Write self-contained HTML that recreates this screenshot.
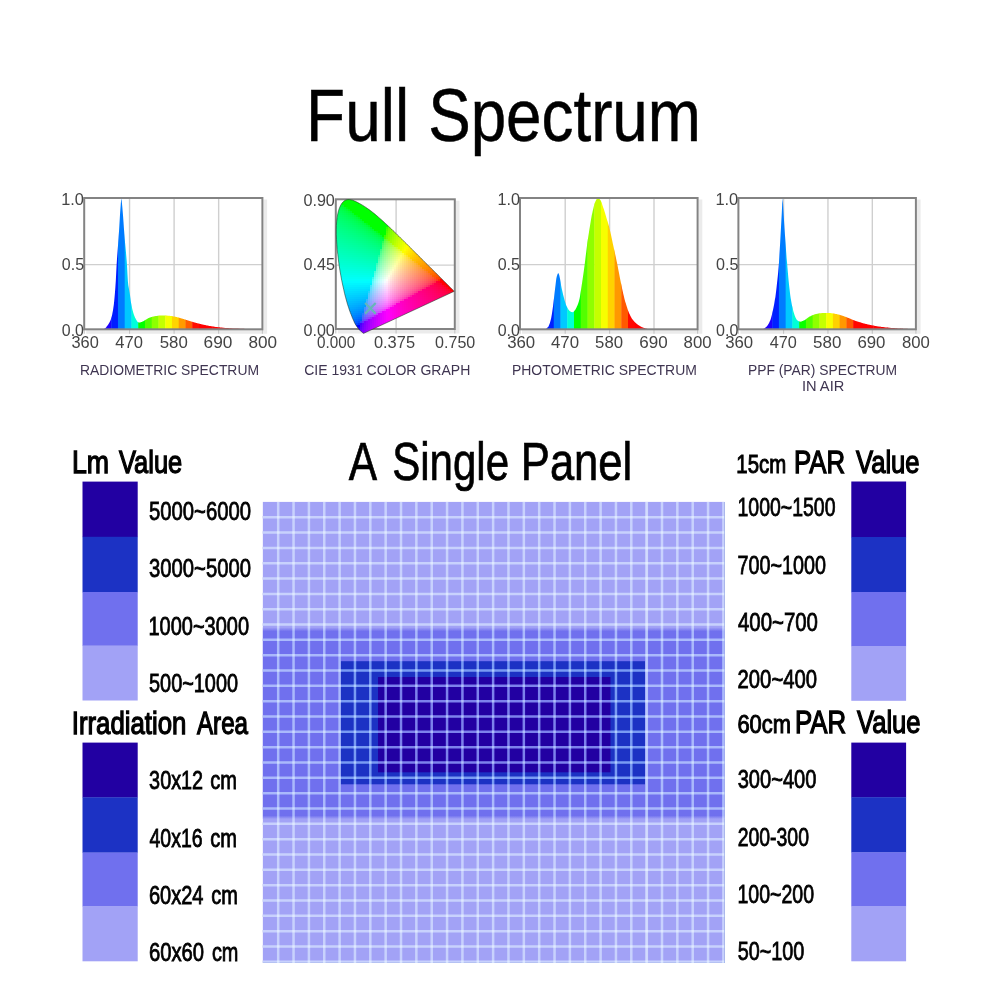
<!DOCTYPE html>
<html lang="en"><head><meta charset="utf-8"><title>Full Spectrum</title>
<style>html,body{margin:0;padding:0;background:#fff}body{width:1000px;height:1000px;overflow:hidden}svg{display:block}text{font-family:"Liberation Sans", sans-serif}.ax{font-size:13.6px;fill:#4a4a4a}.cap{font-size:12.5px;fill:#4d4058}</style></head><body>
<svg width="1000" height="1000" viewBox="0 0 1000 1000">
<rect width="1000" height="1000" fill="#fff"/>
<g>
<rect x="84.2" y="198.0" width="178.2" height="131.3" fill="#fff"/>
<line x1="129.55" y1="198.0" x2="129.55" y2="329.3" stroke="#cfcfcf" stroke-width="1.4"/>
<line x1="174.10" y1="198.0" x2="174.10" y2="329.3" stroke="#cfcfcf" stroke-width="1.4"/>
<line x1="218.65" y1="198.0" x2="218.65" y2="329.3" stroke="#cfcfcf" stroke-width="1.4"/>
<line x1="84.2" y1="264.65" x2="262.4" y2="264.65" stroke="#cfcfcf" stroke-width="1.4"/>
<clipPath id="c1"><path d="M102.4,329.3L102.4,329.3L102.8,329.3L103.2,329.2L103.6,329.1L104.0,328.9L104.5,328.7L104.9,328.5L105.3,328.2L105.7,327.8L106.1,327.4L106.5,326.8L106.9,326.3L107.3,325.8L107.7,325.3L108.1,324.7L108.5,324.1L108.9,323.4L109.3,322.7L109.7,322.0L110.1,321.2L110.5,320.3L110.9,319.3L111.3,318.1L111.7,316.7L112.1,314.9L112.5,312.8L113.0,310.3L113.4,307.6L113.8,304.7L114.2,301.0L114.6,296.7L115.0,292.1L115.4,286.8L115.8,280.7L116.2,272.7L116.6,265.0L117.0,258.8L117.4,253.4L117.8,248.3L118.2,243.1L118.6,237.7L119.0,231.5L119.4,224.7L119.8,217.9L120.2,211.4L120.7,205.1L121.1,199.9L121.5,198.7L121.9,202.7L122.3,206.8L122.7,211.4L123.1,216.4L123.5,222.0L123.9,227.9L124.3,233.7L124.7,238.7L125.1,243.3L125.5,247.5L125.9,251.7L126.3,256.2L126.7,261.1L127.1,266.9L127.5,274.8L127.9,281.6L128.3,285.2L128.8,288.0L129.2,290.2L129.6,292.5L130.0,295.1L130.4,298.0L130.8,301.0L131.2,303.7L131.6,305.9L132.0,307.7L132.4,309.4L132.8,311.0L133.2,312.4L133.6,313.8L134.0,315.0L134.4,316.1L134.8,317.0L135.2,317.9L135.6,318.6L136.0,319.4L136.4,320.1L136.8,320.8L137.3,321.4L137.7,321.9L138.1,322.3L138.5,322.5L138.9,322.6L139.3,322.6L139.7,322.5L140.1,322.4L140.5,322.3L140.9,322.2L141.3,322.0L141.7,321.9L142.1,321.7L142.5,321.6L142.9,321.4L143.3,321.3L143.7,321.1L144.1,320.8L144.5,320.6L144.9,320.3L145.4,320.1L145.8,319.8L146.2,319.5L146.6,319.2L147.0,319.0L147.4,318.7L147.8,318.5L148.2,318.2L148.6,318.0L149.0,317.9L149.4,317.7L149.8,317.6L150.2,317.4L150.6,317.3L151.0,317.2L151.4,317.0L151.8,316.9L152.2,316.8L152.6,316.7L153.1,316.6L153.5,316.5L153.9,316.4L154.3,316.3L154.7,316.2L155.1,316.2L155.5,316.1L155.9,316.0L156.3,316.0L156.7,315.9L157.1,315.9L157.5,315.8L157.9,315.8L158.3,315.7L158.7,315.7L159.1,315.6L159.5,315.6L159.9,315.6L160.3,315.5L160.7,315.5L161.1,315.5L161.6,315.5L162.0,315.5L162.4,315.5L162.8,315.5L163.2,315.5L163.6,315.5L164.0,315.5L164.4,315.6L164.8,315.6L165.2,315.6L165.6,315.6L166.0,315.6L166.4,315.6L166.8,315.6L167.2,315.6L167.6,315.7L168.0,315.7L168.4,315.7L168.8,315.8L169.2,315.8L169.7,315.8L170.1,315.9L170.5,315.9L170.9,316.0L171.3,316.1L171.7,316.1L172.1,316.2L172.5,316.2L172.9,316.3L173.3,316.4L173.7,316.4L174.1,316.5L174.5,316.6L174.9,316.7L175.3,316.7L175.7,316.8L176.1,316.9L176.5,317.0L176.9,317.1L177.3,317.2L177.8,317.4L178.2,317.5L178.6,317.6L179.0,317.7L179.4,317.8L179.8,317.9L180.2,318.1L180.6,318.2L181.0,318.3L181.4,318.4L181.8,318.5L182.2,318.6L182.6,318.8L183.0,318.9L183.4,319.0L183.8,319.1L184.2,319.3L184.6,319.4L185.0,319.5L185.4,319.7L185.9,319.8L186.3,319.9L186.7,320.1L187.1,320.2L187.5,320.3L187.9,320.5L188.3,320.6L188.7,320.7L189.1,320.8L189.5,321.0L189.9,321.1L190.3,321.2L190.7,321.3L191.1,321.5L191.5,321.6L191.9,321.7L192.3,321.8L192.7,321.9L193.1,322.0L193.6,322.2L194.0,322.3L194.4,322.4L194.8,322.5L195.2,322.6L195.6,322.7L196.0,322.9L196.4,323.0L196.8,323.1L197.2,323.2L197.6,323.3L198.0,323.4L198.4,323.5L198.8,323.6L199.2,323.7L199.6,323.8L200.0,323.9L200.4,324.0L200.8,324.1L201.2,324.2L201.6,324.3L202.1,324.4L202.5,324.5L202.9,324.6L203.3,324.7L203.7,324.8L204.1,324.8L204.5,324.9L204.9,325.0L205.3,325.1L205.7,325.2L206.1,325.3L206.5,325.4L206.9,325.4L207.3,325.5L207.7,325.6L208.1,325.7L208.5,325.8L208.9,325.8L209.3,325.9L209.8,326.0L210.2,326.1L210.6,326.1L211.0,326.2L211.4,326.3L211.8,326.3L212.2,326.4L212.6,326.5L213.0,326.5L213.4,326.6L213.8,326.6L214.2,326.7L214.6,326.8L215.0,326.8L215.4,326.9L215.8,326.9L216.2,327.0L216.6,327.0L217.0,327.1L217.4,327.1L217.8,327.2L218.3,327.2L218.7,327.2L219.1,327.3L219.5,327.3L219.9,327.4L220.3,327.4L220.7,327.5L221.1,327.5L221.5,327.6L221.9,327.6L222.3,327.6L222.7,327.7L223.1,327.7L223.5,327.8L223.9,327.8L224.3,327.8L224.7,327.9L225.1,327.9L225.5,327.9L225.9,328.0L226.4,328.0L226.8,328.0L227.2,328.1L227.6,328.1L228.0,328.1L228.4,328.1L228.8,328.2L229.2,328.2L229.6,328.2L230.0,328.2L230.4,328.3L230.8,328.3L231.2,328.3L231.6,328.3L232.0,328.4L232.4,328.4L232.8,328.4L233.2,328.4L233.6,328.4L234.1,328.5L234.5,328.5L234.9,328.5L235.3,328.5L235.7,328.5L236.1,328.5L236.5,328.6L236.9,328.6L237.3,328.6L237.7,328.6L238.1,328.6L238.5,328.6L238.9,328.7L239.3,328.7L239.7,328.7L240.1,328.7L240.5,328.7L240.9,328.7L241.3,328.7L241.7,328.8L242.1,328.8L242.6,328.8L243.0,328.8L243.4,328.8L243.8,328.8L244.2,328.8L244.6,328.9L245.0,328.9L245.4,328.9L245.8,328.9L246.2,328.9L246.6,328.9L247.0,328.9L247.4,328.9L247.8,329.0L248.2,329.0L248.6,329.0L249.0,329.0L249.4,329.0L249.8,329.0L250.2,329.0L250.7,329.0L251.1,329.1L251.5,329.1L251.9,329.1L252.3,329.1L252.7,329.1L253.1,329.1L253.5,329.1L253.9,329.1L254.3,329.1L254.7,329.1L255.1,329.2L255.5,329.2L255.9,329.2L256.3,329.2L256.7,329.2L257.1,329.2L257.5,329.2L257.9,329.2L258.3,329.2L258.8,329.2L259.2,329.3L259.6,329.3L260.0,329.3L260.4,329.3L260.8,329.3L261.2,329.3L261.6,329.3L261.6,329.3Z"/></clipPath>
<g clip-path="url(#c1)">
<rect x="84.20" y="198.0" width="7.15" height="131.3" fill="#3c009e"/>
<rect x="90.95" y="198.0" width="7.15" height="131.3" fill="#3c00c0"/>
<rect x="97.70" y="198.0" width="7.15" height="131.3" fill="#3300e8"/>
<rect x="104.45" y="198.0" width="7.15" height="131.3" fill="#1d00ff"/>
<rect x="111.20" y="198.0" width="7.15" height="131.3" fill="#001dff"/>
<rect x="117.95" y="198.0" width="7.15" height="131.3" fill="#007bff"/>
<rect x="124.70" y="198.0" width="7.15" height="131.3" fill="#00c7ff"/>
<rect x="131.45" y="198.0" width="7.15" height="131.3" fill="#00ffdc"/>
<rect x="138.20" y="198.0" width="7.15" height="131.3" fill="#00ff00"/>
<rect x="144.95" y="198.0" width="7.15" height="131.3" fill="#51ff00"/>
<rect x="151.70" y="198.0" width="7.15" height="131.3" fill="#8dff00"/>
<rect x="158.45" y="198.0" width="7.15" height="131.3" fill="#c3ff00"/>
<rect x="165.20" y="198.0" width="7.15" height="131.3" fill="#f5ff00"/>
<rect x="171.95" y="198.0" width="7.15" height="131.3" fill="#ffd400"/>
<rect x="178.70" y="198.0" width="7.15" height="131.3" fill="#ff9b00"/>
<rect x="185.45" y="198.0" width="7.15" height="131.3" fill="#ff5d00"/>
<rect x="192.20" y="198.0" width="7.15" height="131.3" fill="#ff0e00"/>
<rect x="198.95" y="198.0" width="7.15" height="131.3" fill="#ff0000"/>
<rect x="205.70" y="198.0" width="7.15" height="131.3" fill="#ff0000"/>
<rect x="212.45" y="198.0" width="7.15" height="131.3" fill="#ff0000"/>
<rect x="219.20" y="198.0" width="7.15" height="131.3" fill="#f50000"/>
<rect x="225.95" y="198.0" width="7.15" height="131.3" fill="#e30000"/>
<rect x="232.70" y="198.0" width="7.15" height="131.3" fill="#d20000"/>
<rect x="239.45" y="198.0" width="7.15" height="131.3" fill="#c00000"/>
<rect x="246.20" y="198.0" width="7.15" height="131.3" fill="#ad0000"/>
<rect x="252.95" y="198.0" width="7.15" height="131.3" fill="#a90000"/>
<rect x="259.70" y="198.0" width="7.15" height="131.3" fill="#a90000"/>
</g>
<path d="M265.3,199.5V331.9H86.2" fill="none" stroke="#ebebeb" stroke-width="3.6"/>
<line x1="84.20" y1="329.3" x2="84.20" y2="333.8" stroke="#c4c4c4" stroke-width="1.1"/>
<line x1="129.55" y1="329.3" x2="129.55" y2="333.8" stroke="#c4c4c4" stroke-width="1.1"/>
<line x1="174.10" y1="329.3" x2="174.10" y2="333.8" stroke="#c4c4c4" stroke-width="1.1"/>
<line x1="218.65" y1="329.3" x2="218.65" y2="333.8" stroke="#c4c4c4" stroke-width="1.1"/>
<line x1="262.40" y1="329.3" x2="262.40" y2="333.8" stroke="#c4c4c4" stroke-width="1.1"/>
<rect x="84.2" y="198.0" width="178.2" height="131.3" fill="none" stroke="#838383" stroke-width="2"/>
</g>
<g>
<rect x="335.8" y="199.3" width="119.0" height="129.7" fill="#fff"/>
<line x1="396.10" y1="199.3" x2="396.10" y2="329.0" stroke="#cfcfcf" stroke-width="1.4"/>
<line x1="335.8" y1="265.15" x2="454.8" y2="265.15" stroke="#cfcfcf" stroke-width="1.4"/>
<path d="M457.7,200.8V331.6H337.8" fill="none" stroke="#ebebeb" stroke-width="3.6"/>
<line x1="335.80" y1="329.0" x2="335.80" y2="333.5" stroke="#c4c4c4" stroke-width="1.1"/>
<line x1="396.10" y1="329.0" x2="396.10" y2="333.5" stroke="#c4c4c4" stroke-width="1.1"/>
<line x1="454.80" y1="329.0" x2="454.80" y2="333.5" stroke="#c4c4c4" stroke-width="1.1"/>
<rect x="335.8" y="199.3" width="119.0" height="129.7" fill="none" stroke="#838383" stroke-width="2"/>
</g>
<clipPath id="cie"><path d="M363.8,333.3L363.8,333.3L363.7,333.3L363.7,333.3L363.6,333.3L363.6,333.3L363.5,333.3L363.4,333.3L363.3,333.3L363.2,333.2L363.1,333.1L363.0,333.1L362.9,332.9L362.7,332.8L362.6,332.6L362.3,332.5L362.1,332.2L361.8,332.0L361.5,331.7L361.1,331.4L360.7,331.1L360.3,330.7L359.7,330.2L359.1,329.5L358.4,328.6L357.5,327.5L356.6,326.2L355.8,325.0L355.1,323.8L354.5,322.7L354.0,321.5L353.4,320.1L352.7,318.6L352.0,316.8L351.2,314.7L350.3,312.5L349.4,310.0L348.5,307.2L347.5,304.3L346.6,301.0L345.6,297.4L344.6,293.6L343.7,289.4L342.7,285.0L341.7,280.3L340.8,275.4L339.9,270.3L339.1,265.1L338.4,259.9L337.8,254.6L337.2,249.4L336.8,244.3L336.5,239.3L336.3,234.5L336.3,229.8L336.4,225.4L336.7,221.2L337.2,217.3L337.8,213.7L338.6,210.4L339.6,207.6L340.7,205.2L341.9,203.2L343.3,201.7L344.7,200.6L346.2,199.9L347.8,199.6L349.4,199.6L351.1,199.9L352.8,200.3L354.5,201.0L356.2,201.7L357.8,202.6L359.5,203.5L361.2,204.4L362.8,205.4L364.4,206.4L365.9,207.4L367.5,208.5L369.0,209.6L370.6,210.7L372.1,211.9L373.6,213.1L375.1,214.3L376.6,215.6L378.1,216.9L379.6,218.2L381.1,219.5L382.6,220.8L384.1,222.2L385.5,223.5L387.0,224.9L388.5,226.3L390.0,227.7L391.5,229.1L393.0,230.6L394.5,232.0L396.0,233.4L397.4,234.9L398.9,236.3L400.4,237.8L401.9,239.2L403.4,240.7L404.8,242.2L406.3,243.6L407.8,245.1L409.2,246.5L410.7,247.9L412.1,249.4L413.5,250.8L414.9,252.2L416.3,253.6L417.7,255.0L419.1,256.3L420.5,257.7L421.8,259.0L423.1,260.4L424.4,261.7L425.7,262.9L427.0,264.2L428.2,265.4L429.4,266.6L430.7,267.9L431.8,269.0L432.9,270.0L433.8,271.0L434.7,271.9L435.7,272.8L436.9,274.0L438.4,275.5L440.1,277.2L441.8,278.9L443.3,280.4L444.6,281.7L445.7,282.8L446.6,283.8L447.5,284.6L448.2,285.3L448.9,286.0L449.5,286.6L450.1,287.2L450.6,287.7L451.1,288.2L451.5,288.6L451.9,289.0L452.2,289.3L452.5,289.6L452.7,289.8L452.9,290.0L453.1,290.2L453.3,290.4L453.4,290.5L453.6,290.7L453.7,290.8L453.9,291.0L454.0,291.1L454.1,291.2L454.2,291.3L454.2,291.3L454.2,291.3Z"/></clipPath>
<g clip-path="url(#cie)" shape-rendering="crispEdges">
<rect x="344" y="197" width="2" height="2" fill="#00ff00"/>
<rect x="346" y="197" width="2" height="2" fill="#00ff00"/>
<rect x="348" y="197" width="2" height="2" fill="#00ff00"/>
<rect x="350" y="197" width="2" height="2" fill="#00ff00"/>
<rect x="352" y="197" width="2" height="2" fill="#00ff00"/>
<rect x="340" y="199" width="2" height="2" fill="#00ff00"/>
<rect x="342" y="199" width="2" height="2" fill="#00ff00"/>
<rect x="344" y="199" width="2" height="2" fill="#00ff00"/>
<rect x="346" y="199" width="2" height="2" fill="#00ff00"/>
<rect x="348" y="199" width="2" height="2" fill="#00ff00"/>
<rect x="350" y="199" width="2" height="2" fill="#00ff00"/>
<rect x="352" y="199" width="2" height="2" fill="#00ff00"/>
<rect x="354" y="199" width="2" height="2" fill="#00ff00"/>
<rect x="356" y="199" width="2" height="2" fill="#00ff00"/>
<rect x="340" y="201" width="2" height="2" fill="#00ff00"/>
<rect x="342" y="201" width="2" height="2" fill="#00ff00"/>
<rect x="344" y="201" width="2" height="2" fill="#00ff00"/>
<rect x="346" y="201" width="2" height="2" fill="#00ff00"/>
<rect x="348" y="201" width="2" height="2" fill="#00ff00"/>
<rect x="350" y="201" width="2" height="2" fill="#00ff00"/>
<rect x="352" y="201" width="2" height="2" fill="#00ff00"/>
<rect x="354" y="201" width="2" height="2" fill="#00ff00"/>
<rect x="356" y="201" width="2" height="2" fill="#00ff00"/>
<rect x="358" y="201" width="2" height="2" fill="#00ff00"/>
<rect x="360" y="201" width="2" height="2" fill="#00ff00"/>
<rect x="338" y="203" width="2" height="2" fill="#00ff35"/>
<rect x="340" y="203" width="2" height="2" fill="#00ff25"/>
<rect x="342" y="203" width="2" height="2" fill="#00ff00"/>
<rect x="344" y="203" width="2" height="2" fill="#00ff00"/>
<rect x="346" y="203" width="2" height="2" fill="#00ff00"/>
<rect x="348" y="203" width="2" height="2" fill="#00ff00"/>
<rect x="350" y="203" width="2" height="2" fill="#00ff00"/>
<rect x="352" y="203" width="2" height="2" fill="#00ff00"/>
<rect x="354" y="203" width="2" height="2" fill="#00ff00"/>
<rect x="356" y="203" width="2" height="2" fill="#00ff00"/>
<rect x="358" y="203" width="2" height="2" fill="#00ff00"/>
<rect x="360" y="203" width="2" height="2" fill="#00ff00"/>
<rect x="362" y="203" width="2" height="2" fill="#00ff00"/>
<rect x="364" y="203" width="2" height="2" fill="#00ff00"/>
<rect x="338" y="205" width="2" height="2" fill="#00ff42"/>
<rect x="340" y="205" width="2" height="2" fill="#00ff39"/>
<rect x="342" y="205" width="2" height="2" fill="#00ff2b"/>
<rect x="344" y="205" width="2" height="2" fill="#00ff00"/>
<rect x="346" y="205" width="2" height="2" fill="#00ff00"/>
<rect x="348" y="205" width="2" height="2" fill="#00ff00"/>
<rect x="350" y="205" width="2" height="2" fill="#00ff00"/>
<rect x="352" y="205" width="2" height="2" fill="#00ff00"/>
<rect x="354" y="205" width="2" height="2" fill="#00ff00"/>
<rect x="356" y="205" width="2" height="2" fill="#00ff00"/>
<rect x="358" y="205" width="2" height="2" fill="#00ff00"/>
<rect x="360" y="205" width="2" height="2" fill="#00ff00"/>
<rect x="362" y="205" width="2" height="2" fill="#00ff00"/>
<rect x="364" y="205" width="2" height="2" fill="#00ff00"/>
<rect x="366" y="205" width="2" height="2" fill="#00ff00"/>
<rect x="336" y="207" width="2" height="2" fill="#00ff52"/>
<rect x="338" y="207" width="2" height="2" fill="#00ff4c"/>
<rect x="340" y="207" width="2" height="2" fill="#00ff45"/>
<rect x="342" y="207" width="2" height="2" fill="#00ff3c"/>
<rect x="344" y="207" width="2" height="2" fill="#00ff30"/>
<rect x="346" y="207" width="2" height="2" fill="#00ff13"/>
<rect x="348" y="207" width="2" height="2" fill="#00ff00"/>
<rect x="350" y="207" width="2" height="2" fill="#00ff00"/>
<rect x="352" y="207" width="2" height="2" fill="#00ff00"/>
<rect x="354" y="207" width="2" height="2" fill="#00ff00"/>
<rect x="356" y="207" width="2" height="2" fill="#00ff00"/>
<rect x="358" y="207" width="2" height="2" fill="#00ff00"/>
<rect x="360" y="207" width="2" height="2" fill="#00ff00"/>
<rect x="362" y="207" width="2" height="2" fill="#00ff00"/>
<rect x="364" y="207" width="2" height="2" fill="#00ff00"/>
<rect x="366" y="207" width="2" height="2" fill="#00ff00"/>
<rect x="368" y="207" width="2" height="2" fill="#00ff00"/>
<rect x="370" y="207" width="2" height="2" fill="#00ff00"/>
<rect x="336" y="209" width="2" height="2" fill="#00ff59"/>
<rect x="338" y="209" width="2" height="2" fill="#00ff54"/>
<rect x="340" y="209" width="2" height="2" fill="#00ff4f"/>
<rect x="342" y="209" width="2" height="2" fill="#00ff48"/>
<rect x="344" y="209" width="2" height="2" fill="#00ff3f"/>
<rect x="346" y="209" width="2" height="2" fill="#00ff34"/>
<rect x="348" y="209" width="2" height="2" fill="#00ff20"/>
<rect x="350" y="209" width="2" height="2" fill="#00ff00"/>
<rect x="352" y="209" width="2" height="2" fill="#00ff00"/>
<rect x="354" y="209" width="2" height="2" fill="#00ff00"/>
<rect x="356" y="209" width="2" height="2" fill="#00ff00"/>
<rect x="358" y="209" width="2" height="2" fill="#00ff00"/>
<rect x="360" y="209" width="2" height="2" fill="#00ff00"/>
<rect x="362" y="209" width="2" height="2" fill="#00ff00"/>
<rect x="364" y="209" width="2" height="2" fill="#00ff00"/>
<rect x="366" y="209" width="2" height="2" fill="#00ff00"/>
<rect x="368" y="209" width="2" height="2" fill="#00ff00"/>
<rect x="370" y="209" width="2" height="2" fill="#00ff00"/>
<rect x="372" y="209" width="2" height="2" fill="#00ff00"/>
<rect x="336" y="211" width="2" height="2" fill="#00ff60"/>
<rect x="338" y="211" width="2" height="2" fill="#00ff5c"/>
<rect x="340" y="211" width="2" height="2" fill="#00ff57"/>
<rect x="342" y="211" width="2" height="2" fill="#00ff51"/>
<rect x="344" y="211" width="2" height="2" fill="#00ff4a"/>
<rect x="346" y="211" width="2" height="2" fill="#00ff42"/>
<rect x="348" y="211" width="2" height="2" fill="#00ff38"/>
<rect x="350" y="211" width="2" height="2" fill="#00ff27"/>
<rect x="352" y="211" width="2" height="2" fill="#00ff00"/>
<rect x="354" y="211" width="2" height="2" fill="#00ff00"/>
<rect x="356" y="211" width="2" height="2" fill="#00ff00"/>
<rect x="358" y="211" width="2" height="2" fill="#00ff00"/>
<rect x="360" y="211" width="2" height="2" fill="#00ff00"/>
<rect x="362" y="211" width="2" height="2" fill="#00ff00"/>
<rect x="364" y="211" width="2" height="2" fill="#00ff00"/>
<rect x="366" y="211" width="2" height="2" fill="#00ff00"/>
<rect x="368" y="211" width="2" height="2" fill="#00ff00"/>
<rect x="370" y="211" width="2" height="2" fill="#00ff00"/>
<rect x="372" y="211" width="2" height="2" fill="#00ff00"/>
<rect x="374" y="211" width="2" height="2" fill="#00ff00"/>
<rect x="336" y="213" width="2" height="2" fill="#00ff66"/>
<rect x="338" y="213" width="2" height="2" fill="#00ff62"/>
<rect x="340" y="213" width="2" height="2" fill="#00ff5e"/>
<rect x="342" y="213" width="2" height="2" fill="#00ff59"/>
<rect x="344" y="213" width="2" height="2" fill="#00ff53"/>
<rect x="346" y="213" width="2" height="2" fill="#00ff4d"/>
<rect x="348" y="213" width="2" height="2" fill="#00ff45"/>
<rect x="350" y="213" width="2" height="2" fill="#00ff3c"/>
<rect x="352" y="213" width="2" height="2" fill="#00ff2d"/>
<rect x="354" y="213" width="2" height="2" fill="#00ff00"/>
<rect x="356" y="213" width="2" height="2" fill="#00ff00"/>
<rect x="358" y="213" width="2" height="2" fill="#00ff00"/>
<rect x="360" y="213" width="2" height="2" fill="#00ff00"/>
<rect x="362" y="213" width="2" height="2" fill="#00ff00"/>
<rect x="364" y="213" width="2" height="2" fill="#00ff00"/>
<rect x="366" y="213" width="2" height="2" fill="#00ff00"/>
<rect x="368" y="213" width="2" height="2" fill="#00ff00"/>
<rect x="370" y="213" width="2" height="2" fill="#00ff00"/>
<rect x="372" y="213" width="2" height="2" fill="#00ff00"/>
<rect x="374" y="213" width="2" height="2" fill="#00ff00"/>
<rect x="376" y="213" width="2" height="2" fill="#00ff00"/>
<rect x="378" y="213" width="2" height="2" fill="#00ff00"/>
<rect x="336" y="215" width="2" height="2" fill="#00ff6c"/>
<rect x="338" y="215" width="2" height="2" fill="#00ff68"/>
<rect x="340" y="215" width="2" height="2" fill="#00ff64"/>
<rect x="342" y="215" width="2" height="2" fill="#00ff60"/>
<rect x="344" y="215" width="2" height="2" fill="#00ff5b"/>
<rect x="346" y="215" width="2" height="2" fill="#00ff56"/>
<rect x="348" y="215" width="2" height="2" fill="#00ff50"/>
<rect x="350" y="215" width="2" height="2" fill="#00ff48"/>
<rect x="352" y="215" width="2" height="2" fill="#00ff3f"/>
<rect x="354" y="215" width="2" height="2" fill="#00ff32"/>
<rect x="356" y="215" width="2" height="2" fill="#00ff17"/>
<rect x="358" y="215" width="2" height="2" fill="#00ff00"/>
<rect x="360" y="215" width="2" height="2" fill="#00ff00"/>
<rect x="362" y="215" width="2" height="2" fill="#00ff00"/>
<rect x="364" y="215" width="2" height="2" fill="#00ff00"/>
<rect x="366" y="215" width="2" height="2" fill="#00ff00"/>
<rect x="368" y="215" width="2" height="2" fill="#00ff00"/>
<rect x="370" y="215" width="2" height="2" fill="#00ff00"/>
<rect x="372" y="215" width="2" height="2" fill="#00ff00"/>
<rect x="374" y="215" width="2" height="2" fill="#00ff00"/>
<rect x="376" y="215" width="2" height="2" fill="#00ff00"/>
<rect x="378" y="215" width="2" height="2" fill="#00ff00"/>
<rect x="380" y="215" width="2" height="2" fill="#00ff00"/>
<rect x="334" y="217" width="2" height="2" fill="#00ff74"/>
<rect x="336" y="217" width="2" height="2" fill="#00ff71"/>
<rect x="338" y="217" width="2" height="2" fill="#00ff6e"/>
<rect x="340" y="217" width="2" height="2" fill="#00ff6a"/>
<rect x="342" y="217" width="2" height="2" fill="#00ff66"/>
<rect x="344" y="217" width="2" height="2" fill="#00ff62"/>
<rect x="346" y="217" width="2" height="2" fill="#00ff5d"/>
<rect x="348" y="217" width="2" height="2" fill="#00ff58"/>
<rect x="350" y="217" width="2" height="2" fill="#00ff52"/>
<rect x="352" y="217" width="2" height="2" fill="#00ff4b"/>
<rect x="354" y="217" width="2" height="2" fill="#00ff42"/>
<rect x="356" y="217" width="2" height="2" fill="#00ff37"/>
<rect x="358" y="217" width="2" height="2" fill="#00ff23"/>
<rect x="360" y="217" width="2" height="2" fill="#00ff00"/>
<rect x="362" y="217" width="2" height="2" fill="#00ff00"/>
<rect x="364" y="217" width="2" height="2" fill="#00ff00"/>
<rect x="366" y="217" width="2" height="2" fill="#00ff00"/>
<rect x="368" y="217" width="2" height="2" fill="#00ff00"/>
<rect x="370" y="217" width="2" height="2" fill="#00ff00"/>
<rect x="372" y="217" width="2" height="2" fill="#00ff00"/>
<rect x="374" y="217" width="2" height="2" fill="#00ff00"/>
<rect x="376" y="217" width="2" height="2" fill="#00ff00"/>
<rect x="378" y="217" width="2" height="2" fill="#00ff00"/>
<rect x="380" y="217" width="2" height="2" fill="#00ff00"/>
<rect x="382" y="217" width="2" height="2" fill="#00ff00"/>
<rect x="334" y="219" width="2" height="2" fill="#00ff79"/>
<rect x="336" y="219" width="2" height="2" fill="#00ff76"/>
<rect x="338" y="219" width="2" height="2" fill="#00ff73"/>
<rect x="340" y="219" width="2" height="2" fill="#00ff70"/>
<rect x="342" y="219" width="2" height="2" fill="#00ff6c"/>
<rect x="344" y="219" width="2" height="2" fill="#00ff68"/>
<rect x="346" y="219" width="2" height="2" fill="#00ff64"/>
<rect x="348" y="219" width="2" height="2" fill="#00ff60"/>
<rect x="350" y="219" width="2" height="2" fill="#00ff5b"/>
<rect x="352" y="219" width="2" height="2" fill="#00ff55"/>
<rect x="354" y="219" width="2" height="2" fill="#00ff4e"/>
<rect x="356" y="219" width="2" height="2" fill="#00ff46"/>
<rect x="358" y="219" width="2" height="2" fill="#00ff3b"/>
<rect x="360" y="219" width="2" height="2" fill="#00ff2a"/>
<rect x="362" y="219" width="2" height="2" fill="#00ff00"/>
<rect x="364" y="219" width="2" height="2" fill="#00ff00"/>
<rect x="366" y="219" width="2" height="2" fill="#00ff00"/>
<rect x="368" y="219" width="2" height="2" fill="#00ff00"/>
<rect x="370" y="219" width="2" height="2" fill="#00ff00"/>
<rect x="372" y="219" width="2" height="2" fill="#00ff00"/>
<rect x="374" y="219" width="2" height="2" fill="#00ff00"/>
<rect x="376" y="219" width="2" height="2" fill="#00ff00"/>
<rect x="378" y="219" width="2" height="2" fill="#00ff00"/>
<rect x="380" y="219" width="2" height="2" fill="#00ff00"/>
<rect x="382" y="219" width="2" height="2" fill="#00ff00"/>
<rect x="384" y="219" width="2" height="2" fill="#00ff00"/>
<rect x="334" y="221" width="2" height="2" fill="#00ff7e"/>
<rect x="336" y="221" width="2" height="2" fill="#00ff7b"/>
<rect x="338" y="221" width="2" height="2" fill="#00ff78"/>
<rect x="340" y="221" width="2" height="2" fill="#00ff75"/>
<rect x="342" y="221" width="2" height="2" fill="#00ff72"/>
<rect x="344" y="221" width="2" height="2" fill="#00ff6e"/>
<rect x="346" y="221" width="2" height="2" fill="#00ff6b"/>
<rect x="348" y="221" width="2" height="2" fill="#00ff67"/>
<rect x="350" y="221" width="2" height="2" fill="#00ff62"/>
<rect x="352" y="221" width="2" height="2" fill="#00ff5d"/>
<rect x="354" y="221" width="2" height="2" fill="#00ff57"/>
<rect x="356" y="221" width="2" height="2" fill="#00ff51"/>
<rect x="358" y="221" width="2" height="2" fill="#00ff49"/>
<rect x="360" y="221" width="2" height="2" fill="#00ff3f"/>
<rect x="362" y="221" width="2" height="2" fill="#00ff30"/>
<rect x="364" y="221" width="2" height="2" fill="#00ff00"/>
<rect x="366" y="221" width="2" height="2" fill="#00ff00"/>
<rect x="368" y="221" width="2" height="2" fill="#00ff00"/>
<rect x="370" y="221" width="2" height="2" fill="#00ff00"/>
<rect x="372" y="221" width="2" height="2" fill="#00ff00"/>
<rect x="374" y="221" width="2" height="2" fill="#00ff00"/>
<rect x="376" y="221" width="2" height="2" fill="#00ff00"/>
<rect x="378" y="221" width="2" height="2" fill="#00ff00"/>
<rect x="380" y="221" width="2" height="2" fill="#00ff00"/>
<rect x="382" y="221" width="2" height="2" fill="#00ff00"/>
<rect x="384" y="221" width="2" height="2" fill="#00ff00"/>
<rect x="386" y="221" width="2" height="2" fill="#00ff00"/>
<rect x="334" y="223" width="2" height="2" fill="#00ff82"/>
<rect x="336" y="223" width="2" height="2" fill="#00ff80"/>
<rect x="338" y="223" width="2" height="2" fill="#00ff7d"/>
<rect x="340" y="223" width="2" height="2" fill="#00ff7a"/>
<rect x="342" y="223" width="2" height="2" fill="#00ff77"/>
<rect x="344" y="223" width="2" height="2" fill="#00ff74"/>
<rect x="346" y="223" width="2" height="2" fill="#00ff71"/>
<rect x="348" y="223" width="2" height="2" fill="#00ff6d"/>
<rect x="350" y="223" width="2" height="2" fill="#00ff69"/>
<rect x="352" y="223" width="2" height="2" fill="#00ff64"/>
<rect x="354" y="223" width="2" height="2" fill="#00ff5f"/>
<rect x="356" y="223" width="2" height="2" fill="#00ff5a"/>
<rect x="358" y="223" width="2" height="2" fill="#00ff53"/>
<rect x="360" y="223" width="2" height="2" fill="#00ff4c"/>
<rect x="362" y="223" width="2" height="2" fill="#00ff42"/>
<rect x="364" y="223" width="2" height="2" fill="#00ff35"/>
<rect x="366" y="223" width="2" height="2" fill="#00ff1a"/>
<rect x="368" y="223" width="2" height="2" fill="#00ff00"/>
<rect x="370" y="223" width="2" height="2" fill="#00ff00"/>
<rect x="372" y="223" width="2" height="2" fill="#00ff00"/>
<rect x="374" y="223" width="2" height="2" fill="#00ff00"/>
<rect x="376" y="223" width="2" height="2" fill="#00ff00"/>
<rect x="378" y="223" width="2" height="2" fill="#00ff00"/>
<rect x="380" y="223" width="2" height="2" fill="#00ff00"/>
<rect x="382" y="223" width="2" height="2" fill="#00ff00"/>
<rect x="384" y="223" width="2" height="2" fill="#00ff00"/>
<rect x="386" y="223" width="2" height="2" fill="#00ff00"/>
<rect x="388" y="223" width="2" height="2" fill="#47ff00"/>
<rect x="334" y="225" width="2" height="2" fill="#00ff87"/>
<rect x="336" y="225" width="2" height="2" fill="#00ff84"/>
<rect x="338" y="225" width="2" height="2" fill="#00ff82"/>
<rect x="340" y="225" width="2" height="2" fill="#00ff7f"/>
<rect x="342" y="225" width="2" height="2" fill="#00ff7c"/>
<rect x="344" y="225" width="2" height="2" fill="#00ff79"/>
<rect x="346" y="225" width="2" height="2" fill="#00ff76"/>
<rect x="348" y="225" width="2" height="2" fill="#00ff73"/>
<rect x="350" y="225" width="2" height="2" fill="#00ff6f"/>
<rect x="352" y="225" width="2" height="2" fill="#00ff6b"/>
<rect x="354" y="225" width="2" height="2" fill="#00ff67"/>
<rect x="356" y="225" width="2" height="2" fill="#00ff62"/>
<rect x="358" y="225" width="2" height="2" fill="#00ff5d"/>
<rect x="360" y="225" width="2" height="2" fill="#00ff56"/>
<rect x="362" y="225" width="2" height="2" fill="#00ff4f"/>
<rect x="364" y="225" width="2" height="2" fill="#00ff46"/>
<rect x="366" y="225" width="2" height="2" fill="#00ff3a"/>
<rect x="368" y="225" width="2" height="2" fill="#00ff26"/>
<rect x="370" y="225" width="2" height="2" fill="#00ff00"/>
<rect x="372" y="225" width="2" height="2" fill="#00ff00"/>
<rect x="374" y="225" width="2" height="2" fill="#00ff00"/>
<rect x="376" y="225" width="2" height="2" fill="#00ff00"/>
<rect x="378" y="225" width="2" height="2" fill="#00ff00"/>
<rect x="380" y="225" width="2" height="2" fill="#00ff00"/>
<rect x="382" y="225" width="2" height="2" fill="#00ff00"/>
<rect x="384" y="225" width="2" height="2" fill="#00ff00"/>
<rect x="386" y="225" width="2" height="2" fill="#00ff00"/>
<rect x="388" y="225" width="2" height="2" fill="#53ff00"/>
<rect x="390" y="225" width="2" height="2" fill="#6dff00"/>
<rect x="334" y="227" width="2" height="2" fill="#00ff8b"/>
<rect x="336" y="227" width="2" height="2" fill="#00ff89"/>
<rect x="338" y="227" width="2" height="2" fill="#00ff86"/>
<rect x="340" y="227" width="2" height="2" fill="#00ff84"/>
<rect x="342" y="227" width="2" height="2" fill="#00ff81"/>
<rect x="344" y="227" width="2" height="2" fill="#00ff7f"/>
<rect x="346" y="227" width="2" height="2" fill="#00ff7c"/>
<rect x="348" y="227" width="2" height="2" fill="#00ff78"/>
<rect x="350" y="227" width="2" height="2" fill="#00ff75"/>
<rect x="352" y="227" width="2" height="2" fill="#00ff71"/>
<rect x="354" y="227" width="2" height="2" fill="#00ff6e"/>
<rect x="356" y="227" width="2" height="2" fill="#00ff69"/>
<rect x="358" y="227" width="2" height="2" fill="#00ff64"/>
<rect x="360" y="227" width="2" height="2" fill="#00ff5f"/>
<rect x="362" y="227" width="2" height="2" fill="#00ff59"/>
<rect x="364" y="227" width="2" height="2" fill="#00ff52"/>
<rect x="366" y="227" width="2" height="2" fill="#00ff4a"/>
<rect x="368" y="227" width="2" height="2" fill="#00ff3e"/>
<rect x="370" y="227" width="2" height="2" fill="#00ff2d"/>
<rect x="372" y="227" width="2" height="2" fill="#00ff00"/>
<rect x="374" y="227" width="2" height="2" fill="#00ff00"/>
<rect x="376" y="227" width="2" height="2" fill="#00ff00"/>
<rect x="378" y="227" width="2" height="2" fill="#00ff00"/>
<rect x="380" y="227" width="2" height="2" fill="#00ff00"/>
<rect x="382" y="227" width="2" height="2" fill="#00ff00"/>
<rect x="384" y="227" width="2" height="2" fill="#00ff00"/>
<rect x="386" y="227" width="2" height="2" fill="#2dff00"/>
<rect x="388" y="227" width="2" height="2" fill="#5cff00"/>
<rect x="390" y="227" width="2" height="2" fill="#74ff00"/>
<rect x="392" y="227" width="2" height="2" fill="#85ff00"/>
<rect x="334" y="229" width="2" height="2" fill="#00ff8f"/>
<rect x="336" y="229" width="2" height="2" fill="#00ff8d"/>
<rect x="338" y="229" width="2" height="2" fill="#00ff8b"/>
<rect x="340" y="229" width="2" height="2" fill="#00ff89"/>
<rect x="342" y="229" width="2" height="2" fill="#00ff86"/>
<rect x="344" y="229" width="2" height="2" fill="#00ff84"/>
<rect x="346" y="229" width="2" height="2" fill="#00ff81"/>
<rect x="348" y="229" width="2" height="2" fill="#00ff7e"/>
<rect x="350" y="229" width="2" height="2" fill="#00ff7b"/>
<rect x="352" y="229" width="2" height="2" fill="#00ff77"/>
<rect x="354" y="229" width="2" height="2" fill="#00ff74"/>
<rect x="356" y="229" width="2" height="2" fill="#00ff70"/>
<rect x="358" y="229" width="2" height="2" fill="#00ff6c"/>
<rect x="360" y="229" width="2" height="2" fill="#00ff67"/>
<rect x="362" y="229" width="2" height="2" fill="#00ff62"/>
<rect x="364" y="229" width="2" height="2" fill="#00ff5c"/>
<rect x="366" y="229" width="2" height="2" fill="#00ff55"/>
<rect x="368" y="229" width="2" height="2" fill="#00ff4d"/>
<rect x="370" y="229" width="2" height="2" fill="#00ff43"/>
<rect x="372" y="229" width="2" height="2" fill="#00ff33"/>
<rect x="374" y="229" width="2" height="2" fill="#00ff00"/>
<rect x="376" y="229" width="2" height="2" fill="#00ff00"/>
<rect x="378" y="229" width="2" height="2" fill="#00ff00"/>
<rect x="380" y="229" width="2" height="2" fill="#00ff00"/>
<rect x="382" y="229" width="2" height="2" fill="#00ff00"/>
<rect x="384" y="229" width="2" height="2" fill="#00ff00"/>
<rect x="386" y="229" width="2" height="2" fill="#41ff00"/>
<rect x="388" y="229" width="2" height="2" fill="#64ff00"/>
<rect x="390" y="229" width="2" height="2" fill="#7aff00"/>
<rect x="392" y="229" width="2" height="2" fill="#8bff00"/>
<rect x="394" y="229" width="2" height="2" fill="#99ff00"/>
<rect x="334" y="231" width="2" height="2" fill="#00ff93"/>
<rect x="336" y="231" width="2" height="2" fill="#00ff91"/>
<rect x="338" y="231" width="2" height="2" fill="#00ff8f"/>
<rect x="340" y="231" width="2" height="2" fill="#00ff8d"/>
<rect x="342" y="231" width="2" height="2" fill="#00ff8b"/>
<rect x="344" y="231" width="2" height="2" fill="#00ff88"/>
<rect x="346" y="231" width="2" height="2" fill="#00ff86"/>
<rect x="348" y="231" width="2" height="2" fill="#00ff83"/>
<rect x="350" y="231" width="2" height="2" fill="#00ff80"/>
<rect x="352" y="231" width="2" height="2" fill="#00ff7d"/>
<rect x="354" y="231" width="2" height="2" fill="#00ff7a"/>
<rect x="356" y="231" width="2" height="2" fill="#00ff76"/>
<rect x="358" y="231" width="2" height="2" fill="#00ff72"/>
<rect x="360" y="231" width="2" height="2" fill="#00ff6e"/>
<rect x="362" y="231" width="2" height="2" fill="#00ff6a"/>
<rect x="364" y="231" width="2" height="2" fill="#00ff65"/>
<rect x="366" y="231" width="2" height="2" fill="#00ff5f"/>
<rect x="368" y="231" width="2" height="2" fill="#00ff58"/>
<rect x="370" y="231" width="2" height="2" fill="#00ff50"/>
<rect x="372" y="231" width="2" height="2" fill="#00ff47"/>
<rect x="374" y="231" width="2" height="2" fill="#00ff39"/>
<rect x="376" y="231" width="2" height="2" fill="#00ff1e"/>
<rect x="378" y="231" width="2" height="2" fill="#00ff00"/>
<rect x="380" y="231" width="2" height="2" fill="#00ff00"/>
<rect x="382" y="231" width="2" height="2" fill="#00ff00"/>
<rect x="384" y="231" width="2" height="2" fill="#00ff00"/>
<rect x="386" y="231" width="2" height="2" fill="#4eff00"/>
<rect x="388" y="231" width="2" height="2" fill="#6cff00"/>
<rect x="390" y="231" width="2" height="2" fill="#80ff00"/>
<rect x="392" y="231" width="2" height="2" fill="#90ff00"/>
<rect x="394" y="231" width="2" height="2" fill="#9eff00"/>
<rect x="396" y="231" width="2" height="2" fill="#aaff00"/>
<rect x="334" y="233" width="2" height="2" fill="#00ff97"/>
<rect x="336" y="233" width="2" height="2" fill="#00ff96"/>
<rect x="338" y="233" width="2" height="2" fill="#00ff94"/>
<rect x="340" y="233" width="2" height="2" fill="#00ff92"/>
<rect x="342" y="233" width="2" height="2" fill="#00ff8f"/>
<rect x="344" y="233" width="2" height="2" fill="#00ff8d"/>
<rect x="346" y="233" width="2" height="2" fill="#00ff8b"/>
<rect x="348" y="233" width="2" height="2" fill="#00ff88"/>
<rect x="350" y="233" width="2" height="2" fill="#00ff85"/>
<rect x="352" y="233" width="2" height="2" fill="#00ff83"/>
<rect x="354" y="233" width="2" height="2" fill="#00ff80"/>
<rect x="356" y="233" width="2" height="2" fill="#00ff7c"/>
<rect x="358" y="233" width="2" height="2" fill="#00ff79"/>
<rect x="360" y="233" width="2" height="2" fill="#00ff75"/>
<rect x="362" y="233" width="2" height="2" fill="#00ff71"/>
<rect x="364" y="233" width="2" height="2" fill="#00ff6c"/>
<rect x="366" y="233" width="2" height="2" fill="#00ff67"/>
<rect x="368" y="233" width="2" height="2" fill="#00ff62"/>
<rect x="370" y="233" width="2" height="2" fill="#00ff5b"/>
<rect x="372" y="233" width="2" height="2" fill="#00ff54"/>
<rect x="374" y="233" width="2" height="2" fill="#00ff4a"/>
<rect x="376" y="233" width="2" height="2" fill="#00ff3e"/>
<rect x="378" y="233" width="2" height="2" fill="#00ff29"/>
<rect x="380" y="233" width="2" height="2" fill="#00ff00"/>
<rect x="382" y="233" width="2" height="2" fill="#00ff00"/>
<rect x="384" y="233" width="2" height="2" fill="#00ff00"/>
<rect x="386" y="233" width="2" height="2" fill="#59ff00"/>
<rect x="388" y="233" width="2" height="2" fill="#73ff00"/>
<rect x="390" y="233" width="2" height="2" fill="#86ff00"/>
<rect x="392" y="233" width="2" height="2" fill="#95ff00"/>
<rect x="394" y="233" width="2" height="2" fill="#a3ff00"/>
<rect x="396" y="233" width="2" height="2" fill="#afff00"/>
<rect x="398" y="233" width="2" height="2" fill="#baff00"/>
<rect x="334" y="235" width="2" height="2" fill="#00ff9c"/>
<rect x="336" y="235" width="2" height="2" fill="#00ff9a"/>
<rect x="338" y="235" width="2" height="2" fill="#00ff98"/>
<rect x="340" y="235" width="2" height="2" fill="#00ff96"/>
<rect x="342" y="235" width="2" height="2" fill="#00ff94"/>
<rect x="344" y="235" width="2" height="2" fill="#00ff92"/>
<rect x="346" y="235" width="2" height="2" fill="#00ff8f"/>
<rect x="348" y="235" width="2" height="2" fill="#00ff8d"/>
<rect x="350" y="235" width="2" height="2" fill="#00ff8b"/>
<rect x="352" y="235" width="2" height="2" fill="#00ff88"/>
<rect x="354" y="235" width="2" height="2" fill="#00ff85"/>
<rect x="356" y="235" width="2" height="2" fill="#00ff82"/>
<rect x="358" y="235" width="2" height="2" fill="#00ff7f"/>
<rect x="360" y="235" width="2" height="2" fill="#00ff7b"/>
<rect x="362" y="235" width="2" height="2" fill="#00ff78"/>
<rect x="364" y="235" width="2" height="2" fill="#00ff74"/>
<rect x="366" y="235" width="2" height="2" fill="#00ff6f"/>
<rect x="368" y="235" width="2" height="2" fill="#00ff6a"/>
<rect x="370" y="235" width="2" height="2" fill="#00ff65"/>
<rect x="372" y="235" width="2" height="2" fill="#00ff5e"/>
<rect x="374" y="235" width="2" height="2" fill="#00ff57"/>
<rect x="376" y="235" width="2" height="2" fill="#00ff4e"/>
<rect x="378" y="235" width="2" height="2" fill="#00ff43"/>
<rect x="380" y="235" width="2" height="2" fill="#00ff31"/>
<rect x="382" y="235" width="2" height="2" fill="#00ff00"/>
<rect x="384" y="235" width="2" height="2" fill="#38ff00"/>
<rect x="386" y="235" width="2" height="2" fill="#62ff00"/>
<rect x="388" y="235" width="2" height="2" fill="#7aff00"/>
<rect x="390" y="235" width="2" height="2" fill="#8bff00"/>
<rect x="392" y="235" width="2" height="2" fill="#9aff00"/>
<rect x="394" y="235" width="2" height="2" fill="#a7ff00"/>
<rect x="396" y="235" width="2" height="2" fill="#b3ff00"/>
<rect x="398" y="235" width="2" height="2" fill="#beff00"/>
<rect x="400" y="235" width="2" height="2" fill="#c8ff00"/>
<rect x="334" y="237" width="2" height="2" fill="#00ffa0"/>
<rect x="336" y="237" width="2" height="2" fill="#00ff9e"/>
<rect x="338" y="237" width="2" height="2" fill="#00ff9c"/>
<rect x="340" y="237" width="2" height="2" fill="#00ff9a"/>
<rect x="342" y="237" width="2" height="2" fill="#00ff98"/>
<rect x="344" y="237" width="2" height="2" fill="#00ff96"/>
<rect x="346" y="237" width="2" height="2" fill="#00ff94"/>
<rect x="348" y="237" width="2" height="2" fill="#00ff92"/>
<rect x="350" y="237" width="2" height="2" fill="#00ff90"/>
<rect x="352" y="237" width="2" height="2" fill="#00ff8d"/>
<rect x="354" y="237" width="2" height="2" fill="#00ff8a"/>
<rect x="356" y="237" width="2" height="2" fill="#00ff88"/>
<rect x="358" y="237" width="2" height="2" fill="#00ff85"/>
<rect x="360" y="237" width="2" height="2" fill="#00ff82"/>
<rect x="362" y="237" width="2" height="2" fill="#00ff7e"/>
<rect x="364" y="237" width="2" height="2" fill="#00ff7a"/>
<rect x="366" y="237" width="2" height="2" fill="#00ff76"/>
<rect x="368" y="237" width="2" height="2" fill="#00ff72"/>
<rect x="370" y="237" width="2" height="2" fill="#00ff6d"/>
<rect x="372" y="237" width="2" height="2" fill="#00ff68"/>
<rect x="374" y="237" width="2" height="2" fill="#00ff62"/>
<rect x="376" y="237" width="2" height="2" fill="#00ff5b"/>
<rect x="378" y="237" width="2" height="2" fill="#00ff52"/>
<rect x="380" y="237" width="2" height="2" fill="#00ff47"/>
<rect x="382" y="237" width="2" height="2" fill="#00ff37"/>
<rect x="384" y="237" width="2" height="2" fill="#49ff00"/>
<rect x="386" y="237" width="2" height="2" fill="#6aff00"/>
<rect x="388" y="237" width="2" height="2" fill="#80ff00"/>
<rect x="390" y="237" width="2" height="2" fill="#91ff00"/>
<rect x="392" y="237" width="2" height="2" fill="#a0ff00"/>
<rect x="394" y="237" width="2" height="2" fill="#acff00"/>
<rect x="396" y="237" width="2" height="2" fill="#b8ff00"/>
<rect x="398" y="237" width="2" height="2" fill="#c3ff00"/>
<rect x="400" y="237" width="2" height="2" fill="#cdff00"/>
<rect x="402" y="237" width="2" height="2" fill="#d7ff00"/>
<rect x="334" y="239" width="2" height="2" fill="#00ffa4"/>
<rect x="336" y="239" width="2" height="2" fill="#00ffa2"/>
<rect x="338" y="239" width="2" height="2" fill="#00ffa0"/>
<rect x="340" y="239" width="2" height="2" fill="#00ff9f"/>
<rect x="342" y="239" width="2" height="2" fill="#00ff9d"/>
<rect x="344" y="239" width="2" height="2" fill="#00ff9b"/>
<rect x="346" y="239" width="2" height="2" fill="#00ff99"/>
<rect x="348" y="239" width="2" height="2" fill="#00ff97"/>
<rect x="350" y="239" width="2" height="2" fill="#00ff95"/>
<rect x="352" y="239" width="2" height="2" fill="#00ff92"/>
<rect x="354" y="239" width="2" height="2" fill="#00ff90"/>
<rect x="356" y="239" width="2" height="2" fill="#00ff8d"/>
<rect x="358" y="239" width="2" height="2" fill="#00ff8a"/>
<rect x="360" y="239" width="2" height="2" fill="#00ff87"/>
<rect x="362" y="239" width="2" height="2" fill="#00ff84"/>
<rect x="364" y="239" width="2" height="2" fill="#00ff81"/>
<rect x="366" y="239" width="2" height="2" fill="#00ff7d"/>
<rect x="368" y="239" width="2" height="2" fill="#00ff79"/>
<rect x="370" y="239" width="2" height="2" fill="#00ff75"/>
<rect x="372" y="239" width="2" height="2" fill="#00ff70"/>
<rect x="374" y="239" width="2" height="2" fill="#00ff6b"/>
<rect x="376" y="239" width="2" height="2" fill="#00ff65"/>
<rect x="378" y="239" width="2" height="2" fill="#00ff5e"/>
<rect x="380" y="239" width="2" height="2" fill="#00ff56"/>
<rect x="382" y="239" width="2" height="2" fill="#00ff4b"/>
<rect x="384" y="239" width="2" height="2" fill="#55ff3d"/>
<rect x="386" y="239" width="2" height="2" fill="#72ff22"/>
<rect x="388" y="239" width="2" height="2" fill="#86ff00"/>
<rect x="390" y="239" width="2" height="2" fill="#97ff00"/>
<rect x="392" y="239" width="2" height="2" fill="#a5ff00"/>
<rect x="394" y="239" width="2" height="2" fill="#b1ff00"/>
<rect x="396" y="239" width="2" height="2" fill="#bdff00"/>
<rect x="398" y="239" width="2" height="2" fill="#c8ff00"/>
<rect x="400" y="239" width="2" height="2" fill="#d2ff00"/>
<rect x="402" y="239" width="2" height="2" fill="#dcff00"/>
<rect x="404" y="239" width="2" height="2" fill="#e5ff00"/>
<rect x="334" y="241" width="2" height="2" fill="#00ffa8"/>
<rect x="336" y="241" width="2" height="2" fill="#00ffa6"/>
<rect x="338" y="241" width="2" height="2" fill="#00ffa5"/>
<rect x="340" y="241" width="2" height="2" fill="#00ffa3"/>
<rect x="342" y="241" width="2" height="2" fill="#00ffa1"/>
<rect x="344" y="241" width="2" height="2" fill="#00ff9f"/>
<rect x="346" y="241" width="2" height="2" fill="#00ff9d"/>
<rect x="348" y="241" width="2" height="2" fill="#00ff9b"/>
<rect x="350" y="241" width="2" height="2" fill="#00ff99"/>
<rect x="352" y="241" width="2" height="2" fill="#00ff97"/>
<rect x="354" y="241" width="2" height="2" fill="#00ff95"/>
<rect x="356" y="241" width="2" height="2" fill="#00ff92"/>
<rect x="358" y="241" width="2" height="2" fill="#00ff90"/>
<rect x="360" y="241" width="2" height="2" fill="#00ff8d"/>
<rect x="362" y="241" width="2" height="2" fill="#00ff8a"/>
<rect x="364" y="241" width="2" height="2" fill="#00ff87"/>
<rect x="366" y="241" width="2" height="2" fill="#00ff84"/>
<rect x="368" y="241" width="2" height="2" fill="#00ff80"/>
<rect x="370" y="241" width="2" height="2" fill="#00ff7c"/>
<rect x="372" y="241" width="2" height="2" fill="#00ff78"/>
<rect x="374" y="241" width="2" height="2" fill="#00ff73"/>
<rect x="376" y="241" width="2" height="2" fill="#00ff6e"/>
<rect x="378" y="241" width="2" height="2" fill="#00ff68"/>
<rect x="380" y="241" width="2" height="2" fill="#00ff62"/>
<rect x="382" y="241" width="2" height="2" fill="#29ff5a"/>
<rect x="384" y="241" width="2" height="2" fill="#60ff50"/>
<rect x="386" y="241" width="2" height="2" fill="#79ff43"/>
<rect x="388" y="241" width="2" height="2" fill="#8cff2d"/>
<rect x="390" y="241" width="2" height="2" fill="#9cff00"/>
<rect x="392" y="241" width="2" height="2" fill="#aaff00"/>
<rect x="394" y="241" width="2" height="2" fill="#b6ff00"/>
<rect x="396" y="241" width="2" height="2" fill="#c2ff00"/>
<rect x="398" y="241" width="2" height="2" fill="#cdff00"/>
<rect x="400" y="241" width="2" height="2" fill="#d7ff00"/>
<rect x="402" y="241" width="2" height="2" fill="#e1ff00"/>
<rect x="404" y="241" width="2" height="2" fill="#eaff00"/>
<rect x="406" y="241" width="2" height="2" fill="#f3ff00"/>
<rect x="334" y="243" width="2" height="2" fill="#00ffac"/>
<rect x="336" y="243" width="2" height="2" fill="#00ffaa"/>
<rect x="338" y="243" width="2" height="2" fill="#00ffa9"/>
<rect x="340" y="243" width="2" height="2" fill="#00ffa7"/>
<rect x="342" y="243" width="2" height="2" fill="#00ffa6"/>
<rect x="344" y="243" width="2" height="2" fill="#00ffa4"/>
<rect x="346" y="243" width="2" height="2" fill="#00ffa2"/>
<rect x="348" y="243" width="2" height="2" fill="#00ffa0"/>
<rect x="350" y="243" width="2" height="2" fill="#00ff9e"/>
<rect x="352" y="243" width="2" height="2" fill="#00ff9c"/>
<rect x="354" y="243" width="2" height="2" fill="#00ff9a"/>
<rect x="356" y="243" width="2" height="2" fill="#00ff98"/>
<rect x="358" y="243" width="2" height="2" fill="#00ff95"/>
<rect x="360" y="243" width="2" height="2" fill="#00ff93"/>
<rect x="362" y="243" width="2" height="2" fill="#00ff90"/>
<rect x="364" y="243" width="2" height="2" fill="#00ff8d"/>
<rect x="366" y="243" width="2" height="2" fill="#00ff8a"/>
<rect x="368" y="243" width="2" height="2" fill="#00ff87"/>
<rect x="370" y="243" width="2" height="2" fill="#00ff83"/>
<rect x="372" y="243" width="2" height="2" fill="#00ff7f"/>
<rect x="374" y="243" width="2" height="2" fill="#00ff7b"/>
<rect x="376" y="243" width="2" height="2" fill="#00ff77"/>
<rect x="378" y="243" width="2" height="2" fill="#00ff71"/>
<rect x="380" y="243" width="2" height="2" fill="#00ff6c"/>
<rect x="382" y="243" width="2" height="2" fill="#42ff65"/>
<rect x="384" y="243" width="2" height="2" fill="#69ff5d"/>
<rect x="386" y="243" width="2" height="2" fill="#80ff54"/>
<rect x="388" y="243" width="2" height="2" fill="#92ff48"/>
<rect x="390" y="243" width="2" height="2" fill="#a2ff35"/>
<rect x="392" y="243" width="2" height="2" fill="#afff00"/>
<rect x="394" y="243" width="2" height="2" fill="#bcff00"/>
<rect x="396" y="243" width="2" height="2" fill="#c7ff00"/>
<rect x="398" y="243" width="2" height="2" fill="#d2ff00"/>
<rect x="400" y="243" width="2" height="2" fill="#dcff00"/>
<rect x="402" y="243" width="2" height="2" fill="#e6ff00"/>
<rect x="404" y="243" width="2" height="2" fill="#efff00"/>
<rect x="406" y="243" width="2" height="2" fill="#f8ff00"/>
<rect x="408" y="243" width="2" height="2" fill="#fffd00"/>
<rect x="334" y="245" width="2" height="2" fill="#00ffb0"/>
<rect x="336" y="245" width="2" height="2" fill="#00ffae"/>
<rect x="338" y="245" width="2" height="2" fill="#00ffad"/>
<rect x="340" y="245" width="2" height="2" fill="#00ffab"/>
<rect x="342" y="245" width="2" height="2" fill="#00ffaa"/>
<rect x="344" y="245" width="2" height="2" fill="#00ffa8"/>
<rect x="346" y="245" width="2" height="2" fill="#00ffa7"/>
<rect x="348" y="245" width="2" height="2" fill="#00ffa5"/>
<rect x="350" y="245" width="2" height="2" fill="#00ffa3"/>
<rect x="352" y="245" width="2" height="2" fill="#00ffa1"/>
<rect x="354" y="245" width="2" height="2" fill="#00ff9f"/>
<rect x="356" y="245" width="2" height="2" fill="#00ff9d"/>
<rect x="358" y="245" width="2" height="2" fill="#00ff9b"/>
<rect x="360" y="245" width="2" height="2" fill="#00ff98"/>
<rect x="362" y="245" width="2" height="2" fill="#00ff96"/>
<rect x="364" y="245" width="2" height="2" fill="#00ff93"/>
<rect x="366" y="245" width="2" height="2" fill="#00ff90"/>
<rect x="368" y="245" width="2" height="2" fill="#00ff8d"/>
<rect x="370" y="245" width="2" height="2" fill="#00ff8a"/>
<rect x="372" y="245" width="2" height="2" fill="#00ff86"/>
<rect x="374" y="245" width="2" height="2" fill="#00ff83"/>
<rect x="376" y="245" width="2" height="2" fill="#00ff7e"/>
<rect x="378" y="245" width="2" height="2" fill="#00ff7a"/>
<rect x="380" y="245" width="2" height="2" fill="#00ff75"/>
<rect x="382" y="245" width="2" height="2" fill="#51ff6f"/>
<rect x="384" y="245" width="2" height="2" fill="#71ff69"/>
<rect x="386" y="245" width="2" height="2" fill="#87ff61"/>
<rect x="388" y="245" width="2" height="2" fill="#98ff58"/>
<rect x="390" y="245" width="2" height="2" fill="#a7ff4d"/>
<rect x="392" y="245" width="2" height="2" fill="#b5ff3c"/>
<rect x="394" y="245" width="2" height="2" fill="#c1ff0c"/>
<rect x="396" y="245" width="2" height="2" fill="#ccff00"/>
<rect x="398" y="245" width="2" height="2" fill="#d7ff00"/>
<rect x="400" y="245" width="2" height="2" fill="#e1ff00"/>
<rect x="402" y="245" width="2" height="2" fill="#ebff00"/>
<rect x="404" y="245" width="2" height="2" fill="#f4ff00"/>
<rect x="406" y="245" width="2" height="2" fill="#fdff00"/>
<rect x="408" y="245" width="2" height="2" fill="#fff800"/>
<rect x="410" y="245" width="2" height="2" fill="#fff000"/>
<rect x="334" y="247" width="2" height="2" fill="#00ffb4"/>
<rect x="336" y="247" width="2" height="2" fill="#00ffb2"/>
<rect x="338" y="247" width="2" height="2" fill="#00ffb1"/>
<rect x="340" y="247" width="2" height="2" fill="#00ffb0"/>
<rect x="342" y="247" width="2" height="2" fill="#00ffae"/>
<rect x="344" y="247" width="2" height="2" fill="#00ffad"/>
<rect x="346" y="247" width="2" height="2" fill="#00ffab"/>
<rect x="348" y="247" width="2" height="2" fill="#00ffa9"/>
<rect x="350" y="247" width="2" height="2" fill="#00ffa8"/>
<rect x="352" y="247" width="2" height="2" fill="#00ffa6"/>
<rect x="354" y="247" width="2" height="2" fill="#00ffa4"/>
<rect x="356" y="247" width="2" height="2" fill="#00ffa2"/>
<rect x="358" y="247" width="2" height="2" fill="#00ffa0"/>
<rect x="360" y="247" width="2" height="2" fill="#00ff9e"/>
<rect x="362" y="247" width="2" height="2" fill="#00ff9b"/>
<rect x="364" y="247" width="2" height="2" fill="#00ff99"/>
<rect x="366" y="247" width="2" height="2" fill="#00ff96"/>
<rect x="368" y="247" width="2" height="2" fill="#00ff93"/>
<rect x="370" y="247" width="2" height="2" fill="#00ff90"/>
<rect x="372" y="247" width="2" height="2" fill="#00ff8d"/>
<rect x="374" y="247" width="2" height="2" fill="#00ff8a"/>
<rect x="376" y="247" width="2" height="2" fill="#00ff86"/>
<rect x="378" y="247" width="2" height="2" fill="#00ff82"/>
<rect x="380" y="247" width="2" height="2" fill="#00ff7d"/>
<rect x="382" y="247" width="2" height="2" fill="#5dff78"/>
<rect x="384" y="247" width="2" height="2" fill="#79ff73"/>
<rect x="386" y="247" width="2" height="2" fill="#8eff6d"/>
<rect x="388" y="247" width="2" height="2" fill="#9eff65"/>
<rect x="390" y="247" width="2" height="2" fill="#adff5d"/>
<rect x="392" y="247" width="2" height="2" fill="#baff52"/>
<rect x="394" y="247" width="2" height="2" fill="#c6ff43"/>
<rect x="396" y="247" width="2" height="2" fill="#d1ff27"/>
<rect x="398" y="247" width="2" height="2" fill="#dcff00"/>
<rect x="400" y="247" width="2" height="2" fill="#e6ff00"/>
<rect x="402" y="247" width="2" height="2" fill="#f0ff00"/>
<rect x="404" y="247" width="2" height="2" fill="#faff00"/>
<rect x="406" y="247" width="2" height="2" fill="#fffb00"/>
<rect x="408" y="247" width="2" height="2" fill="#fff200"/>
<rect x="410" y="247" width="2" height="2" fill="#ffeb00"/>
<rect x="412" y="247" width="2" height="2" fill="#ffe300"/>
<rect x="336" y="249" width="2" height="2" fill="#00ffb7"/>
<rect x="338" y="249" width="2" height="2" fill="#00ffb5"/>
<rect x="340" y="249" width="2" height="2" fill="#00ffb4"/>
<rect x="342" y="249" width="2" height="2" fill="#00ffb3"/>
<rect x="344" y="249" width="2" height="2" fill="#00ffb1"/>
<rect x="346" y="249" width="2" height="2" fill="#00ffb0"/>
<rect x="348" y="249" width="2" height="2" fill="#00ffae"/>
<rect x="350" y="249" width="2" height="2" fill="#00ffac"/>
<rect x="352" y="249" width="2" height="2" fill="#00ffab"/>
<rect x="354" y="249" width="2" height="2" fill="#00ffa9"/>
<rect x="356" y="249" width="2" height="2" fill="#00ffa7"/>
<rect x="358" y="249" width="2" height="2" fill="#00ffa5"/>
<rect x="360" y="249" width="2" height="2" fill="#00ffa3"/>
<rect x="362" y="249" width="2" height="2" fill="#00ffa1"/>
<rect x="364" y="249" width="2" height="2" fill="#00ff9f"/>
<rect x="366" y="249" width="2" height="2" fill="#00ff9c"/>
<rect x="368" y="249" width="2" height="2" fill="#00ff9a"/>
<rect x="370" y="249" width="2" height="2" fill="#00ff97"/>
<rect x="372" y="249" width="2" height="2" fill="#00ff94"/>
<rect x="374" y="249" width="2" height="2" fill="#00ff91"/>
<rect x="376" y="249" width="2" height="2" fill="#00ff8d"/>
<rect x="378" y="249" width="2" height="2" fill="#00ff8a"/>
<rect x="380" y="249" width="2" height="2" fill="#37ff86"/>
<rect x="382" y="249" width="2" height="2" fill="#67ff81"/>
<rect x="384" y="249" width="2" height="2" fill="#81ff7c"/>
<rect x="386" y="249" width="2" height="2" fill="#94ff77"/>
<rect x="388" y="249" width="2" height="2" fill="#a4ff71"/>
<rect x="390" y="249" width="2" height="2" fill="#b2ff6a"/>
<rect x="392" y="249" width="2" height="2" fill="#bfff61"/>
<rect x="394" y="249" width="2" height="2" fill="#cbff57"/>
<rect x="396" y="249" width="2" height="2" fill="#d7ff49"/>
<rect x="398" y="249" width="2" height="2" fill="#e1ff32"/>
<rect x="400" y="249" width="2" height="2" fill="#ecff00"/>
<rect x="402" y="249" width="2" height="2" fill="#f6ff00"/>
<rect x="404" y="249" width="2" height="2" fill="#ffff00"/>
<rect x="406" y="249" width="2" height="2" fill="#fff500"/>
<rect x="408" y="249" width="2" height="2" fill="#ffed00"/>
<rect x="410" y="249" width="2" height="2" fill="#ffe500"/>
<rect x="412" y="249" width="2" height="2" fill="#ffde00"/>
<rect x="414" y="249" width="2" height="2" fill="#ffd800"/>
<rect x="336" y="251" width="2" height="2" fill="#00ffbb"/>
<rect x="338" y="251" width="2" height="2" fill="#00ffba"/>
<rect x="340" y="251" width="2" height="2" fill="#00ffb8"/>
<rect x="342" y="251" width="2" height="2" fill="#00ffb7"/>
<rect x="344" y="251" width="2" height="2" fill="#00ffb6"/>
<rect x="346" y="251" width="2" height="2" fill="#00ffb4"/>
<rect x="348" y="251" width="2" height="2" fill="#00ffb3"/>
<rect x="350" y="251" width="2" height="2" fill="#00ffb1"/>
<rect x="352" y="251" width="2" height="2" fill="#00ffb0"/>
<rect x="354" y="251" width="2" height="2" fill="#00ffae"/>
<rect x="356" y="251" width="2" height="2" fill="#00ffac"/>
<rect x="358" y="251" width="2" height="2" fill="#00ffaa"/>
<rect x="360" y="251" width="2" height="2" fill="#00ffa8"/>
<rect x="362" y="251" width="2" height="2" fill="#00ffa6"/>
<rect x="364" y="251" width="2" height="2" fill="#00ffa4"/>
<rect x="366" y="251" width="2" height="2" fill="#00ffa2"/>
<rect x="368" y="251" width="2" height="2" fill="#00ffa0"/>
<rect x="370" y="251" width="2" height="2" fill="#00ff9d"/>
<rect x="372" y="251" width="2" height="2" fill="#00ff9a"/>
<rect x="374" y="251" width="2" height="2" fill="#00ff97"/>
<rect x="376" y="251" width="2" height="2" fill="#00ff94"/>
<rect x="378" y="251" width="2" height="2" fill="#00ff91"/>
<rect x="380" y="251" width="2" height="2" fill="#4bff8d"/>
<rect x="382" y="251" width="2" height="2" fill="#70ff89"/>
<rect x="384" y="251" width="2" height="2" fill="#88ff85"/>
<rect x="386" y="251" width="2" height="2" fill="#9aff80"/>
<rect x="388" y="251" width="2" height="2" fill="#aaff7b"/>
<rect x="390" y="251" width="2" height="2" fill="#b8ff75"/>
<rect x="392" y="251" width="2" height="2" fill="#c5ff6e"/>
<rect x="394" y="251" width="2" height="2" fill="#d1ff66"/>
<rect x="396" y="251" width="2" height="2" fill="#dcff5c"/>
<rect x="398" y="251" width="2" height="2" fill="#e7ff4f"/>
<rect x="400" y="251" width="2" height="2" fill="#f1ff3b"/>
<rect x="402" y="251" width="2" height="2" fill="#fcff00"/>
<rect x="404" y="251" width="2" height="2" fill="#fff900"/>
<rect x="406" y="251" width="2" height="2" fill="#fff000"/>
<rect x="408" y="251" width="2" height="2" fill="#ffe800"/>
<rect x="410" y="251" width="2" height="2" fill="#ffe000"/>
<rect x="412" y="251" width="2" height="2" fill="#ffd900"/>
<rect x="414" y="251" width="2" height="2" fill="#ffd300"/>
<rect x="416" y="251" width="2" height="2" fill="#ffcd00"/>
<rect x="336" y="253" width="2" height="2" fill="#00ffbf"/>
<rect x="338" y="253" width="2" height="2" fill="#00ffbe"/>
<rect x="340" y="253" width="2" height="2" fill="#00ffbd"/>
<rect x="342" y="253" width="2" height="2" fill="#00ffbb"/>
<rect x="344" y="253" width="2" height="2" fill="#00ffba"/>
<rect x="346" y="253" width="2" height="2" fill="#00ffb9"/>
<rect x="348" y="253" width="2" height="2" fill="#00ffb7"/>
<rect x="350" y="253" width="2" height="2" fill="#00ffb6"/>
<rect x="352" y="253" width="2" height="2" fill="#00ffb5"/>
<rect x="354" y="253" width="2" height="2" fill="#00ffb3"/>
<rect x="356" y="253" width="2" height="2" fill="#00ffb1"/>
<rect x="358" y="253" width="2" height="2" fill="#00ffb0"/>
<rect x="360" y="253" width="2" height="2" fill="#00ffae"/>
<rect x="362" y="253" width="2" height="2" fill="#00ffac"/>
<rect x="364" y="253" width="2" height="2" fill="#00ffaa"/>
<rect x="366" y="253" width="2" height="2" fill="#00ffa8"/>
<rect x="368" y="253" width="2" height="2" fill="#00ffa6"/>
<rect x="370" y="253" width="2" height="2" fill="#00ffa3"/>
<rect x="372" y="253" width="2" height="2" fill="#00ffa1"/>
<rect x="374" y="253" width="2" height="2" fill="#00ff9e"/>
<rect x="376" y="253" width="2" height="2" fill="#00ff9b"/>
<rect x="378" y="253" width="2" height="2" fill="#00ff98"/>
<rect x="380" y="253" width="2" height="2" fill="#59ff95"/>
<rect x="382" y="253" width="2" height="2" fill="#79ff91"/>
<rect x="384" y="253" width="2" height="2" fill="#8fff8d"/>
<rect x="386" y="253" width="2" height="2" fill="#a1ff89"/>
<rect x="388" y="253" width="2" height="2" fill="#b0ff84"/>
<rect x="390" y="253" width="2" height="2" fill="#beff7f"/>
<rect x="392" y="253" width="2" height="2" fill="#cbff79"/>
<rect x="394" y="253" width="2" height="2" fill="#d7ff72"/>
<rect x="396" y="253" width="2" height="2" fill="#e2ff6a"/>
<rect x="398" y="253" width="2" height="2" fill="#edff61"/>
<rect x="400" y="253" width="2" height="2" fill="#f7ff55"/>
<rect x="402" y="253" width="2" height="2" fill="#fffc42"/>
<rect x="404" y="253" width="2" height="2" fill="#fff315"/>
<rect x="406" y="253" width="2" height="2" fill="#ffea00"/>
<rect x="408" y="253" width="2" height="2" fill="#ffe300"/>
<rect x="410" y="253" width="2" height="2" fill="#ffdb00"/>
<rect x="412" y="253" width="2" height="2" fill="#ffd400"/>
<rect x="414" y="253" width="2" height="2" fill="#ffce00"/>
<rect x="416" y="253" width="2" height="2" fill="#ffc800"/>
<rect x="418" y="253" width="2" height="2" fill="#ffc200"/>
<rect x="336" y="255" width="2" height="2" fill="#00ffc3"/>
<rect x="338" y="255" width="2" height="2" fill="#00ffc2"/>
<rect x="340" y="255" width="2" height="2" fill="#00ffc1"/>
<rect x="342" y="255" width="2" height="2" fill="#00ffc0"/>
<rect x="344" y="255" width="2" height="2" fill="#00ffbf"/>
<rect x="346" y="255" width="2" height="2" fill="#00ffbd"/>
<rect x="348" y="255" width="2" height="2" fill="#00ffbc"/>
<rect x="350" y="255" width="2" height="2" fill="#00ffbb"/>
<rect x="352" y="255" width="2" height="2" fill="#00ffb9"/>
<rect x="354" y="255" width="2" height="2" fill="#00ffb8"/>
<rect x="356" y="255" width="2" height="2" fill="#00ffb6"/>
<rect x="358" y="255" width="2" height="2" fill="#00ffb5"/>
<rect x="360" y="255" width="2" height="2" fill="#00ffb3"/>
<rect x="362" y="255" width="2" height="2" fill="#00ffb1"/>
<rect x="364" y="255" width="2" height="2" fill="#00ffb0"/>
<rect x="366" y="255" width="2" height="2" fill="#00ffae"/>
<rect x="368" y="255" width="2" height="2" fill="#00ffac"/>
<rect x="370" y="255" width="2" height="2" fill="#00ffa9"/>
<rect x="372" y="255" width="2" height="2" fill="#00ffa7"/>
<rect x="374" y="255" width="2" height="2" fill="#00ffa5"/>
<rect x="376" y="255" width="2" height="2" fill="#00ffa2"/>
<rect x="378" y="255" width="2" height="2" fill="#21ff9f"/>
<rect x="380" y="255" width="2" height="2" fill="#65ff9c"/>
<rect x="382" y="255" width="2" height="2" fill="#81ff99"/>
<rect x="384" y="255" width="2" height="2" fill="#96ff95"/>
<rect x="386" y="255" width="2" height="2" fill="#a7ff91"/>
<rect x="388" y="255" width="2" height="2" fill="#b6ff8d"/>
<rect x="390" y="255" width="2" height="2" fill="#c4ff89"/>
<rect x="392" y="255" width="2" height="2" fill="#d1ff84"/>
<rect x="394" y="255" width="2" height="2" fill="#ddff7e"/>
<rect x="396" y="255" width="2" height="2" fill="#e8ff77"/>
<rect x="398" y="255" width="2" height="2" fill="#f3ff6f"/>
<rect x="400" y="255" width="2" height="2" fill="#feff66"/>
<rect x="402" y="255" width="2" height="2" fill="#fff658"/>
<rect x="404" y="255" width="2" height="2" fill="#ffed45"/>
<rect x="406" y="255" width="2" height="2" fill="#ffe528"/>
<rect x="408" y="255" width="2" height="2" fill="#ffdd00"/>
<rect x="410" y="255" width="2" height="2" fill="#ffd600"/>
<rect x="412" y="255" width="2" height="2" fill="#ffcf00"/>
<rect x="414" y="255" width="2" height="2" fill="#ffc900"/>
<rect x="416" y="255" width="2" height="2" fill="#ffc300"/>
<rect x="418" y="255" width="2" height="2" fill="#ffbe00"/>
<rect x="420" y="255" width="2" height="2" fill="#ffb800"/>
<rect x="336" y="257" width="2" height="2" fill="#00ffc7"/>
<rect x="338" y="257" width="2" height="2" fill="#00ffc6"/>
<rect x="340" y="257" width="2" height="2" fill="#00ffc5"/>
<rect x="342" y="257" width="2" height="2" fill="#00ffc4"/>
<rect x="344" y="257" width="2" height="2" fill="#00ffc3"/>
<rect x="346" y="257" width="2" height="2" fill="#00ffc2"/>
<rect x="348" y="257" width="2" height="2" fill="#00ffc1"/>
<rect x="350" y="257" width="2" height="2" fill="#00ffc0"/>
<rect x="352" y="257" width="2" height="2" fill="#00ffbe"/>
<rect x="354" y="257" width="2" height="2" fill="#00ffbd"/>
<rect x="356" y="257" width="2" height="2" fill="#00ffbc"/>
<rect x="358" y="257" width="2" height="2" fill="#00ffba"/>
<rect x="360" y="257" width="2" height="2" fill="#00ffb9"/>
<rect x="362" y="257" width="2" height="2" fill="#00ffb7"/>
<rect x="364" y="257" width="2" height="2" fill="#00ffb5"/>
<rect x="366" y="257" width="2" height="2" fill="#00ffb3"/>
<rect x="368" y="257" width="2" height="2" fill="#00ffb2"/>
<rect x="370" y="257" width="2" height="2" fill="#00ffb0"/>
<rect x="372" y="257" width="2" height="2" fill="#00ffad"/>
<rect x="374" y="257" width="2" height="2" fill="#00ffab"/>
<rect x="376" y="257" width="2" height="2" fill="#00ffa9"/>
<rect x="378" y="257" width="2" height="2" fill="#42ffa6"/>
<rect x="380" y="257" width="2" height="2" fill="#6fffa3"/>
<rect x="382" y="257" width="2" height="2" fill="#89ffa0"/>
<rect x="384" y="257" width="2" height="2" fill="#9dff9d"/>
<rect x="386" y="257" width="2" height="2" fill="#adff9a"/>
<rect x="388" y="257" width="2" height="2" fill="#bcff96"/>
<rect x="390" y="257" width="2" height="2" fill="#caff92"/>
<rect x="392" y="257" width="2" height="2" fill="#d7ff8d"/>
<rect x="394" y="257" width="2" height="2" fill="#e3ff88"/>
<rect x="396" y="257" width="2" height="2" fill="#eeff83"/>
<rect x="398" y="257" width="2" height="2" fill="#f9ff7c"/>
<rect x="400" y="257" width="2" height="2" fill="#fffa72"/>
<rect x="402" y="257" width="2" height="2" fill="#fff066"/>
<rect x="404" y="257" width="2" height="2" fill="#ffe858"/>
<rect x="406" y="257" width="2" height="2" fill="#ffdf48"/>
<rect x="408" y="257" width="2" height="2" fill="#ffd830"/>
<rect x="410" y="257" width="2" height="2" fill="#ffd100"/>
<rect x="412" y="257" width="2" height="2" fill="#ffca00"/>
<rect x="414" y="257" width="2" height="2" fill="#ffc400"/>
<rect x="416" y="257" width="2" height="2" fill="#ffbe00"/>
<rect x="418" y="257" width="2" height="2" fill="#ffb900"/>
<rect x="420" y="257" width="2" height="2" fill="#ffb300"/>
<rect x="422" y="257" width="2" height="2" fill="#ffae00"/>
<rect x="336" y="259" width="2" height="2" fill="#00ffcc"/>
<rect x="338" y="259" width="2" height="2" fill="#00ffcb"/>
<rect x="340" y="259" width="2" height="2" fill="#00ffca"/>
<rect x="342" y="259" width="2" height="2" fill="#00ffc9"/>
<rect x="344" y="259" width="2" height="2" fill="#00ffc8"/>
<rect x="346" y="259" width="2" height="2" fill="#00ffc7"/>
<rect x="348" y="259" width="2" height="2" fill="#00ffc6"/>
<rect x="350" y="259" width="2" height="2" fill="#00ffc5"/>
<rect x="352" y="259" width="2" height="2" fill="#00ffc3"/>
<rect x="354" y="259" width="2" height="2" fill="#00ffc2"/>
<rect x="356" y="259" width="2" height="2" fill="#00ffc1"/>
<rect x="358" y="259" width="2" height="2" fill="#00ffbf"/>
<rect x="360" y="259" width="2" height="2" fill="#00ffbe"/>
<rect x="362" y="259" width="2" height="2" fill="#00ffbd"/>
<rect x="364" y="259" width="2" height="2" fill="#00ffbb"/>
<rect x="366" y="259" width="2" height="2" fill="#00ffb9"/>
<rect x="368" y="259" width="2" height="2" fill="#00ffb8"/>
<rect x="370" y="259" width="2" height="2" fill="#00ffb6"/>
<rect x="372" y="259" width="2" height="2" fill="#00ffb4"/>
<rect x="374" y="259" width="2" height="2" fill="#00ffb2"/>
<rect x="376" y="259" width="2" height="2" fill="#00ffaf"/>
<rect x="378" y="259" width="2" height="2" fill="#54ffad"/>
<rect x="380" y="259" width="2" height="2" fill="#78ffab"/>
<rect x="382" y="259" width="2" height="2" fill="#90ffa8"/>
<rect x="384" y="259" width="2" height="2" fill="#a3ffa5"/>
<rect x="386" y="259" width="2" height="2" fill="#b4ffa2"/>
<rect x="388" y="259" width="2" height="2" fill="#c3ff9e"/>
<rect x="390" y="259" width="2" height="2" fill="#d0ff9b"/>
<rect x="392" y="259" width="2" height="2" fill="#ddff97"/>
<rect x="394" y="259" width="2" height="2" fill="#e9ff92"/>
<rect x="396" y="259" width="2" height="2" fill="#f5ff8d"/>
<rect x="398" y="259" width="2" height="2" fill="#fffe87"/>
<rect x="400" y="259" width="2" height="2" fill="#fff47c"/>
<rect x="402" y="259" width="2" height="2" fill="#ffea70"/>
<rect x="404" y="259" width="2" height="2" fill="#ffe265"/>
<rect x="406" y="259" width="2" height="2" fill="#ffda58"/>
<rect x="408" y="259" width="2" height="2" fill="#ffd349"/>
<rect x="410" y="259" width="2" height="2" fill="#ffcc36"/>
<rect x="412" y="259" width="2" height="2" fill="#ffc500"/>
<rect x="414" y="259" width="2" height="2" fill="#ffbf00"/>
<rect x="416" y="259" width="2" height="2" fill="#ffb900"/>
<rect x="418" y="259" width="2" height="2" fill="#ffb400"/>
<rect x="420" y="259" width="2" height="2" fill="#ffaf00"/>
<rect x="422" y="259" width="2" height="2" fill="#ffaa00"/>
<rect x="424" y="259" width="2" height="2" fill="#ffa500"/>
<rect x="336" y="261" width="2" height="2" fill="#00ffd0"/>
<rect x="338" y="261" width="2" height="2" fill="#00ffcf"/>
<rect x="340" y="261" width="2" height="2" fill="#00ffce"/>
<rect x="342" y="261" width="2" height="2" fill="#00ffce"/>
<rect x="344" y="261" width="2" height="2" fill="#00ffcd"/>
<rect x="346" y="261" width="2" height="2" fill="#00ffcc"/>
<rect x="348" y="261" width="2" height="2" fill="#00ffcb"/>
<rect x="350" y="261" width="2" height="2" fill="#00ffca"/>
<rect x="352" y="261" width="2" height="2" fill="#00ffc8"/>
<rect x="354" y="261" width="2" height="2" fill="#00ffc7"/>
<rect x="356" y="261" width="2" height="2" fill="#00ffc6"/>
<rect x="358" y="261" width="2" height="2" fill="#00ffc5"/>
<rect x="360" y="261" width="2" height="2" fill="#00ffc4"/>
<rect x="362" y="261" width="2" height="2" fill="#00ffc2"/>
<rect x="364" y="261" width="2" height="2" fill="#00ffc1"/>
<rect x="366" y="261" width="2" height="2" fill="#00ffbf"/>
<rect x="368" y="261" width="2" height="2" fill="#00ffbe"/>
<rect x="370" y="261" width="2" height="2" fill="#00ffbc"/>
<rect x="372" y="261" width="2" height="2" fill="#00ffba"/>
<rect x="374" y="261" width="2" height="2" fill="#00ffb8"/>
<rect x="376" y="261" width="2" height="2" fill="#00ffb6"/>
<rect x="378" y="261" width="2" height="2" fill="#62ffb4"/>
<rect x="380" y="261" width="2" height="2" fill="#81ffb2"/>
<rect x="382" y="261" width="2" height="2" fill="#98ffaf"/>
<rect x="384" y="261" width="2" height="2" fill="#aaffad"/>
<rect x="386" y="261" width="2" height="2" fill="#baffaa"/>
<rect x="388" y="261" width="2" height="2" fill="#c9ffa7"/>
<rect x="390" y="261" width="2" height="2" fill="#d7ffa4"/>
<rect x="392" y="261" width="2" height="2" fill="#e3ffa0"/>
<rect x="394" y="261" width="2" height="2" fill="#f0ff9c"/>
<rect x="396" y="261" width="2" height="2" fill="#fbff98"/>
<rect x="398" y="261" width="2" height="2" fill="#fff88f"/>
<rect x="400" y="261" width="2" height="2" fill="#ffee84"/>
<rect x="402" y="261" width="2" height="2" fill="#ffe479"/>
<rect x="404" y="261" width="2" height="2" fill="#ffdc6f"/>
<rect x="406" y="261" width="2" height="2" fill="#ffd464"/>
<rect x="408" y="261" width="2" height="2" fill="#ffcd58"/>
<rect x="410" y="261" width="2" height="2" fill="#ffc64b"/>
<rect x="412" y="261" width="2" height="2" fill="#ffc03a"/>
<rect x="414" y="261" width="2" height="2" fill="#ffba17"/>
<rect x="416" y="261" width="2" height="2" fill="#ffb400"/>
<rect x="418" y="261" width="2" height="2" fill="#ffaf00"/>
<rect x="420" y="261" width="2" height="2" fill="#ffaa00"/>
<rect x="422" y="261" width="2" height="2" fill="#ffa500"/>
<rect x="424" y="261" width="2" height="2" fill="#ffa000"/>
<rect x="426" y="261" width="2" height="2" fill="#ff9b00"/>
<rect x="336" y="263" width="2" height="2" fill="#00ffd5"/>
<rect x="338" y="263" width="2" height="2" fill="#00ffd4"/>
<rect x="340" y="263" width="2" height="2" fill="#00ffd3"/>
<rect x="342" y="263" width="2" height="2" fill="#00ffd2"/>
<rect x="344" y="263" width="2" height="2" fill="#00ffd1"/>
<rect x="346" y="263" width="2" height="2" fill="#00ffd0"/>
<rect x="348" y="263" width="2" height="2" fill="#00ffd0"/>
<rect x="350" y="263" width="2" height="2" fill="#00ffcf"/>
<rect x="352" y="263" width="2" height="2" fill="#00ffce"/>
<rect x="354" y="263" width="2" height="2" fill="#00ffcd"/>
<rect x="356" y="263" width="2" height="2" fill="#00ffcb"/>
<rect x="358" y="263" width="2" height="2" fill="#00ffca"/>
<rect x="360" y="263" width="2" height="2" fill="#00ffc9"/>
<rect x="362" y="263" width="2" height="2" fill="#00ffc8"/>
<rect x="364" y="263" width="2" height="2" fill="#00ffc7"/>
<rect x="366" y="263" width="2" height="2" fill="#00ffc5"/>
<rect x="368" y="263" width="2" height="2" fill="#00ffc4"/>
<rect x="370" y="263" width="2" height="2" fill="#00ffc2"/>
<rect x="372" y="263" width="2" height="2" fill="#00ffc1"/>
<rect x="374" y="263" width="2" height="2" fill="#00ffbf"/>
<rect x="376" y="263" width="2" height="2" fill="#35ffbd"/>
<rect x="378" y="263" width="2" height="2" fill="#6dffbb"/>
<rect x="380" y="263" width="2" height="2" fill="#8affb9"/>
<rect x="382" y="263" width="2" height="2" fill="#9fffb7"/>
<rect x="384" y="263" width="2" height="2" fill="#b1ffb5"/>
<rect x="386" y="263" width="2" height="2" fill="#c1ffb2"/>
<rect x="388" y="263" width="2" height="2" fill="#d0ffaf"/>
<rect x="390" y="263" width="2" height="2" fill="#ddffac"/>
<rect x="392" y="263" width="2" height="2" fill="#eaffa9"/>
<rect x="394" y="263" width="2" height="2" fill="#f6ffa6"/>
<rect x="396" y="263" width="2" height="2" fill="#fffca0"/>
<rect x="398" y="263" width="2" height="2" fill="#fff195"/>
<rect x="400" y="263" width="2" height="2" fill="#ffe78b"/>
<rect x="402" y="263" width="2" height="2" fill="#ffde81"/>
<rect x="404" y="263" width="2" height="2" fill="#ffd677"/>
<rect x="406" y="263" width="2" height="2" fill="#ffcf6d"/>
<rect x="408" y="263" width="2" height="2" fill="#ffc863"/>
<rect x="410" y="263" width="2" height="2" fill="#ffc158"/>
<rect x="412" y="263" width="2" height="2" fill="#ffbb4c"/>
<rect x="414" y="263" width="2" height="2" fill="#ffb53d"/>
<rect x="416" y="263" width="2" height="2" fill="#ffaf25"/>
<rect x="418" y="263" width="2" height="2" fill="#ffaa00"/>
<rect x="420" y="263" width="2" height="2" fill="#ffa500"/>
<rect x="422" y="263" width="2" height="2" fill="#ffa000"/>
<rect x="424" y="263" width="2" height="2" fill="#ff9b00"/>
<rect x="426" y="263" width="2" height="2" fill="#ff9600"/>
<rect x="428" y="263" width="2" height="2" fill="#ff9100"/>
<rect x="336" y="265" width="2" height="2" fill="#00ffd9"/>
<rect x="338" y="265" width="2" height="2" fill="#00ffd8"/>
<rect x="340" y="265" width="2" height="2" fill="#00ffd8"/>
<rect x="342" y="265" width="2" height="2" fill="#00ffd7"/>
<rect x="344" y="265" width="2" height="2" fill="#00ffd6"/>
<rect x="346" y="265" width="2" height="2" fill="#00ffd5"/>
<rect x="348" y="265" width="2" height="2" fill="#00ffd5"/>
<rect x="350" y="265" width="2" height="2" fill="#00ffd4"/>
<rect x="352" y="265" width="2" height="2" fill="#00ffd3"/>
<rect x="354" y="265" width="2" height="2" fill="#00ffd2"/>
<rect x="356" y="265" width="2" height="2" fill="#00ffd1"/>
<rect x="358" y="265" width="2" height="2" fill="#00ffd0"/>
<rect x="360" y="265" width="2" height="2" fill="#00ffcf"/>
<rect x="362" y="265" width="2" height="2" fill="#00ffce"/>
<rect x="364" y="265" width="2" height="2" fill="#00ffcd"/>
<rect x="366" y="265" width="2" height="2" fill="#00ffcb"/>
<rect x="368" y="265" width="2" height="2" fill="#00ffca"/>
<rect x="370" y="265" width="2" height="2" fill="#00ffc9"/>
<rect x="372" y="265" width="2" height="2" fill="#00ffc7"/>
<rect x="374" y="265" width="2" height="2" fill="#00ffc6"/>
<rect x="376" y="265" width="2" height="2" fill="#4dffc4"/>
<rect x="378" y="265" width="2" height="2" fill="#78ffc2"/>
<rect x="380" y="265" width="2" height="2" fill="#92ffc0"/>
<rect x="382" y="265" width="2" height="2" fill="#a7ffbe"/>
<rect x="384" y="265" width="2" height="2" fill="#b8ffbc"/>
<rect x="386" y="265" width="2" height="2" fill="#c8ffba"/>
<rect x="388" y="265" width="2" height="2" fill="#d7ffb8"/>
<rect x="390" y="265" width="2" height="2" fill="#e4ffb5"/>
<rect x="392" y="265" width="2" height="2" fill="#f1ffb2"/>
<rect x="394" y="265" width="2" height="2" fill="#feffaf"/>
<rect x="396" y="265" width="2" height="2" fill="#fff5a5"/>
<rect x="398" y="265" width="2" height="2" fill="#ffea9a"/>
<rect x="400" y="265" width="2" height="2" fill="#ffe191"/>
<rect x="402" y="265" width="2" height="2" fill="#ffd887"/>
<rect x="404" y="265" width="2" height="2" fill="#ffd07e"/>
<rect x="406" y="265" width="2" height="2" fill="#ffc975"/>
<rect x="408" y="265" width="2" height="2" fill="#ffc26c"/>
<rect x="410" y="265" width="2" height="2" fill="#ffbc62"/>
<rect x="412" y="265" width="2" height="2" fill="#ffb558"/>
<rect x="414" y="265" width="2" height="2" fill="#ffaf4d"/>
<rect x="416" y="265" width="2" height="2" fill="#ffaa3f"/>
<rect x="418" y="265" width="2" height="2" fill="#ffa42c"/>
<rect x="420" y="265" width="2" height="2" fill="#ff9f00"/>
<rect x="422" y="265" width="2" height="2" fill="#ff9a00"/>
<rect x="424" y="265" width="2" height="2" fill="#ff9500"/>
<rect x="426" y="265" width="2" height="2" fill="#ff9100"/>
<rect x="428" y="265" width="2" height="2" fill="#ff8c00"/>
<rect x="430" y="265" width="2" height="2" fill="#ff8700"/>
<rect x="338" y="267" width="2" height="2" fill="#00ffdd"/>
<rect x="340" y="267" width="2" height="2" fill="#00ffdc"/>
<rect x="342" y="267" width="2" height="2" fill="#00ffdc"/>
<rect x="344" y="267" width="2" height="2" fill="#00ffdb"/>
<rect x="346" y="267" width="2" height="2" fill="#00ffda"/>
<rect x="348" y="267" width="2" height="2" fill="#00ffda"/>
<rect x="350" y="267" width="2" height="2" fill="#00ffd9"/>
<rect x="352" y="267" width="2" height="2" fill="#00ffd8"/>
<rect x="354" y="267" width="2" height="2" fill="#00ffd7"/>
<rect x="356" y="267" width="2" height="2" fill="#00ffd6"/>
<rect x="358" y="267" width="2" height="2" fill="#00ffd6"/>
<rect x="360" y="267" width="2" height="2" fill="#00ffd5"/>
<rect x="362" y="267" width="2" height="2" fill="#00ffd4"/>
<rect x="364" y="267" width="2" height="2" fill="#00ffd3"/>
<rect x="366" y="267" width="2" height="2" fill="#00ffd2"/>
<rect x="368" y="267" width="2" height="2" fill="#00ffd0"/>
<rect x="370" y="267" width="2" height="2" fill="#00ffcf"/>
<rect x="372" y="267" width="2" height="2" fill="#00ffce"/>
<rect x="374" y="267" width="2" height="2" fill="#00ffcc"/>
<rect x="376" y="267" width="2" height="2" fill="#5effcb"/>
<rect x="378" y="267" width="2" height="2" fill="#82ffca"/>
<rect x="380" y="267" width="2" height="2" fill="#9affc8"/>
<rect x="382" y="267" width="2" height="2" fill="#aeffc6"/>
<rect x="384" y="267" width="2" height="2" fill="#c0ffc4"/>
<rect x="386" y="267" width="2" height="2" fill="#cfffc2"/>
<rect x="388" y="267" width="2" height="2" fill="#deffc0"/>
<rect x="390" y="267" width="2" height="2" fill="#ebffbe"/>
<rect x="392" y="267" width="2" height="2" fill="#f8ffbb"/>
<rect x="394" y="267" width="2" height="2" fill="#fff9b4"/>
<rect x="396" y="267" width="2" height="2" fill="#ffeea9"/>
<rect x="398" y="267" width="2" height="2" fill="#ffe49f"/>
<rect x="400" y="267" width="2" height="2" fill="#ffdb96"/>
<rect x="402" y="267" width="2" height="2" fill="#ffd28d"/>
<rect x="404" y="267" width="2" height="2" fill="#ffca84"/>
<rect x="406" y="267" width="2" height="2" fill="#ffc37c"/>
<rect x="408" y="267" width="2" height="2" fill="#ffbc73"/>
<rect x="410" y="267" width="2" height="2" fill="#ffb66b"/>
<rect x="412" y="267" width="2" height="2" fill="#ffb062"/>
<rect x="414" y="267" width="2" height="2" fill="#ffaa58"/>
<rect x="416" y="267" width="2" height="2" fill="#ffa44e"/>
<rect x="418" y="267" width="2" height="2" fill="#ff9f42"/>
<rect x="420" y="267" width="2" height="2" fill="#ff9a31"/>
<rect x="422" y="267" width="2" height="2" fill="#ff9500"/>
<rect x="424" y="267" width="2" height="2" fill="#ff9000"/>
<rect x="426" y="267" width="2" height="2" fill="#ff8b00"/>
<rect x="428" y="267" width="2" height="2" fill="#ff8600"/>
<rect x="430" y="267" width="2" height="2" fill="#ff8200"/>
<rect x="432" y="267" width="2" height="2" fill="#ff7d00"/>
<rect x="338" y="269" width="2" height="2" fill="#00ffe2"/>
<rect x="340" y="269" width="2" height="2" fill="#00ffe1"/>
<rect x="342" y="269" width="2" height="2" fill="#00ffe1"/>
<rect x="344" y="269" width="2" height="2" fill="#00ffe0"/>
<rect x="346" y="269" width="2" height="2" fill="#00ffe0"/>
<rect x="348" y="269" width="2" height="2" fill="#00ffdf"/>
<rect x="350" y="269" width="2" height="2" fill="#00ffde"/>
<rect x="352" y="269" width="2" height="2" fill="#00ffde"/>
<rect x="354" y="269" width="2" height="2" fill="#00ffdd"/>
<rect x="356" y="269" width="2" height="2" fill="#00ffdc"/>
<rect x="358" y="269" width="2" height="2" fill="#00ffdb"/>
<rect x="360" y="269" width="2" height="2" fill="#00ffdb"/>
<rect x="362" y="269" width="2" height="2" fill="#00ffda"/>
<rect x="364" y="269" width="2" height="2" fill="#00ffd9"/>
<rect x="366" y="269" width="2" height="2" fill="#00ffd8"/>
<rect x="368" y="269" width="2" height="2" fill="#00ffd7"/>
<rect x="370" y="269" width="2" height="2" fill="#00ffd6"/>
<rect x="372" y="269" width="2" height="2" fill="#00ffd5"/>
<rect x="374" y="269" width="2" height="2" fill="#00ffd4"/>
<rect x="376" y="269" width="2" height="2" fill="#6bffd2"/>
<rect x="378" y="269" width="2" height="2" fill="#8bffd1"/>
<rect x="380" y="269" width="2" height="2" fill="#a2ffd0"/>
<rect x="382" y="269" width="2" height="2" fill="#b6ffce"/>
<rect x="384" y="269" width="2" height="2" fill="#c7ffcc"/>
<rect x="386" y="269" width="2" height="2" fill="#d7ffcb"/>
<rect x="388" y="269" width="2" height="2" fill="#e5ffc9"/>
<rect x="390" y="269" width="2" height="2" fill="#f3ffc7"/>
<rect x="392" y="269" width="2" height="2" fill="#fffec4"/>
<rect x="394" y="269" width="2" height="2" fill="#fff2b8"/>
<rect x="396" y="269" width="2" height="2" fill="#ffe7ae"/>
<rect x="398" y="269" width="2" height="2" fill="#ffdda4"/>
<rect x="400" y="269" width="2" height="2" fill="#ffd49b"/>
<rect x="402" y="269" width="2" height="2" fill="#ffcc92"/>
<rect x="404" y="269" width="2" height="2" fill="#ffc48a"/>
<rect x="406" y="269" width="2" height="2" fill="#ffbd82"/>
<rect x="408" y="269" width="2" height="2" fill="#ffb77a"/>
<rect x="410" y="269" width="2" height="2" fill="#ffb072"/>
<rect x="412" y="269" width="2" height="2" fill="#ffaa6a"/>
<rect x="414" y="269" width="2" height="2" fill="#ffa461"/>
<rect x="416" y="269" width="2" height="2" fill="#ff9f58"/>
<rect x="418" y="269" width="2" height="2" fill="#ff994f"/>
<rect x="420" y="269" width="2" height="2" fill="#ff9443"/>
<rect x="422" y="269" width="2" height="2" fill="#ff8f35"/>
<rect x="424" y="269" width="2" height="2" fill="#ff8a17"/>
<rect x="426" y="269" width="2" height="2" fill="#ff8500"/>
<rect x="428" y="269" width="2" height="2" fill="#ff8000"/>
<rect x="430" y="269" width="2" height="2" fill="#ff7c00"/>
<rect x="432" y="269" width="2" height="2" fill="#ff7700"/>
<rect x="434" y="269" width="2" height="2" fill="#ff7200"/>
<rect x="338" y="271" width="2" height="2" fill="#00ffe7"/>
<rect x="340" y="271" width="2" height="2" fill="#00ffe6"/>
<rect x="342" y="271" width="2" height="2" fill="#00ffe6"/>
<rect x="344" y="271" width="2" height="2" fill="#00ffe5"/>
<rect x="346" y="271" width="2" height="2" fill="#00ffe5"/>
<rect x="348" y="271" width="2" height="2" fill="#00ffe4"/>
<rect x="350" y="271" width="2" height="2" fill="#00ffe4"/>
<rect x="352" y="271" width="2" height="2" fill="#00ffe3"/>
<rect x="354" y="271" width="2" height="2" fill="#00ffe3"/>
<rect x="356" y="271" width="2" height="2" fill="#00ffe2"/>
<rect x="358" y="271" width="2" height="2" fill="#00ffe1"/>
<rect x="360" y="271" width="2" height="2" fill="#00ffe1"/>
<rect x="362" y="271" width="2" height="2" fill="#00ffe0"/>
<rect x="364" y="271" width="2" height="2" fill="#00ffdf"/>
<rect x="366" y="271" width="2" height="2" fill="#00ffde"/>
<rect x="368" y="271" width="2" height="2" fill="#00ffde"/>
<rect x="370" y="271" width="2" height="2" fill="#00ffdd"/>
<rect x="372" y="271" width="2" height="2" fill="#00ffdc"/>
<rect x="374" y="271" width="2" height="2" fill="#44ffdb"/>
<rect x="376" y="271" width="2" height="2" fill="#77ffda"/>
<rect x="378" y="271" width="2" height="2" fill="#94ffd9"/>
<rect x="380" y="271" width="2" height="2" fill="#abffd7"/>
<rect x="382" y="271" width="2" height="2" fill="#beffd6"/>
<rect x="384" y="271" width="2" height="2" fill="#cfffd5"/>
<rect x="386" y="271" width="2" height="2" fill="#deffd3"/>
<rect x="388" y="271" width="2" height="2" fill="#edffd2"/>
<rect x="390" y="271" width="2" height="2" fill="#fbffd0"/>
<rect x="392" y="271" width="2" height="2" fill="#fff6c7"/>
<rect x="394" y="271" width="2" height="2" fill="#ffeabc"/>
<rect x="396" y="271" width="2" height="2" fill="#ffe0b1"/>
<rect x="398" y="271" width="2" height="2" fill="#ffd6a8"/>
<rect x="400" y="271" width="2" height="2" fill="#ffce9f"/>
<rect x="402" y="271" width="2" height="2" fill="#ffc697"/>
<rect x="404" y="271" width="2" height="2" fill="#ffbe8f"/>
<rect x="406" y="271" width="2" height="2" fill="#ffb787"/>
<rect x="408" y="271" width="2" height="2" fill="#ffb17f"/>
<rect x="410" y="271" width="2" height="2" fill="#ffaa78"/>
<rect x="412" y="271" width="2" height="2" fill="#ffa470"/>
<rect x="414" y="271" width="2" height="2" fill="#ff9f69"/>
<rect x="416" y="271" width="2" height="2" fill="#ff9961"/>
<rect x="418" y="271" width="2" height="2" fill="#ff9458"/>
<rect x="420" y="271" width="2" height="2" fill="#ff8e4f"/>
<rect x="422" y="271" width="2" height="2" fill="#ff8945"/>
<rect x="424" y="271" width="2" height="2" fill="#ff8438"/>
<rect x="426" y="271" width="2" height="2" fill="#ff7f23"/>
<rect x="428" y="271" width="2" height="2" fill="#ff7a00"/>
<rect x="430" y="271" width="2" height="2" fill="#ff7500"/>
<rect x="432" y="271" width="2" height="2" fill="#ff7000"/>
<rect x="434" y="271" width="2" height="2" fill="#ff6b00"/>
<rect x="436" y="271" width="2" height="2" fill="#ff6600"/>
<rect x="338" y="273" width="2" height="2" fill="#00ffec"/>
<rect x="340" y="273" width="2" height="2" fill="#00ffeb"/>
<rect x="342" y="273" width="2" height="2" fill="#00ffeb"/>
<rect x="344" y="273" width="2" height="2" fill="#00ffeb"/>
<rect x="346" y="273" width="2" height="2" fill="#00ffea"/>
<rect x="348" y="273" width="2" height="2" fill="#00ffea"/>
<rect x="350" y="273" width="2" height="2" fill="#00ffe9"/>
<rect x="352" y="273" width="2" height="2" fill="#00ffe9"/>
<rect x="354" y="273" width="2" height="2" fill="#00ffe8"/>
<rect x="356" y="273" width="2" height="2" fill="#00ffe8"/>
<rect x="358" y="273" width="2" height="2" fill="#00ffe7"/>
<rect x="360" y="273" width="2" height="2" fill="#00ffe7"/>
<rect x="362" y="273" width="2" height="2" fill="#00ffe6"/>
<rect x="364" y="273" width="2" height="2" fill="#00ffe6"/>
<rect x="366" y="273" width="2" height="2" fill="#00ffe5"/>
<rect x="368" y="273" width="2" height="2" fill="#00ffe4"/>
<rect x="370" y="273" width="2" height="2" fill="#00ffe4"/>
<rect x="372" y="273" width="2" height="2" fill="#00ffe3"/>
<rect x="374" y="273" width="2" height="2" fill="#59ffe2"/>
<rect x="376" y="273" width="2" height="2" fill="#82ffe1"/>
<rect x="378" y="273" width="2" height="2" fill="#9dffe0"/>
<rect x="380" y="273" width="2" height="2" fill="#b3ffe0"/>
<rect x="382" y="273" width="2" height="2" fill="#c6ffdf"/>
<rect x="384" y="273" width="2" height="2" fill="#d6ffdd"/>
<rect x="386" y="273" width="2" height="2" fill="#e6ffdc"/>
<rect x="388" y="273" width="2" height="2" fill="#f5ffdb"/>
<rect x="390" y="273" width="2" height="2" fill="#fffbd6"/>
<rect x="392" y="273" width="2" height="2" fill="#ffeeca"/>
<rect x="394" y="273" width="2" height="2" fill="#ffe3bf"/>
<rect x="396" y="273" width="2" height="2" fill="#ffd9b5"/>
<rect x="398" y="273" width="2" height="2" fill="#ffd0ac"/>
<rect x="400" y="273" width="2" height="2" fill="#ffc7a3"/>
<rect x="402" y="273" width="2" height="2" fill="#ffbf9b"/>
<rect x="404" y="273" width="2" height="2" fill="#ffb893"/>
<rect x="406" y="273" width="2" height="2" fill="#ffb18c"/>
<rect x="408" y="273" width="2" height="2" fill="#ffaa85"/>
<rect x="410" y="273" width="2" height="2" fill="#ffa47d"/>
<rect x="412" y="273" width="2" height="2" fill="#ff9e76"/>
<rect x="414" y="273" width="2" height="2" fill="#ff986f"/>
<rect x="416" y="273" width="2" height="2" fill="#ff9368"/>
<rect x="418" y="273" width="2" height="2" fill="#ff8d60"/>
<rect x="420" y="273" width="2" height="2" fill="#ff8858"/>
<rect x="422" y="273" width="2" height="2" fill="#ff8350"/>
<rect x="424" y="273" width="2" height="2" fill="#ff7e46"/>
<rect x="426" y="273" width="2" height="2" fill="#ff783a"/>
<rect x="428" y="273" width="2" height="2" fill="#ff7329"/>
<rect x="430" y="273" width="2" height="2" fill="#ff6e00"/>
<rect x="432" y="273" width="2" height="2" fill="#ff6900"/>
<rect x="434" y="273" width="2" height="2" fill="#ff6300"/>
<rect x="436" y="273" width="2" height="2" fill="#ff5e00"/>
<rect x="438" y="273" width="2" height="2" fill="#ff5800"/>
<rect x="338" y="275" width="2" height="2" fill="#00fff1"/>
<rect x="340" y="275" width="2" height="2" fill="#00fff1"/>
<rect x="342" y="275" width="2" height="2" fill="#00fff0"/>
<rect x="344" y="275" width="2" height="2" fill="#00fff0"/>
<rect x="346" y="275" width="2" height="2" fill="#00fff0"/>
<rect x="348" y="275" width="2" height="2" fill="#00fff0"/>
<rect x="350" y="275" width="2" height="2" fill="#00ffef"/>
<rect x="352" y="275" width="2" height="2" fill="#00ffef"/>
<rect x="354" y="275" width="2" height="2" fill="#00ffef"/>
<rect x="356" y="275" width="2" height="2" fill="#00ffee"/>
<rect x="358" y="275" width="2" height="2" fill="#00ffee"/>
<rect x="360" y="275" width="2" height="2" fill="#00ffed"/>
<rect x="362" y="275" width="2" height="2" fill="#00ffed"/>
<rect x="364" y="275" width="2" height="2" fill="#00ffed"/>
<rect x="366" y="275" width="2" height="2" fill="#00ffec"/>
<rect x="368" y="275" width="2" height="2" fill="#00ffec"/>
<rect x="370" y="275" width="2" height="2" fill="#00ffeb"/>
<rect x="372" y="275" width="2" height="2" fill="#00ffea"/>
<rect x="374" y="275" width="2" height="2" fill="#69ffea"/>
<rect x="376" y="275" width="2" height="2" fill="#8dffe9"/>
<rect x="378" y="275" width="2" height="2" fill="#a6ffe9"/>
<rect x="380" y="275" width="2" height="2" fill="#bbffe8"/>
<rect x="382" y="275" width="2" height="2" fill="#ceffe7"/>
<rect x="384" y="275" width="2" height="2" fill="#dfffe6"/>
<rect x="386" y="275" width="2" height="2" fill="#efffe6"/>
<rect x="388" y="275" width="2" height="2" fill="#feffe5"/>
<rect x="390" y="275" width="2" height="2" fill="#fff2d8"/>
<rect x="392" y="275" width="2" height="2" fill="#ffe6cd"/>
<rect x="394" y="275" width="2" height="2" fill="#ffdbc2"/>
<rect x="396" y="275" width="2" height="2" fill="#ffd2b8"/>
<rect x="398" y="275" width="2" height="2" fill="#ffc9af"/>
<rect x="400" y="275" width="2" height="2" fill="#ffc0a7"/>
<rect x="402" y="275" width="2" height="2" fill="#ffb99f"/>
<rect x="404" y="275" width="2" height="2" fill="#ffb197"/>
<rect x="406" y="275" width="2" height="2" fill="#ffab90"/>
<rect x="408" y="275" width="2" height="2" fill="#ffa489"/>
<rect x="410" y="275" width="2" height="2" fill="#ff9e82"/>
<rect x="412" y="275" width="2" height="2" fill="#ff987c"/>
<rect x="414" y="275" width="2" height="2" fill="#ff9275"/>
<rect x="416" y="275" width="2" height="2" fill="#ff8c6e"/>
<rect x="418" y="275" width="2" height="2" fill="#ff8767"/>
<rect x="420" y="275" width="2" height="2" fill="#ff8160"/>
<rect x="422" y="275" width="2" height="2" fill="#ff7c58"/>
<rect x="424" y="275" width="2" height="2" fill="#ff7750"/>
<rect x="426" y="275" width="2" height="2" fill="#ff7147"/>
<rect x="428" y="275" width="2" height="2" fill="#ff6c3c"/>
<rect x="430" y="275" width="2" height="2" fill="#ff662e"/>
<rect x="432" y="275" width="2" height="2" fill="#ff6000"/>
<rect x="434" y="275" width="2" height="2" fill="#ff5a00"/>
<rect x="436" y="275" width="2" height="2" fill="#ff5400"/>
<rect x="438" y="275" width="2" height="2" fill="#ff4d00"/>
<rect x="440" y="275" width="2" height="2" fill="#ff4600"/>
<rect x="338" y="277" width="2" height="2" fill="#00fff6"/>
<rect x="340" y="277" width="2" height="2" fill="#00fff6"/>
<rect x="342" y="277" width="2" height="2" fill="#00fff6"/>
<rect x="344" y="277" width="2" height="2" fill="#00fff6"/>
<rect x="346" y="277" width="2" height="2" fill="#00fff6"/>
<rect x="348" y="277" width="2" height="2" fill="#00fff5"/>
<rect x="350" y="277" width="2" height="2" fill="#00fff5"/>
<rect x="352" y="277" width="2" height="2" fill="#00fff5"/>
<rect x="354" y="277" width="2" height="2" fill="#00fff5"/>
<rect x="356" y="277" width="2" height="2" fill="#00fff5"/>
<rect x="358" y="277" width="2" height="2" fill="#00fff4"/>
<rect x="360" y="277" width="2" height="2" fill="#00fff4"/>
<rect x="362" y="277" width="2" height="2" fill="#00fff4"/>
<rect x="364" y="277" width="2" height="2" fill="#00fff4"/>
<rect x="366" y="277" width="2" height="2" fill="#00fff3"/>
<rect x="368" y="277" width="2" height="2" fill="#00fff3"/>
<rect x="370" y="277" width="2" height="2" fill="#00fff3"/>
<rect x="372" y="277" width="2" height="2" fill="#32fff2"/>
<rect x="374" y="277" width="2" height="2" fill="#76fff2"/>
<rect x="376" y="277" width="2" height="2" fill="#97fff2"/>
<rect x="378" y="277" width="2" height="2" fill="#affff1"/>
<rect x="380" y="277" width="2" height="2" fill="#c4fff1"/>
<rect x="382" y="277" width="2" height="2" fill="#d6fff0"/>
<rect x="384" y="277" width="2" height="2" fill="#e7fff0"/>
<rect x="386" y="277" width="2" height="2" fill="#f7ffef"/>
<rect x="388" y="277" width="2" height="2" fill="#fff7e8"/>
<rect x="390" y="277" width="2" height="2" fill="#ffeadb"/>
<rect x="392" y="277" width="2" height="2" fill="#ffdecf"/>
<rect x="394" y="277" width="2" height="2" fill="#ffd4c5"/>
<rect x="396" y="277" width="2" height="2" fill="#ffcabb"/>
<rect x="398" y="277" width="2" height="2" fill="#ffc2b2"/>
<rect x="400" y="277" width="2" height="2" fill="#ffbaaa"/>
<rect x="402" y="277" width="2" height="2" fill="#ffb2a3"/>
<rect x="404" y="277" width="2" height="2" fill="#ffab9b"/>
<rect x="406" y="277" width="2" height="2" fill="#ffa494"/>
<rect x="408" y="277" width="2" height="2" fill="#ff9e8d"/>
<rect x="410" y="277" width="2" height="2" fill="#ff9787"/>
<rect x="412" y="277" width="2" height="2" fill="#ff9180"/>
<rect x="414" y="277" width="2" height="2" fill="#ff8b7a"/>
<rect x="416" y="277" width="2" height="2" fill="#ff8674"/>
<rect x="418" y="277" width="2" height="2" fill="#ff806d"/>
<rect x="420" y="277" width="2" height="2" fill="#ff7a67"/>
<rect x="422" y="277" width="2" height="2" fill="#ff7560"/>
<rect x="424" y="277" width="2" height="2" fill="#ff6f59"/>
<rect x="426" y="277" width="2" height="2" fill="#ff6951"/>
<rect x="428" y="277" width="2" height="2" fill="#ff6348"/>
<rect x="430" y="277" width="2" height="2" fill="#ff5d3e"/>
<rect x="432" y="277" width="2" height="2" fill="#ff5731"/>
<rect x="434" y="277" width="2" height="2" fill="#ff5018"/>
<rect x="436" y="277" width="2" height="2" fill="#ff4800"/>
<rect x="438" y="277" width="2" height="2" fill="#ff4000"/>
<rect x="440" y="277" width="2" height="2" fill="#ff3500"/>
<rect x="442" y="277" width="2" height="2" fill="#ff2400"/>
<rect x="340" y="279" width="2" height="2" fill="#00fffc"/>
<rect x="342" y="279" width="2" height="2" fill="#00fffc"/>
<rect x="344" y="279" width="2" height="2" fill="#00fffc"/>
<rect x="346" y="279" width="2" height="2" fill="#00fffc"/>
<rect x="348" y="279" width="2" height="2" fill="#00fffb"/>
<rect x="350" y="279" width="2" height="2" fill="#00fffb"/>
<rect x="352" y="279" width="2" height="2" fill="#00fffb"/>
<rect x="354" y="279" width="2" height="2" fill="#00fffb"/>
<rect x="356" y="279" width="2" height="2" fill="#00fffb"/>
<rect x="358" y="279" width="2" height="2" fill="#00fffb"/>
<rect x="360" y="279" width="2" height="2" fill="#00fffb"/>
<rect x="362" y="279" width="2" height="2" fill="#00fffb"/>
<rect x="364" y="279" width="2" height="2" fill="#00fffb"/>
<rect x="366" y="279" width="2" height="2" fill="#00fffb"/>
<rect x="368" y="279" width="2" height="2" fill="#00fffb"/>
<rect x="370" y="279" width="2" height="2" fill="#00fffb"/>
<rect x="372" y="279" width="2" height="2" fill="#51fffa"/>
<rect x="374" y="279" width="2" height="2" fill="#83fffa"/>
<rect x="376" y="279" width="2" height="2" fill="#a1fffa"/>
<rect x="378" y="279" width="2" height="2" fill="#b8fffa"/>
<rect x="380" y="279" width="2" height="2" fill="#cdfffa"/>
<rect x="382" y="279" width="2" height="2" fill="#dffffa"/>
<rect x="384" y="279" width="2" height="2" fill="#f1fffa"/>
<rect x="386" y="279" width="2" height="2" fill="#fffdf8"/>
<rect x="388" y="279" width="2" height="2" fill="#ffefe9"/>
<rect x="390" y="279" width="2" height="2" fill="#ffe2dd"/>
<rect x="392" y="279" width="2" height="2" fill="#ffd7d1"/>
<rect x="394" y="279" width="2" height="2" fill="#ffccc7"/>
<rect x="396" y="279" width="2" height="2" fill="#ffc3be"/>
<rect x="398" y="279" width="2" height="2" fill="#ffbbb5"/>
<rect x="400" y="279" width="2" height="2" fill="#ffb3ad"/>
<rect x="402" y="279" width="2" height="2" fill="#ffaba6"/>
<rect x="404" y="279" width="2" height="2" fill="#ffa49f"/>
<rect x="406" y="279" width="2" height="2" fill="#ff9d98"/>
<rect x="408" y="279" width="2" height="2" fill="#ff9791"/>
<rect x="410" y="279" width="2" height="2" fill="#ff908b"/>
<rect x="412" y="279" width="2" height="2" fill="#ff8a85"/>
<rect x="414" y="279" width="2" height="2" fill="#ff847f"/>
<rect x="416" y="279" width="2" height="2" fill="#ff7e79"/>
<rect x="418" y="279" width="2" height="2" fill="#ff7872"/>
<rect x="420" y="279" width="2" height="2" fill="#ff736c"/>
<rect x="422" y="279" width="2" height="2" fill="#ff6d66"/>
<rect x="424" y="279" width="2" height="2" fill="#ff675f"/>
<rect x="426" y="279" width="2" height="2" fill="#ff6059"/>
<rect x="428" y="279" width="2" height="2" fill="#ff5a51"/>
<rect x="430" y="279" width="2" height="2" fill="#ff5349"/>
<rect x="432" y="279" width="2" height="2" fill="#ff4b40"/>
<rect x="434" y="279" width="2" height="2" fill="#ff4234"/>
<rect x="436" y="279" width="2" height="2" fill="#ff3821"/>
<rect x="438" y="279" width="2" height="2" fill="#ff2900"/>
<rect x="440" y="279" width="2" height="2" fill="#ff0000"/>
<rect x="442" y="279" width="2" height="2" fill="#ff0000"/>
<rect x="444" y="279" width="2" height="2" fill="#ff0000"/>
<rect x="340" y="281" width="2" height="2" fill="#00fdff"/>
<rect x="342" y="281" width="2" height="2" fill="#00fdff"/>
<rect x="344" y="281" width="2" height="2" fill="#00fcff"/>
<rect x="346" y="281" width="2" height="2" fill="#00fcff"/>
<rect x="348" y="281" width="2" height="2" fill="#00fcff"/>
<rect x="350" y="281" width="2" height="2" fill="#00fcff"/>
<rect x="352" y="281" width="2" height="2" fill="#00fcff"/>
<rect x="354" y="281" width="2" height="2" fill="#00fcff"/>
<rect x="356" y="281" width="2" height="2" fill="#00fcff"/>
<rect x="358" y="281" width="2" height="2" fill="#00fcff"/>
<rect x="360" y="281" width="2" height="2" fill="#00fcff"/>
<rect x="362" y="281" width="2" height="2" fill="#00fcff"/>
<rect x="364" y="281" width="2" height="2" fill="#00fcff"/>
<rect x="366" y="281" width="2" height="2" fill="#00fbff"/>
<rect x="368" y="281" width="2" height="2" fill="#00fbff"/>
<rect x="370" y="281" width="2" height="2" fill="#00fbff"/>
<rect x="372" y="281" width="2" height="2" fill="#63fbff"/>
<rect x="374" y="281" width="2" height="2" fill="#8cfbff"/>
<rect x="376" y="281" width="2" height="2" fill="#a8fbff"/>
<rect x="378" y="281" width="2" height="2" fill="#bffbff"/>
<rect x="380" y="281" width="2" height="2" fill="#d2faff"/>
<rect x="382" y="281" width="2" height="2" fill="#e4faff"/>
<rect x="384" y="281" width="2" height="2" fill="#f5faff"/>
<rect x="386" y="281" width="2" height="2" fill="#fff4f9"/>
<rect x="388" y="281" width="2" height="2" fill="#ffe6eb"/>
<rect x="390" y="281" width="2" height="2" fill="#ffd9de"/>
<rect x="392" y="281" width="2" height="2" fill="#ffced4"/>
<rect x="394" y="281" width="2" height="2" fill="#ffc5ca"/>
<rect x="396" y="281" width="2" height="2" fill="#ffbcc1"/>
<rect x="398" y="281" width="2" height="2" fill="#ffb3b8"/>
<rect x="400" y="281" width="2" height="2" fill="#ffabb0"/>
<rect x="402" y="281" width="2" height="2" fill="#ffa4a9"/>
<rect x="404" y="281" width="2" height="2" fill="#ff9da2"/>
<rect x="406" y="281" width="2" height="2" fill="#ff969b"/>
<rect x="408" y="281" width="2" height="2" fill="#ff8f95"/>
<rect x="410" y="281" width="2" height="2" fill="#ff898f"/>
<rect x="412" y="281" width="2" height="2" fill="#ff8389"/>
<rect x="414" y="281" width="2" height="2" fill="#ff7d83"/>
<rect x="416" y="281" width="2" height="2" fill="#ff767d"/>
<rect x="418" y="281" width="2" height="2" fill="#ff7077"/>
<rect x="420" y="281" width="2" height="2" fill="#ff6a71"/>
<rect x="422" y="281" width="2" height="2" fill="#ff646b"/>
<rect x="424" y="281" width="2" height="2" fill="#ff5d65"/>
<rect x="426" y="281" width="2" height="2" fill="#ff565f"/>
<rect x="428" y="281" width="2" height="2" fill="#ff4e59"/>
<rect x="430" y="281" width="2" height="2" fill="#ff4552"/>
<rect x="432" y="281" width="2" height="2" fill="#ff3b4a"/>
<rect x="434" y="281" width="2" height="2" fill="#ff2d41"/>
<rect x="436" y="281" width="2" height="2" fill="#ff0037"/>
<rect x="438" y="281" width="2" height="2" fill="#ff0027"/>
<rect x="440" y="281" width="2" height="2" fill="#ff0000"/>
<rect x="442" y="281" width="2" height="2" fill="#ff0000"/>
<rect x="444" y="281" width="2" height="2" fill="#ff0000"/>
<rect x="446" y="281" width="2" height="2" fill="#ff0000"/>
<rect x="340" y="283" width="2" height="2" fill="#00f7ff"/>
<rect x="342" y="283" width="2" height="2" fill="#00f7ff"/>
<rect x="344" y="283" width="2" height="2" fill="#00f6ff"/>
<rect x="346" y="283" width="2" height="2" fill="#00f6ff"/>
<rect x="348" y="283" width="2" height="2" fill="#00f6ff"/>
<rect x="350" y="283" width="2" height="2" fill="#00f6ff"/>
<rect x="352" y="283" width="2" height="2" fill="#00f6ff"/>
<rect x="354" y="283" width="2" height="2" fill="#00f5ff"/>
<rect x="356" y="283" width="2" height="2" fill="#00f5ff"/>
<rect x="358" y="283" width="2" height="2" fill="#00f5ff"/>
<rect x="360" y="283" width="2" height="2" fill="#00f5ff"/>
<rect x="362" y="283" width="2" height="2" fill="#00f4ff"/>
<rect x="364" y="283" width="2" height="2" fill="#00f4ff"/>
<rect x="366" y="283" width="2" height="2" fill="#00f4ff"/>
<rect x="368" y="283" width="2" height="2" fill="#00f3ff"/>
<rect x="370" y="283" width="2" height="2" fill="#00f3ff"/>
<rect x="372" y="283" width="2" height="2" fill="#6ff3ff"/>
<rect x="374" y="283" width="2" height="2" fill="#92f2ff"/>
<rect x="376" y="283" width="2" height="2" fill="#acf2ff"/>
<rect x="378" y="283" width="2" height="2" fill="#c1f1ff"/>
<rect x="380" y="283" width="2" height="2" fill="#d4f1ff"/>
<rect x="382" y="283" width="2" height="2" fill="#e5f0ff"/>
<rect x="384" y="283" width="2" height="2" fill="#f5f0ff"/>
<rect x="386" y="283" width="2" height="2" fill="#ffeafa"/>
<rect x="388" y="283" width="2" height="2" fill="#ffddec"/>
<rect x="390" y="283" width="2" height="2" fill="#ffd1e0"/>
<rect x="392" y="283" width="2" height="2" fill="#ffc6d6"/>
<rect x="394" y="283" width="2" height="2" fill="#ffbdcc"/>
<rect x="396" y="283" width="2" height="2" fill="#ffb4c3"/>
<rect x="398" y="283" width="2" height="2" fill="#ffacbb"/>
<rect x="400" y="283" width="2" height="2" fill="#ffa4b3"/>
<rect x="402" y="283" width="2" height="2" fill="#ff9cac"/>
<rect x="404" y="283" width="2" height="2" fill="#ff95a5"/>
<rect x="406" y="283" width="2" height="2" fill="#ff8e9f"/>
<rect x="408" y="283" width="2" height="2" fill="#ff8898"/>
<rect x="410" y="283" width="2" height="2" fill="#ff8192"/>
<rect x="412" y="283" width="2" height="2" fill="#ff7b8d"/>
<rect x="414" y="283" width="2" height="2" fill="#ff7487"/>
<rect x="416" y="283" width="2" height="2" fill="#ff6e81"/>
<rect x="418" y="283" width="2" height="2" fill="#ff677c"/>
<rect x="420" y="283" width="2" height="2" fill="#ff6076"/>
<rect x="422" y="283" width="2" height="2" fill="#ff5970"/>
<rect x="424" y="283" width="2" height="2" fill="#ff516b"/>
<rect x="426" y="283" width="2" height="2" fill="#ff4865"/>
<rect x="428" y="283" width="2" height="2" fill="#ff3e5f"/>
<rect x="430" y="283" width="2" height="2" fill="#ff3159"/>
<rect x="432" y="283" width="2" height="2" fill="#ff1752"/>
<rect x="434" y="283" width="2" height="2" fill="#ff004b"/>
<rect x="436" y="283" width="2" height="2" fill="#ff0042"/>
<rect x="438" y="283" width="2" height="2" fill="#ff0039"/>
<rect x="440" y="283" width="2" height="2" fill="#ff002b"/>
<rect x="442" y="283" width="2" height="2" fill="#ff0000"/>
<rect x="444" y="283" width="2" height="2" fill="#ff0000"/>
<rect x="446" y="283" width="2" height="2" fill="#ff0000"/>
<rect x="448" y="283" width="2" height="2" fill="#ff0000"/>
<rect x="340" y="285" width="2" height="2" fill="#00f1ff"/>
<rect x="342" y="285" width="2" height="2" fill="#00f1ff"/>
<rect x="344" y="285" width="2" height="2" fill="#00f1ff"/>
<rect x="346" y="285" width="2" height="2" fill="#00f0ff"/>
<rect x="348" y="285" width="2" height="2" fill="#00f0ff"/>
<rect x="350" y="285" width="2" height="2" fill="#00f0ff"/>
<rect x="352" y="285" width="2" height="2" fill="#00efff"/>
<rect x="354" y="285" width="2" height="2" fill="#00efff"/>
<rect x="356" y="285" width="2" height="2" fill="#00eeff"/>
<rect x="358" y="285" width="2" height="2" fill="#00eeff"/>
<rect x="360" y="285" width="2" height="2" fill="#00edff"/>
<rect x="362" y="285" width="2" height="2" fill="#00edff"/>
<rect x="364" y="285" width="2" height="2" fill="#00edff"/>
<rect x="366" y="285" width="2" height="2" fill="#00ecff"/>
<rect x="368" y="285" width="2" height="2" fill="#00ebff"/>
<rect x="370" y="285" width="2" height="2" fill="#40ebff"/>
<rect x="372" y="285" width="2" height="2" fill="#79eaff"/>
<rect x="374" y="285" width="2" height="2" fill="#97eaff"/>
<rect x="376" y="285" width="2" height="2" fill="#afe9ff"/>
<rect x="378" y="285" width="2" height="2" fill="#c3e8ff"/>
<rect x="380" y="285" width="2" height="2" fill="#d5e7ff"/>
<rect x="382" y="285" width="2" height="2" fill="#e5e6ff"/>
<rect x="384" y="285" width="2" height="2" fill="#f5e5ff"/>
<rect x="386" y="285" width="2" height="2" fill="#ffe0fa"/>
<rect x="388" y="285" width="2" height="2" fill="#ffd4ed"/>
<rect x="390" y="285" width="2" height="2" fill="#ffc8e2"/>
<rect x="392" y="285" width="2" height="2" fill="#ffbed7"/>
<rect x="394" y="285" width="2" height="2" fill="#ffb5ce"/>
<rect x="396" y="285" width="2" height="2" fill="#ffacc5"/>
<rect x="398" y="285" width="2" height="2" fill="#ffa4bd"/>
<rect x="400" y="285" width="2" height="2" fill="#ff9cb6"/>
<rect x="402" y="285" width="2" height="2" fill="#ff94af"/>
<rect x="404" y="285" width="2" height="2" fill="#ff8da8"/>
<rect x="406" y="285" width="2" height="2" fill="#ff86a2"/>
<rect x="408" y="285" width="2" height="2" fill="#ff7f9c"/>
<rect x="410" y="285" width="2" height="2" fill="#ff7896"/>
<rect x="412" y="285" width="2" height="2" fill="#ff7290"/>
<rect x="414" y="285" width="2" height="2" fill="#ff6b8a"/>
<rect x="416" y="285" width="2" height="2" fill="#ff6485"/>
<rect x="418" y="285" width="2" height="2" fill="#ff5c80"/>
<rect x="420" y="285" width="2" height="2" fill="#ff547a"/>
<rect x="422" y="285" width="2" height="2" fill="#ff4c75"/>
<rect x="424" y="285" width="2" height="2" fill="#ff426f"/>
<rect x="426" y="285" width="2" height="2" fill="#ff356a"/>
<rect x="428" y="285" width="2" height="2" fill="#ff1f64"/>
<rect x="430" y="285" width="2" height="2" fill="#ff005f"/>
<rect x="432" y="285" width="2" height="2" fill="#ff0059"/>
<rect x="434" y="285" width="2" height="2" fill="#ff0052"/>
<rect x="436" y="285" width="2" height="2" fill="#ff004b"/>
<rect x="438" y="285" width="2" height="2" fill="#ff0044"/>
<rect x="440" y="285" width="2" height="2" fill="#ff003a"/>
<rect x="442" y="285" width="2" height="2" fill="#ff002f"/>
<rect x="444" y="285" width="2" height="2" fill="#ff0018"/>
<rect x="446" y="285" width="2" height="2" fill="#ff0000"/>
<rect x="448" y="285" width="2" height="2" fill="#ff0000"/>
<rect x="450" y="285" width="2" height="2" fill="#ff0000"/>
<rect x="340" y="287" width="2" height="2" fill="#00ecff"/>
<rect x="342" y="287" width="2" height="2" fill="#00ebff"/>
<rect x="344" y="287" width="2" height="2" fill="#00ebff"/>
<rect x="346" y="287" width="2" height="2" fill="#00eaff"/>
<rect x="348" y="287" width="2" height="2" fill="#00eaff"/>
<rect x="350" y="287" width="2" height="2" fill="#00e9ff"/>
<rect x="352" y="287" width="2" height="2" fill="#00e9ff"/>
<rect x="354" y="287" width="2" height="2" fill="#00e8ff"/>
<rect x="356" y="287" width="2" height="2" fill="#00e8ff"/>
<rect x="358" y="287" width="2" height="2" fill="#00e7ff"/>
<rect x="360" y="287" width="2" height="2" fill="#00e6ff"/>
<rect x="362" y="287" width="2" height="2" fill="#00e6ff"/>
<rect x="364" y="287" width="2" height="2" fill="#00e5ff"/>
<rect x="366" y="287" width="2" height="2" fill="#00e4ff"/>
<rect x="368" y="287" width="2" height="2" fill="#00e4ff"/>
<rect x="370" y="287" width="2" height="2" fill="#55e3ff"/>
<rect x="372" y="287" width="2" height="2" fill="#80e2ff"/>
<rect x="374" y="287" width="2" height="2" fill="#9ce1ff"/>
<rect x="376" y="287" width="2" height="2" fill="#b2e0ff"/>
<rect x="378" y="287" width="2" height="2" fill="#c5dfff"/>
<rect x="380" y="287" width="2" height="2" fill="#d6deff"/>
<rect x="382" y="287" width="2" height="2" fill="#e6ddff"/>
<rect x="384" y="287" width="2" height="2" fill="#f4dbff"/>
<rect x="386" y="287" width="2" height="2" fill="#ffd7fb"/>
<rect x="388" y="287" width="2" height="2" fill="#ffcaef"/>
<rect x="390" y="287" width="2" height="2" fill="#ffbfe3"/>
<rect x="392" y="287" width="2" height="2" fill="#ffb5d9"/>
<rect x="394" y="287" width="2" height="2" fill="#ffacd0"/>
<rect x="396" y="287" width="2" height="2" fill="#ffa3c7"/>
<rect x="398" y="287" width="2" height="2" fill="#ff9bc0"/>
<rect x="400" y="287" width="2" height="2" fill="#ff93b8"/>
<rect x="402" y="287" width="2" height="2" fill="#ff8cb1"/>
<rect x="404" y="287" width="2" height="2" fill="#ff85ab"/>
<rect x="406" y="287" width="2" height="2" fill="#ff7da5"/>
<rect x="408" y="287" width="2" height="2" fill="#ff769f"/>
<rect x="410" y="287" width="2" height="2" fill="#ff6f99"/>
<rect x="412" y="287" width="2" height="2" fill="#ff6893"/>
<rect x="414" y="287" width="2" height="2" fill="#ff608e"/>
<rect x="416" y="287" width="2" height="2" fill="#ff5888"/>
<rect x="418" y="287" width="2" height="2" fill="#ff4f83"/>
<rect x="420" y="287" width="2" height="2" fill="#ff457e"/>
<rect x="422" y="287" width="2" height="2" fill="#ff3979"/>
<rect x="424" y="287" width="2" height="2" fill="#ff2674"/>
<rect x="426" y="287" width="2" height="2" fill="#ff006f"/>
<rect x="428" y="287" width="2" height="2" fill="#ff0069"/>
<rect x="430" y="287" width="2" height="2" fill="#ff0064"/>
<rect x="432" y="287" width="2" height="2" fill="#ff005e"/>
<rect x="434" y="287" width="2" height="2" fill="#ff0059"/>
<rect x="436" y="287" width="2" height="2" fill="#ff0053"/>
<rect x="438" y="287" width="2" height="2" fill="#ff004c"/>
<rect x="440" y="287" width="2" height="2" fill="#ff0045"/>
<rect x="442" y="287" width="2" height="2" fill="#ff003c"/>
<rect x="444" y="287" width="2" height="2" fill="#ff0031"/>
<rect x="446" y="287" width="2" height="2" fill="#ff0020"/>
<rect x="448" y="287" width="2" height="2" fill="#ff0000"/>
<rect x="450" y="287" width="2" height="2" fill="#ff0000"/>
<rect x="452" y="287" width="2" height="2" fill="#ff0000"/>
<rect x="342" y="289" width="2" height="2" fill="#00e5ff"/>
<rect x="344" y="289" width="2" height="2" fill="#00e5ff"/>
<rect x="346" y="289" width="2" height="2" fill="#00e4ff"/>
<rect x="348" y="289" width="2" height="2" fill="#00e4ff"/>
<rect x="350" y="289" width="2" height="2" fill="#00e3ff"/>
<rect x="352" y="289" width="2" height="2" fill="#00e2ff"/>
<rect x="354" y="289" width="2" height="2" fill="#00e2ff"/>
<rect x="356" y="289" width="2" height="2" fill="#00e1ff"/>
<rect x="358" y="289" width="2" height="2" fill="#00e0ff"/>
<rect x="360" y="289" width="2" height="2" fill="#00dfff"/>
<rect x="362" y="289" width="2" height="2" fill="#00dfff"/>
<rect x="364" y="289" width="2" height="2" fill="#00deff"/>
<rect x="366" y="289" width="2" height="2" fill="#00ddff"/>
<rect x="368" y="289" width="2" height="2" fill="#00dcff"/>
<rect x="370" y="289" width="2" height="2" fill="#63dbff"/>
<rect x="372" y="289" width="2" height="2" fill="#87daff"/>
<rect x="374" y="289" width="2" height="2" fill="#a0d8ff"/>
<rect x="376" y="289" width="2" height="2" fill="#b5d7ff"/>
<rect x="378" y="289" width="2" height="2" fill="#c7d6ff"/>
<rect x="380" y="289" width="2" height="2" fill="#d7d4ff"/>
<rect x="382" y="289" width="2" height="2" fill="#e6d3ff"/>
<rect x="384" y="289" width="2" height="2" fill="#f4d1ff"/>
<rect x="386" y="289" width="2" height="2" fill="#ffcdfc"/>
<rect x="388" y="289" width="2" height="2" fill="#ffc1f0"/>
<rect x="390" y="289" width="2" height="2" fill="#ffb6e5"/>
<rect x="392" y="289" width="2" height="2" fill="#ffacdb"/>
<rect x="394" y="289" width="2" height="2" fill="#ffa3d2"/>
<rect x="396" y="289" width="2" height="2" fill="#ff9bc9"/>
<rect x="398" y="289" width="2" height="2" fill="#ff92c2"/>
<rect x="400" y="289" width="2" height="2" fill="#ff8abb"/>
<rect x="402" y="289" width="2" height="2" fill="#ff83b4"/>
<rect x="404" y="289" width="2" height="2" fill="#ff7bad"/>
<rect x="406" y="289" width="2" height="2" fill="#ff73a7"/>
<rect x="408" y="289" width="2" height="2" fill="#ff6ca1"/>
<rect x="410" y="289" width="2" height="2" fill="#ff649c"/>
<rect x="412" y="289" width="2" height="2" fill="#ff5c96"/>
<rect x="414" y="289" width="2" height="2" fill="#ff5391"/>
<rect x="416" y="289" width="2" height="2" fill="#ff498c"/>
<rect x="418" y="289" width="2" height="2" fill="#ff3d87"/>
<rect x="420" y="289" width="2" height="2" fill="#ff2b82"/>
<rect x="422" y="289" width="2" height="2" fill="#ff007d"/>
<rect x="424" y="289" width="2" height="2" fill="#ff0078"/>
<rect x="426" y="289" width="2" height="2" fill="#ff0073"/>
<rect x="428" y="289" width="2" height="2" fill="#ff006e"/>
<rect x="430" y="289" width="2" height="2" fill="#ff0069"/>
<rect x="432" y="289" width="2" height="2" fill="#ff0064"/>
<rect x="434" y="289" width="2" height="2" fill="#ff005e"/>
<rect x="436" y="289" width="2" height="2" fill="#ff0059"/>
<rect x="438" y="289" width="2" height="2" fill="#ff0053"/>
<rect x="440" y="289" width="2" height="2" fill="#ff004d"/>
<rect x="442" y="289" width="2" height="2" fill="#ff0046"/>
<rect x="444" y="289" width="2" height="2" fill="#ff003e"/>
<rect x="446" y="289" width="2" height="2" fill="#ff0034"/>
<rect x="448" y="289" width="2" height="2" fill="#ff0025"/>
<rect x="450" y="289" width="2" height="2" fill="#ff0000"/>
<rect x="452" y="289" width="2" height="2" fill="#ff0000"/>
<rect x="342" y="291" width="2" height="2" fill="#00e0ff"/>
<rect x="344" y="291" width="2" height="2" fill="#00dfff"/>
<rect x="346" y="291" width="2" height="2" fill="#00deff"/>
<rect x="348" y="291" width="2" height="2" fill="#00deff"/>
<rect x="350" y="291" width="2" height="2" fill="#00ddff"/>
<rect x="352" y="291" width="2" height="2" fill="#00dcff"/>
<rect x="354" y="291" width="2" height="2" fill="#00dbff"/>
<rect x="356" y="291" width="2" height="2" fill="#00daff"/>
<rect x="358" y="291" width="2" height="2" fill="#00d9ff"/>
<rect x="360" y="291" width="2" height="2" fill="#00d8ff"/>
<rect x="362" y="291" width="2" height="2" fill="#00d7ff"/>
<rect x="364" y="291" width="2" height="2" fill="#00d6ff"/>
<rect x="366" y="291" width="2" height="2" fill="#00d5ff"/>
<rect x="368" y="291" width="2" height="2" fill="#24d4ff"/>
<rect x="370" y="291" width="2" height="2" fill="#6ed3ff"/>
<rect x="372" y="291" width="2" height="2" fill="#8dd1ff"/>
<rect x="374" y="291" width="2" height="2" fill="#a4d0ff"/>
<rect x="376" y="291" width="2" height="2" fill="#b7ceff"/>
<rect x="378" y="291" width="2" height="2" fill="#c8cdff"/>
<rect x="380" y="291" width="2" height="2" fill="#d8cbff"/>
<rect x="382" y="291" width="2" height="2" fill="#e6c9ff"/>
<rect x="384" y="291" width="2" height="2" fill="#f4c7ff"/>
<rect x="386" y="291" width="2" height="2" fill="#ffc3fd"/>
<rect x="388" y="291" width="2" height="2" fill="#ffb7f1"/>
<rect x="390" y="291" width="2" height="2" fill="#ffade6"/>
<rect x="392" y="291" width="2" height="2" fill="#ffa3dc"/>
<rect x="394" y="291" width="2" height="2" fill="#ff9ad3"/>
<rect x="396" y="291" width="2" height="2" fill="#ff91cb"/>
<rect x="398" y="291" width="2" height="2" fill="#ff89c4"/>
<rect x="400" y="291" width="2" height="2" fill="#ff81bd"/>
<rect x="402" y="291" width="2" height="2" fill="#ff79b6"/>
<rect x="404" y="291" width="2" height="2" fill="#ff70b0"/>
<rect x="406" y="291" width="2" height="2" fill="#ff68aa"/>
<rect x="408" y="291" width="2" height="2" fill="#ff60a4"/>
<rect x="410" y="291" width="2" height="2" fill="#ff579e"/>
<rect x="412" y="291" width="2" height="2" fill="#ff4c99"/>
<rect x="414" y="291" width="2" height="2" fill="#ff4194"/>
<rect x="416" y="291" width="2" height="2" fill="#ff308f"/>
<rect x="418" y="291" width="2" height="2" fill="#ff008a"/>
<rect x="420" y="291" width="2" height="2" fill="#ff0085"/>
<rect x="422" y="291" width="2" height="2" fill="#ff0080"/>
<rect x="424" y="291" width="2" height="2" fill="#ff007b"/>
<rect x="426" y="291" width="2" height="2" fill="#ff0077"/>
<rect x="428" y="291" width="2" height="2" fill="#ff0072"/>
<rect x="430" y="291" width="2" height="2" fill="#ff006d"/>
<rect x="432" y="291" width="2" height="2" fill="#ff0068"/>
<rect x="434" y="291" width="2" height="2" fill="#ff0063"/>
<rect x="436" y="291" width="2" height="2" fill="#ff005e"/>
<rect x="438" y="291" width="2" height="2" fill="#ff0059"/>
<rect x="440" y="291" width="2" height="2" fill="#ff0053"/>
<rect x="442" y="291" width="2" height="2" fill="#ff004d"/>
<rect x="444" y="291" width="2" height="2" fill="#ff0046"/>
<rect x="446" y="291" width="2" height="2" fill="#ff003f"/>
<rect x="448" y="291" width="2" height="2" fill="#ff0036"/>
<rect x="450" y="291" width="2" height="2" fill="#ff0029"/>
<rect x="452" y="291" width="2" height="2" fill="#ff0000"/>
<rect x="342" y="293" width="2" height="2" fill="#00daff"/>
<rect x="344" y="293" width="2" height="2" fill="#00d9ff"/>
<rect x="346" y="293" width="2" height="2" fill="#00d8ff"/>
<rect x="348" y="293" width="2" height="2" fill="#00d8ff"/>
<rect x="350" y="293" width="2" height="2" fill="#00d7ff"/>
<rect x="352" y="293" width="2" height="2" fill="#00d6ff"/>
<rect x="354" y="293" width="2" height="2" fill="#00d5ff"/>
<rect x="356" y="293" width="2" height="2" fill="#00d4ff"/>
<rect x="358" y="293" width="2" height="2" fill="#00d3ff"/>
<rect x="360" y="293" width="2" height="2" fill="#00d1ff"/>
<rect x="362" y="293" width="2" height="2" fill="#00d0ff"/>
<rect x="364" y="293" width="2" height="2" fill="#00cfff"/>
<rect x="366" y="293" width="2" height="2" fill="#00cdff"/>
<rect x="368" y="293" width="2" height="2" fill="#47ccff"/>
<rect x="370" y="293" width="2" height="2" fill="#76caff"/>
<rect x="372" y="293" width="2" height="2" fill="#92c9ff"/>
<rect x="374" y="293" width="2" height="2" fill="#a7c7ff"/>
<rect x="376" y="293" width="2" height="2" fill="#b9c5ff"/>
<rect x="378" y="293" width="2" height="2" fill="#cac3ff"/>
<rect x="380" y="293" width="2" height="2" fill="#d8c1ff"/>
<rect x="382" y="293" width="2" height="2" fill="#e6bfff"/>
<rect x="384" y="293" width="2" height="2" fill="#f4bcff"/>
<rect x="386" y="293" width="2" height="2" fill="#ffb9fd"/>
<rect x="388" y="293" width="2" height="2" fill="#ffadf2"/>
<rect x="390" y="293" width="2" height="2" fill="#ffa3e7"/>
<rect x="392" y="293" width="2" height="2" fill="#ff99de"/>
<rect x="394" y="293" width="2" height="2" fill="#ff90d5"/>
<rect x="396" y="293" width="2" height="2" fill="#ff87cd"/>
<rect x="398" y="293" width="2" height="2" fill="#ff7ec6"/>
<rect x="400" y="293" width="2" height="2" fill="#ff76bf"/>
<rect x="402" y="293" width="2" height="2" fill="#ff6db8"/>
<rect x="404" y="293" width="2" height="2" fill="#ff64b2"/>
<rect x="406" y="293" width="2" height="2" fill="#ff5bac"/>
<rect x="408" y="293" width="2" height="2" fill="#ff51a7"/>
<rect x="410" y="293" width="2" height="2" fill="#ff45a1"/>
<rect x="412" y="293" width="2" height="2" fill="#ff359c"/>
<rect x="414" y="293" width="2" height="2" fill="#ff1397"/>
<rect x="416" y="293" width="2" height="2" fill="#ff0092"/>
<rect x="418" y="293" width="2" height="2" fill="#ff008d"/>
<rect x="420" y="293" width="2" height="2" fill="#ff0088"/>
<rect x="422" y="293" width="2" height="2" fill="#ff0084"/>
<rect x="424" y="293" width="2" height="2" fill="#ff007f"/>
<rect x="426" y="293" width="2" height="2" fill="#ff007a"/>
<rect x="428" y="293" width="2" height="2" fill="#ff0076"/>
<rect x="430" y="293" width="2" height="2" fill="#ff0071"/>
<rect x="432" y="293" width="2" height="2" fill="#ff006c"/>
<rect x="434" y="293" width="2" height="2" fill="#ff0068"/>
<rect x="436" y="293" width="2" height="2" fill="#ff0063"/>
<rect x="438" y="293" width="2" height="2" fill="#ff005e"/>
<rect x="440" y="293" width="2" height="2" fill="#ff0059"/>
<rect x="442" y="293" width="2" height="2" fill="#ff0053"/>
<rect x="444" y="293" width="2" height="2" fill="#ff004e"/>
<rect x="446" y="293" width="2" height="2" fill="#ff0047"/>
<rect x="448" y="293" width="2" height="2" fill="#ff0040"/>
<rect x="450" y="293" width="2" height="2" fill="#ff0038"/>
<rect x="452" y="293" width="2" height="2" fill="#ff002c"/>
<rect x="342" y="295" width="2" height="2" fill="#00d4ff"/>
<rect x="344" y="295" width="2" height="2" fill="#00d3ff"/>
<rect x="346" y="295" width="2" height="2" fill="#00d2ff"/>
<rect x="348" y="295" width="2" height="2" fill="#00d1ff"/>
<rect x="350" y="295" width="2" height="2" fill="#00d0ff"/>
<rect x="352" y="295" width="2" height="2" fill="#00cfff"/>
<rect x="354" y="295" width="2" height="2" fill="#00ceff"/>
<rect x="356" y="295" width="2" height="2" fill="#00cdff"/>
<rect x="358" y="295" width="2" height="2" fill="#00ccff"/>
<rect x="360" y="295" width="2" height="2" fill="#00caff"/>
<rect x="362" y="295" width="2" height="2" fill="#00c9ff"/>
<rect x="364" y="295" width="2" height="2" fill="#00c7ff"/>
<rect x="366" y="295" width="2" height="2" fill="#00c6ff"/>
<rect x="368" y="295" width="2" height="2" fill="#57c4ff"/>
<rect x="370" y="295" width="2" height="2" fill="#7dc2ff"/>
<rect x="372" y="295" width="2" height="2" fill="#96c0ff"/>
<rect x="374" y="295" width="2" height="2" fill="#aabeff"/>
<rect x="376" y="295" width="2" height="2" fill="#bbbcff"/>
<rect x="378" y="295" width="2" height="2" fill="#cbbaff"/>
<rect x="380" y="295" width="2" height="2" fill="#d9b7ff"/>
<rect x="382" y="295" width="2" height="2" fill="#e7b5ff"/>
<rect x="384" y="295" width="2" height="2" fill="#f4b2ff"/>
<rect x="386" y="295" width="2" height="2" fill="#ffaefe"/>
<rect x="388" y="295" width="2" height="2" fill="#ffa3f3"/>
<rect x="390" y="295" width="2" height="2" fill="#ff98e8"/>
<rect x="392" y="295" width="2" height="2" fill="#ff8edf"/>
<rect x="394" y="295" width="2" height="2" fill="#ff85d7"/>
<rect x="396" y="295" width="2" height="2" fill="#ff7ccf"/>
<rect x="398" y="295" width="2" height="2" fill="#ff73c8"/>
<rect x="400" y="295" width="2" height="2" fill="#ff69c1"/>
<rect x="402" y="295" width="2" height="2" fill="#ff5fba"/>
<rect x="404" y="295" width="2" height="2" fill="#ff55b4"/>
<rect x="406" y="295" width="2" height="2" fill="#ff49ae"/>
<rect x="408" y="295" width="2" height="2" fill="#ff3aa9"/>
<rect x="410" y="295" width="2" height="2" fill="#ff20a4"/>
<rect x="412" y="295" width="2" height="2" fill="#ff009e"/>
<rect x="414" y="295" width="2" height="2" fill="#ff0099"/>
<rect x="416" y="295" width="2" height="2" fill="#ff0095"/>
<rect x="418" y="295" width="2" height="2" fill="#ff0090"/>
<rect x="420" y="295" width="2" height="2" fill="#ff008b"/>
<rect x="422" y="295" width="2" height="2" fill="#ff0087"/>
<rect x="424" y="295" width="2" height="2" fill="#ff0082"/>
<rect x="426" y="295" width="2" height="2" fill="#ff007e"/>
<rect x="428" y="295" width="2" height="2" fill="#ff0079"/>
<rect x="430" y="295" width="2" height="2" fill="#ff0075"/>
<rect x="432" y="295" width="2" height="2" fill="#ff0070"/>
<rect x="434" y="295" width="2" height="2" fill="#ff006c"/>
<rect x="436" y="295" width="2" height="2" fill="#ff0067"/>
<rect x="438" y="295" width="2" height="2" fill="#ff0063"/>
<rect x="440" y="295" width="2" height="2" fill="#ff005e"/>
<rect x="442" y="295" width="2" height="2" fill="#ff0059"/>
<rect x="444" y="295" width="2" height="2" fill="#ff0054"/>
<rect x="446" y="295" width="2" height="2" fill="#ff004e"/>
<rect x="448" y="295" width="2" height="2" fill="#ff0048"/>
<rect x="344" y="297" width="2" height="2" fill="#00ceff"/>
<rect x="346" y="297" width="2" height="2" fill="#00ccff"/>
<rect x="348" y="297" width="2" height="2" fill="#00cbff"/>
<rect x="350" y="297" width="2" height="2" fill="#00caff"/>
<rect x="352" y="297" width="2" height="2" fill="#00c9ff"/>
<rect x="354" y="297" width="2" height="2" fill="#00c7ff"/>
<rect x="356" y="297" width="2" height="2" fill="#00c6ff"/>
<rect x="358" y="297" width="2" height="2" fill="#00c5ff"/>
<rect x="360" y="297" width="2" height="2" fill="#00c3ff"/>
<rect x="362" y="297" width="2" height="2" fill="#00c1ff"/>
<rect x="364" y="297" width="2" height="2" fill="#00c0ff"/>
<rect x="366" y="297" width="2" height="2" fill="#00beff"/>
<rect x="368" y="297" width="2" height="2" fill="#63bcff"/>
<rect x="370" y="297" width="2" height="2" fill="#83baff"/>
<rect x="372" y="297" width="2" height="2" fill="#9ab8ff"/>
<rect x="374" y="297" width="2" height="2" fill="#adb5ff"/>
<rect x="376" y="297" width="2" height="2" fill="#bdb3ff"/>
<rect x="378" y="297" width="2" height="2" fill="#ccb0ff"/>
<rect x="380" y="297" width="2" height="2" fill="#daadff"/>
<rect x="382" y="297" width="2" height="2" fill="#e7aaff"/>
<rect x="384" y="297" width="2" height="2" fill="#f3a6ff"/>
<rect x="386" y="297" width="2" height="2" fill="#ffa2ff"/>
<rect x="388" y="297" width="2" height="2" fill="#ff97f4"/>
<rect x="390" y="297" width="2" height="2" fill="#ff8dea"/>
<rect x="392" y="297" width="2" height="2" fill="#ff83e0"/>
<rect x="394" y="297" width="2" height="2" fill="#ff79d8"/>
<rect x="396" y="297" width="2" height="2" fill="#ff6fd0"/>
<rect x="398" y="297" width="2" height="2" fill="#ff65c9"/>
<rect x="400" y="297" width="2" height="2" fill="#ff5ac3"/>
<rect x="402" y="297" width="2" height="2" fill="#ff4ebc"/>
<rect x="404" y="297" width="2" height="2" fill="#ff3fb6"/>
<rect x="406" y="297" width="2" height="2" fill="#ff28b1"/>
<rect x="408" y="297" width="2" height="2" fill="#ff00ab"/>
<rect x="410" y="297" width="2" height="2" fill="#ff00a6"/>
<rect x="412" y="297" width="2" height="2" fill="#ff00a1"/>
<rect x="414" y="297" width="2" height="2" fill="#ff009c"/>
<rect x="416" y="297" width="2" height="2" fill="#ff0097"/>
<rect x="418" y="297" width="2" height="2" fill="#ff0093"/>
<rect x="420" y="297" width="2" height="2" fill="#ff008e"/>
<rect x="422" y="297" width="2" height="2" fill="#ff008a"/>
<rect x="424" y="297" width="2" height="2" fill="#ff0085"/>
<rect x="426" y="297" width="2" height="2" fill="#ff0081"/>
<rect x="428" y="297" width="2" height="2" fill="#ff007d"/>
<rect x="430" y="297" width="2" height="2" fill="#ff0078"/>
<rect x="432" y="297" width="2" height="2" fill="#ff0074"/>
<rect x="434" y="297" width="2" height="2" fill="#ff0070"/>
<rect x="436" y="297" width="2" height="2" fill="#ff006b"/>
<rect x="438" y="297" width="2" height="2" fill="#ff0067"/>
<rect x="440" y="297" width="2" height="2" fill="#ff0062"/>
<rect x="442" y="297" width="2" height="2" fill="#ff005e"/>
<rect x="444" y="297" width="2" height="2" fill="#ff0059"/>
<rect x="344" y="299" width="2" height="2" fill="#00c8ff"/>
<rect x="346" y="299" width="2" height="2" fill="#00c6ff"/>
<rect x="348" y="299" width="2" height="2" fill="#00c5ff"/>
<rect x="350" y="299" width="2" height="2" fill="#00c4ff"/>
<rect x="352" y="299" width="2" height="2" fill="#00c2ff"/>
<rect x="354" y="299" width="2" height="2" fill="#00c1ff"/>
<rect x="356" y="299" width="2" height="2" fill="#00bfff"/>
<rect x="358" y="299" width="2" height="2" fill="#00beff"/>
<rect x="360" y="299" width="2" height="2" fill="#00bcff"/>
<rect x="362" y="299" width="2" height="2" fill="#00baff"/>
<rect x="364" y="299" width="2" height="2" fill="#00b8ff"/>
<rect x="366" y="299" width="2" height="2" fill="#35b6ff"/>
<rect x="368" y="299" width="2" height="2" fill="#6cb4ff"/>
<rect x="370" y="299" width="2" height="2" fill="#88b1ff"/>
<rect x="372" y="299" width="2" height="2" fill="#9dafff"/>
<rect x="374" y="299" width="2" height="2" fill="#afacff"/>
<rect x="376" y="299" width="2" height="2" fill="#bfa9ff"/>
<rect x="378" y="299" width="2" height="2" fill="#cda6ff"/>
<rect x="380" y="299" width="2" height="2" fill="#dba2ff"/>
<rect x="382" y="299" width="2" height="2" fill="#e79fff"/>
<rect x="384" y="299" width="2" height="2" fill="#f39bff"/>
<rect x="386" y="299" width="2" height="2" fill="#ff96ff"/>
<rect x="388" y="299" width="2" height="2" fill="#ff8bf4"/>
<rect x="390" y="299" width="2" height="2" fill="#ff80eb"/>
<rect x="392" y="299" width="2" height="2" fill="#ff75e2"/>
<rect x="394" y="299" width="2" height="2" fill="#ff6ada"/>
<rect x="396" y="299" width="2" height="2" fill="#ff5fd2"/>
<rect x="398" y="299" width="2" height="2" fill="#ff53cb"/>
<rect x="400" y="299" width="2" height="2" fill="#ff44c4"/>
<rect x="402" y="299" width="2" height="2" fill="#ff2fbe"/>
<rect x="404" y="299" width="2" height="2" fill="#ff00b8"/>
<rect x="406" y="299" width="2" height="2" fill="#ff00b3"/>
<rect x="408" y="299" width="2" height="2" fill="#ff00ad"/>
<rect x="410" y="299" width="2" height="2" fill="#ff00a8"/>
<rect x="412" y="299" width="2" height="2" fill="#ff00a3"/>
<rect x="414" y="299" width="2" height="2" fill="#ff009e"/>
<rect x="416" y="299" width="2" height="2" fill="#ff009a"/>
<rect x="418" y="299" width="2" height="2" fill="#ff0095"/>
<rect x="420" y="299" width="2" height="2" fill="#ff0091"/>
<rect x="422" y="299" width="2" height="2" fill="#ff008c"/>
<rect x="424" y="299" width="2" height="2" fill="#ff0088"/>
<rect x="426" y="299" width="2" height="2" fill="#ff0084"/>
<rect x="428" y="299" width="2" height="2" fill="#ff0080"/>
<rect x="430" y="299" width="2" height="2" fill="#ff007b"/>
<rect x="432" y="299" width="2" height="2" fill="#ff0077"/>
<rect x="434" y="299" width="2" height="2" fill="#ff0073"/>
<rect x="436" y="299" width="2" height="2" fill="#ff006f"/>
<rect x="438" y="299" width="2" height="2" fill="#ff006b"/>
<rect x="440" y="299" width="2" height="2" fill="#ff0066"/>
<rect x="344" y="301" width="2" height="2" fill="#00c2ff"/>
<rect x="346" y="301" width="2" height="2" fill="#00c0ff"/>
<rect x="348" y="301" width="2" height="2" fill="#00bfff"/>
<rect x="350" y="301" width="2" height="2" fill="#00bdff"/>
<rect x="352" y="301" width="2" height="2" fill="#00bcff"/>
<rect x="354" y="301" width="2" height="2" fill="#00baff"/>
<rect x="356" y="301" width="2" height="2" fill="#00b8ff"/>
<rect x="358" y="301" width="2" height="2" fill="#00b6ff"/>
<rect x="360" y="301" width="2" height="2" fill="#00b4ff"/>
<rect x="362" y="301" width="2" height="2" fill="#00b2ff"/>
<rect x="364" y="301" width="2" height="2" fill="#00b0ff"/>
<rect x="366" y="301" width="2" height="2" fill="#4baeff"/>
<rect x="368" y="301" width="2" height="2" fill="#74abff"/>
<rect x="370" y="301" width="2" height="2" fill="#8da8ff"/>
<rect x="372" y="301" width="2" height="2" fill="#a1a5ff"/>
<rect x="374" y="301" width="2" height="2" fill="#b2a2ff"/>
<rect x="376" y="301" width="2" height="2" fill="#c19fff"/>
<rect x="378" y="301" width="2" height="2" fill="#ce9bff"/>
<rect x="380" y="301" width="2" height="2" fill="#db97ff"/>
<rect x="382" y="301" width="2" height="2" fill="#e793ff"/>
<rect x="384" y="301" width="2" height="2" fill="#f38eff"/>
<rect x="386" y="301" width="2" height="2" fill="#fe88ff"/>
<rect x="388" y="301" width="2" height="2" fill="#ff7df5"/>
<rect x="390" y="301" width="2" height="2" fill="#ff71ec"/>
<rect x="392" y="301" width="2" height="2" fill="#ff65e3"/>
<rect x="394" y="301" width="2" height="2" fill="#ff58db"/>
<rect x="396" y="301" width="2" height="2" fill="#ff49d3"/>
<rect x="398" y="301" width="2" height="2" fill="#ff36cd"/>
<rect x="400" y="301" width="2" height="2" fill="#ff00c6"/>
<rect x="402" y="301" width="2" height="2" fill="#ff00c0"/>
<rect x="404" y="301" width="2" height="2" fill="#ff00ba"/>
<rect x="406" y="301" width="2" height="2" fill="#ff00b5"/>
<rect x="408" y="301" width="2" height="2" fill="#ff00af"/>
<rect x="410" y="301" width="2" height="2" fill="#ff00aa"/>
<rect x="412" y="301" width="2" height="2" fill="#ff00a5"/>
<rect x="414" y="301" width="2" height="2" fill="#ff00a1"/>
<rect x="416" y="301" width="2" height="2" fill="#ff009c"/>
<rect x="418" y="301" width="2" height="2" fill="#ff0098"/>
<rect x="420" y="301" width="2" height="2" fill="#ff0093"/>
<rect x="422" y="301" width="2" height="2" fill="#ff008f"/>
<rect x="424" y="301" width="2" height="2" fill="#ff008b"/>
<rect x="426" y="301" width="2" height="2" fill="#ff0087"/>
<rect x="428" y="301" width="2" height="2" fill="#ff0083"/>
<rect x="430" y="301" width="2" height="2" fill="#ff007e"/>
<rect x="432" y="301" width="2" height="2" fill="#ff007a"/>
<rect x="434" y="301" width="2" height="2" fill="#ff0076"/>
<rect x="436" y="301" width="2" height="2" fill="#ff0072"/>
<rect x="344" y="303" width="2" height="2" fill="#00bcff"/>
<rect x="346" y="303" width="2" height="2" fill="#00baff"/>
<rect x="348" y="303" width="2" height="2" fill="#00b8ff"/>
<rect x="350" y="303" width="2" height="2" fill="#00b7ff"/>
<rect x="352" y="303" width="2" height="2" fill="#00b5ff"/>
<rect x="354" y="303" width="2" height="2" fill="#00b3ff"/>
<rect x="356" y="303" width="2" height="2" fill="#00b1ff"/>
<rect x="358" y="303" width="2" height="2" fill="#00afff"/>
<rect x="360" y="303" width="2" height="2" fill="#00adff"/>
<rect x="362" y="303" width="2" height="2" fill="#00aaff"/>
<rect x="364" y="303" width="2" height="2" fill="#00a8ff"/>
<rect x="366" y="303" width="2" height="2" fill="#58a5ff"/>
<rect x="368" y="303" width="2" height="2" fill="#7aa2ff"/>
<rect x="370" y="303" width="2" height="2" fill="#919fff"/>
<rect x="372" y="303" width="2" height="2" fill="#a49cff"/>
<rect x="374" y="303" width="2" height="2" fill="#b498ff"/>
<rect x="376" y="303" width="2" height="2" fill="#c294ff"/>
<rect x="378" y="303" width="2" height="2" fill="#cf90ff"/>
<rect x="380" y="303" width="2" height="2" fill="#dc8bff"/>
<rect x="382" y="303" width="2" height="2" fill="#e886ff"/>
<rect x="384" y="303" width="2" height="2" fill="#f37fff"/>
<rect x="386" y="303" width="2" height="2" fill="#fe78ff"/>
<rect x="388" y="303" width="2" height="2" fill="#ff6cf6"/>
<rect x="390" y="303" width="2" height="2" fill="#ff5eed"/>
<rect x="392" y="303" width="2" height="2" fill="#ff4fe4"/>
<rect x="394" y="303" width="2" height="2" fill="#ff3cdc"/>
<rect x="396" y="303" width="2" height="2" fill="#ff00d5"/>
<rect x="398" y="303" width="2" height="2" fill="#ff00ce"/>
<rect x="400" y="303" width="2" height="2" fill="#ff00c8"/>
<rect x="402" y="303" width="2" height="2" fill="#ff00c2"/>
<rect x="404" y="303" width="2" height="2" fill="#ff00bc"/>
<rect x="406" y="303" width="2" height="2" fill="#ff00b6"/>
<rect x="408" y="303" width="2" height="2" fill="#ff00b1"/>
<rect x="410" y="303" width="2" height="2" fill="#ff00ac"/>
<rect x="412" y="303" width="2" height="2" fill="#ff00a7"/>
<rect x="414" y="303" width="2" height="2" fill="#ff00a3"/>
<rect x="416" y="303" width="2" height="2" fill="#ff009e"/>
<rect x="418" y="303" width="2" height="2" fill="#ff009a"/>
<rect x="420" y="303" width="2" height="2" fill="#ff0096"/>
<rect x="422" y="303" width="2" height="2" fill="#ff0091"/>
<rect x="424" y="303" width="2" height="2" fill="#ff008d"/>
<rect x="426" y="303" width="2" height="2" fill="#ff0089"/>
<rect x="428" y="303" width="2" height="2" fill="#ff0085"/>
<rect x="430" y="303" width="2" height="2" fill="#ff0081"/>
<rect x="432" y="303" width="2" height="2" fill="#ff007d"/>
<rect x="346" y="305" width="2" height="2" fill="#00b4ff"/>
<rect x="348" y="305" width="2" height="2" fill="#00b2ff"/>
<rect x="350" y="305" width="2" height="2" fill="#00b0ff"/>
<rect x="352" y="305" width="2" height="2" fill="#00aeff"/>
<rect x="354" y="305" width="2" height="2" fill="#00acff"/>
<rect x="356" y="305" width="2" height="2" fill="#00aaff"/>
<rect x="358" y="305" width="2" height="2" fill="#00a7ff"/>
<rect x="360" y="305" width="2" height="2" fill="#00a5ff"/>
<rect x="362" y="305" width="2" height="2" fill="#00a2ff"/>
<rect x="364" y="305" width="2" height="2" fill="#009fff"/>
<rect x="366" y="305" width="2" height="2" fill="#639cff"/>
<rect x="368" y="305" width="2" height="2" fill="#8099ff"/>
<rect x="370" y="305" width="2" height="2" fill="#9595ff"/>
<rect x="372" y="305" width="2" height="2" fill="#a691ff"/>
<rect x="374" y="305" width="2" height="2" fill="#b68dff"/>
<rect x="376" y="305" width="2" height="2" fill="#c488ff"/>
<rect x="378" y="305" width="2" height="2" fill="#d083ff"/>
<rect x="380" y="305" width="2" height="2" fill="#dc7dff"/>
<rect x="382" y="305" width="2" height="2" fill="#e877ff"/>
<rect x="384" y="305" width="2" height="2" fill="#f36fff"/>
<rect x="386" y="305" width="2" height="2" fill="#fd65ff"/>
<rect x="388" y="305" width="2" height="2" fill="#ff56f7"/>
<rect x="390" y="305" width="2" height="2" fill="#ff43ed"/>
<rect x="392" y="305" width="2" height="2" fill="#ff20e5"/>
<rect x="394" y="305" width="2" height="2" fill="#ff00dd"/>
<rect x="396" y="305" width="2" height="2" fill="#ff00d6"/>
<rect x="398" y="305" width="2" height="2" fill="#ff00cf"/>
<rect x="400" y="305" width="2" height="2" fill="#ff00c9"/>
<rect x="402" y="305" width="2" height="2" fill="#ff00c3"/>
<rect x="404" y="305" width="2" height="2" fill="#ff00be"/>
<rect x="406" y="305" width="2" height="2" fill="#ff00b8"/>
<rect x="408" y="305" width="2" height="2" fill="#ff00b3"/>
<rect x="410" y="305" width="2" height="2" fill="#ff00ae"/>
<rect x="412" y="305" width="2" height="2" fill="#ff00a9"/>
<rect x="414" y="305" width="2" height="2" fill="#ff00a5"/>
<rect x="416" y="305" width="2" height="2" fill="#ff00a0"/>
<rect x="418" y="305" width="2" height="2" fill="#ff009c"/>
<rect x="420" y="305" width="2" height="2" fill="#ff0098"/>
<rect x="422" y="305" width="2" height="2" fill="#ff0094"/>
<rect x="424" y="305" width="2" height="2" fill="#ff0090"/>
<rect x="426" y="305" width="2" height="2" fill="#ff008c"/>
<rect x="346" y="307" width="2" height="2" fill="#00adff"/>
<rect x="348" y="307" width="2" height="2" fill="#00abff"/>
<rect x="350" y="307" width="2" height="2" fill="#00a9ff"/>
<rect x="352" y="307" width="2" height="2" fill="#00a7ff"/>
<rect x="354" y="307" width="2" height="2" fill="#00a5ff"/>
<rect x="356" y="307" width="2" height="2" fill="#00a2ff"/>
<rect x="358" y="307" width="2" height="2" fill="#009fff"/>
<rect x="360" y="307" width="2" height="2" fill="#009dff"/>
<rect x="362" y="307" width="2" height="2" fill="#009aff"/>
<rect x="364" y="307" width="2" height="2" fill="#3d96ff"/>
<rect x="366" y="307" width="2" height="2" fill="#6b93ff"/>
<rect x="368" y="307" width="2" height="2" fill="#858fff"/>
<rect x="370" y="307" width="2" height="2" fill="#988bff"/>
<rect x="372" y="307" width="2" height="2" fill="#a986ff"/>
<rect x="374" y="307" width="2" height="2" fill="#b881ff"/>
<rect x="376" y="307" width="2" height="2" fill="#c57bff"/>
<rect x="378" y="307" width="2" height="2" fill="#d175ff"/>
<rect x="380" y="307" width="2" height="2" fill="#dd6dff"/>
<rect x="382" y="307" width="2" height="2" fill="#e864ff"/>
<rect x="384" y="307" width="2" height="2" fill="#f359ff"/>
<rect x="386" y="307" width="2" height="2" fill="#fd4aff"/>
<rect x="388" y="307" width="2" height="2" fill="#ff2cf7"/>
<rect x="390" y="307" width="2" height="2" fill="#ff00ee"/>
<rect x="392" y="307" width="2" height="2" fill="#ff00e6"/>
<rect x="394" y="307" width="2" height="2" fill="#ff00df"/>
<rect x="396" y="307" width="2" height="2" fill="#ff00d7"/>
<rect x="398" y="307" width="2" height="2" fill="#ff00d1"/>
<rect x="400" y="307" width="2" height="2" fill="#ff00cb"/>
<rect x="402" y="307" width="2" height="2" fill="#ff00c5"/>
<rect x="404" y="307" width="2" height="2" fill="#ff00bf"/>
<rect x="406" y="307" width="2" height="2" fill="#ff00ba"/>
<rect x="408" y="307" width="2" height="2" fill="#ff00b5"/>
<rect x="410" y="307" width="2" height="2" fill="#ff00b0"/>
<rect x="412" y="307" width="2" height="2" fill="#ff00ab"/>
<rect x="414" y="307" width="2" height="2" fill="#ff00a7"/>
<rect x="416" y="307" width="2" height="2" fill="#ff00a2"/>
<rect x="418" y="307" width="2" height="2" fill="#ff009e"/>
<rect x="420" y="307" width="2" height="2" fill="#ff009a"/>
<rect x="422" y="307" width="2" height="2" fill="#ff0096"/>
<rect x="346" y="309" width="2" height="2" fill="#00a7ff"/>
<rect x="348" y="309" width="2" height="2" fill="#00a4ff"/>
<rect x="350" y="309" width="2" height="2" fill="#00a2ff"/>
<rect x="352" y="309" width="2" height="2" fill="#00a0ff"/>
<rect x="354" y="309" width="2" height="2" fill="#009dff"/>
<rect x="356" y="309" width="2" height="2" fill="#009aff"/>
<rect x="358" y="309" width="2" height="2" fill="#0097ff"/>
<rect x="360" y="309" width="2" height="2" fill="#0094ff"/>
<rect x="362" y="309" width="2" height="2" fill="#0091ff"/>
<rect x="364" y="309" width="2" height="2" fill="#4e8dff"/>
<rect x="366" y="309" width="2" height="2" fill="#7289ff"/>
<rect x="368" y="309" width="2" height="2" fill="#8984ff"/>
<rect x="370" y="309" width="2" height="2" fill="#9c7fff"/>
<rect x="372" y="309" width="2" height="2" fill="#ab7aff"/>
<rect x="374" y="309" width="2" height="2" fill="#b974ff"/>
<rect x="376" y="309" width="2" height="2" fill="#c66cff"/>
<rect x="378" y="309" width="2" height="2" fill="#d264ff"/>
<rect x="380" y="309" width="2" height="2" fill="#dd59ff"/>
<rect x="382" y="309" width="2" height="2" fill="#e84bff"/>
<rect x="384" y="309" width="2" height="2" fill="#f234ff"/>
<rect x="386" y="309" width="2" height="2" fill="#fd00ff"/>
<rect x="388" y="309" width="2" height="2" fill="#ff00f8"/>
<rect x="390" y="309" width="2" height="2" fill="#ff00ef"/>
<rect x="392" y="309" width="2" height="2" fill="#ff00e7"/>
<rect x="394" y="309" width="2" height="2" fill="#ff00e0"/>
<rect x="396" y="309" width="2" height="2" fill="#ff00d9"/>
<rect x="398" y="309" width="2" height="2" fill="#ff00d2"/>
<rect x="400" y="309" width="2" height="2" fill="#ff00cc"/>
<rect x="402" y="309" width="2" height="2" fill="#ff00c6"/>
<rect x="404" y="309" width="2" height="2" fill="#ff00c1"/>
<rect x="406" y="309" width="2" height="2" fill="#ff00bc"/>
<rect x="408" y="309" width="2" height="2" fill="#ff00b7"/>
<rect x="410" y="309" width="2" height="2" fill="#ff00b2"/>
<rect x="412" y="309" width="2" height="2" fill="#ff00ad"/>
<rect x="414" y="309" width="2" height="2" fill="#ff00a9"/>
<rect x="416" y="309" width="2" height="2" fill="#ff00a4"/>
<rect x="418" y="309" width="2" height="2" fill="#ff00a0"/>
<rect x="348" y="311" width="2" height="2" fill="#009dff"/>
<rect x="350" y="311" width="2" height="2" fill="#009bff"/>
<rect x="352" y="311" width="2" height="2" fill="#0098ff"/>
<rect x="354" y="311" width="2" height="2" fill="#0095ff"/>
<rect x="356" y="311" width="2" height="2" fill="#0092ff"/>
<rect x="358" y="311" width="2" height="2" fill="#008eff"/>
<rect x="360" y="311" width="2" height="2" fill="#008bff"/>
<rect x="362" y="311" width="2" height="2" fill="#0087ff"/>
<rect x="364" y="311" width="2" height="2" fill="#5a83ff"/>
<rect x="366" y="311" width="2" height="2" fill="#787eff"/>
<rect x="368" y="311" width="2" height="2" fill="#8d78ff"/>
<rect x="370" y="311" width="2" height="2" fill="#9e72ff"/>
<rect x="372" y="311" width="2" height="2" fill="#ad6bff"/>
<rect x="374" y="311" width="2" height="2" fill="#bb63ff"/>
<rect x="376" y="311" width="2" height="2" fill="#c759ff"/>
<rect x="378" y="311" width="2" height="2" fill="#d34cff"/>
<rect x="380" y="311" width="2" height="2" fill="#de38ff"/>
<rect x="382" y="311" width="2" height="2" fill="#e800ff"/>
<rect x="384" y="311" width="2" height="2" fill="#f200ff"/>
<rect x="386" y="311" width="2" height="2" fill="#fc00ff"/>
<rect x="388" y="311" width="2" height="2" fill="#ff00f8"/>
<rect x="390" y="311" width="2" height="2" fill="#ff00f0"/>
<rect x="392" y="311" width="2" height="2" fill="#ff00e8"/>
<rect x="394" y="311" width="2" height="2" fill="#ff00e1"/>
<rect x="396" y="311" width="2" height="2" fill="#ff00da"/>
<rect x="398" y="311" width="2" height="2" fill="#ff00d3"/>
<rect x="400" y="311" width="2" height="2" fill="#ff00cd"/>
<rect x="402" y="311" width="2" height="2" fill="#ff00c8"/>
<rect x="404" y="311" width="2" height="2" fill="#ff00c2"/>
<rect x="406" y="311" width="2" height="2" fill="#ff00bd"/>
<rect x="408" y="311" width="2" height="2" fill="#ff00b8"/>
<rect x="410" y="311" width="2" height="2" fill="#ff00b4"/>
<rect x="412" y="311" width="2" height="2" fill="#ff00af"/>
<rect x="414" y="311" width="2" height="2" fill="#ff00ab"/>
<rect x="348" y="313" width="2" height="2" fill="#0096ff"/>
<rect x="350" y="313" width="2" height="2" fill="#0093ff"/>
<rect x="352" y="313" width="2" height="2" fill="#0090ff"/>
<rect x="354" y="313" width="2" height="2" fill="#008dff"/>
<rect x="356" y="313" width="2" height="2" fill="#0089ff"/>
<rect x="358" y="313" width="2" height="2" fill="#0085ff"/>
<rect x="360" y="313" width="2" height="2" fill="#0081ff"/>
<rect x="362" y="313" width="2" height="2" fill="#2a7cff"/>
<rect x="364" y="313" width="2" height="2" fill="#6377ff"/>
<rect x="366" y="313" width="2" height="2" fill="#7d71ff"/>
<rect x="368" y="313" width="2" height="2" fill="#916bff"/>
<rect x="370" y="313" width="2" height="2" fill="#a163ff"/>
<rect x="372" y="313" width="2" height="2" fill="#af59ff"/>
<rect x="374" y="313" width="2" height="2" fill="#bc4dff"/>
<rect x="376" y="313" width="2" height="2" fill="#c83cff"/>
<rect x="378" y="313" width="2" height="2" fill="#d400ff"/>
<rect x="380" y="313" width="2" height="2" fill="#de00ff"/>
<rect x="382" y="313" width="2" height="2" fill="#e800ff"/>
<rect x="384" y="313" width="2" height="2" fill="#f200ff"/>
<rect x="386" y="313" width="2" height="2" fill="#fc00ff"/>
<rect x="388" y="313" width="2" height="2" fill="#ff00f9"/>
<rect x="390" y="313" width="2" height="2" fill="#ff00f1"/>
<rect x="392" y="313" width="2" height="2" fill="#ff00e9"/>
<rect x="394" y="313" width="2" height="2" fill="#ff00e2"/>
<rect x="396" y="313" width="2" height="2" fill="#ff00db"/>
<rect x="398" y="313" width="2" height="2" fill="#ff00d5"/>
<rect x="400" y="313" width="2" height="2" fill="#ff00cf"/>
<rect x="402" y="313" width="2" height="2" fill="#ff00c9"/>
<rect x="404" y="313" width="2" height="2" fill="#ff00c4"/>
<rect x="406" y="313" width="2" height="2" fill="#ff00bf"/>
<rect x="408" y="313" width="2" height="2" fill="#ff00ba"/>
<rect x="410" y="313" width="2" height="2" fill="#ff00b5"/>
<rect x="348" y="315" width="2" height="2" fill="#008eff"/>
<rect x="350" y="315" width="2" height="2" fill="#008bff"/>
<rect x="352" y="315" width="2" height="2" fill="#0087ff"/>
<rect x="354" y="315" width="2" height="2" fill="#0084ff"/>
<rect x="356" y="315" width="2" height="2" fill="#007fff"/>
<rect x="358" y="315" width="2" height="2" fill="#007bff"/>
<rect x="360" y="315" width="2" height="2" fill="#0076ff"/>
<rect x="362" y="315" width="2" height="2" fill="#4270ff"/>
<rect x="364" y="315" width="2" height="2" fill="#6a6aff"/>
<rect x="366" y="315" width="2" height="2" fill="#8262ff"/>
<rect x="368" y="315" width="2" height="2" fill="#945aff"/>
<rect x="370" y="315" width="2" height="2" fill="#a44eff"/>
<rect x="372" y="315" width="2" height="2" fill="#b13eff"/>
<rect x="374" y="315" width="2" height="2" fill="#be1aff"/>
<rect x="376" y="315" width="2" height="2" fill="#c900ff"/>
<rect x="378" y="315" width="2" height="2" fill="#d400ff"/>
<rect x="380" y="315" width="2" height="2" fill="#df00ff"/>
<rect x="382" y="315" width="2" height="2" fill="#e900ff"/>
<rect x="384" y="315" width="2" height="2" fill="#f200ff"/>
<rect x="386" y="315" width="2" height="2" fill="#fb00ff"/>
<rect x="388" y="315" width="2" height="2" fill="#ff00fa"/>
<rect x="390" y="315" width="2" height="2" fill="#ff00f1"/>
<rect x="392" y="315" width="2" height="2" fill="#ff00ea"/>
<rect x="394" y="315" width="2" height="2" fill="#ff00e3"/>
<rect x="396" y="315" width="2" height="2" fill="#ff00dc"/>
<rect x="398" y="315" width="2" height="2" fill="#ff00d6"/>
<rect x="400" y="315" width="2" height="2" fill="#ff00d0"/>
<rect x="402" y="315" width="2" height="2" fill="#ff00ca"/>
<rect x="404" y="315" width="2" height="2" fill="#ff00c5"/>
<rect x="406" y="315" width="2" height="2" fill="#ff00c0"/>
<rect x="350" y="317" width="2" height="2" fill="#0082ff"/>
<rect x="352" y="317" width="2" height="2" fill="#007eff"/>
<rect x="354" y="317" width="2" height="2" fill="#007aff"/>
<rect x="356" y="317" width="2" height="2" fill="#0075ff"/>
<rect x="358" y="317" width="2" height="2" fill="#006fff"/>
<rect x="360" y="317" width="2" height="2" fill="#0069ff"/>
<rect x="362" y="317" width="2" height="2" fill="#5062ff"/>
<rect x="364" y="317" width="2" height="2" fill="#705aff"/>
<rect x="366" y="317" width="2" height="2" fill="#864fff"/>
<rect x="368" y="317" width="2" height="2" fill="#9741ff"/>
<rect x="370" y="317" width="2" height="2" fill="#a625ff"/>
<rect x="372" y="317" width="2" height="2" fill="#b300ff"/>
<rect x="374" y="317" width="2" height="2" fill="#bf00ff"/>
<rect x="376" y="317" width="2" height="2" fill="#ca00ff"/>
<rect x="378" y="317" width="2" height="2" fill="#d500ff"/>
<rect x="380" y="317" width="2" height="2" fill="#df00ff"/>
<rect x="382" y="317" width="2" height="2" fill="#e900ff"/>
<rect x="384" y="317" width="2" height="2" fill="#f200ff"/>
<rect x="386" y="317" width="2" height="2" fill="#fb00ff"/>
<rect x="388" y="317" width="2" height="2" fill="#ff00fa"/>
<rect x="390" y="317" width="2" height="2" fill="#ff00f2"/>
<rect x="392" y="317" width="2" height="2" fill="#ff00eb"/>
<rect x="394" y="317" width="2" height="2" fill="#ff00e4"/>
<rect x="396" y="317" width="2" height="2" fill="#ff00dd"/>
<rect x="398" y="317" width="2" height="2" fill="#ff00d7"/>
<rect x="400" y="317" width="2" height="2" fill="#ff00d1"/>
<rect x="402" y="317" width="2" height="2" fill="#ff00cc"/>
<rect x="350" y="319" width="2" height="2" fill="#0078ff"/>
<rect x="352" y="319" width="2" height="2" fill="#0074ff"/>
<rect x="354" y="319" width="2" height="2" fill="#006eff"/>
<rect x="356" y="319" width="2" height="2" fill="#0069ff"/>
<rect x="358" y="319" width="2" height="2" fill="#0062ff"/>
<rect x="360" y="319" width="2" height="2" fill="#005aff"/>
<rect x="362" y="319" width="2" height="2" fill="#5a50ff"/>
<rect x="364" y="319" width="2" height="2" fill="#7643ff"/>
<rect x="366" y="319" width="2" height="2" fill="#8a2cff"/>
<rect x="368" y="319" width="2" height="2" fill="#9a00ff"/>
<rect x="370" y="319" width="2" height="2" fill="#a800ff"/>
<rect x="372" y="319" width="2" height="2" fill="#b500ff"/>
<rect x="374" y="319" width="2" height="2" fill="#c000ff"/>
<rect x="376" y="319" width="2" height="2" fill="#cb00ff"/>
<rect x="378" y="319" width="2" height="2" fill="#d600ff"/>
<rect x="380" y="319" width="2" height="2" fill="#df00ff"/>
<rect x="382" y="319" width="2" height="2" fill="#e900ff"/>
<rect x="384" y="319" width="2" height="2" fill="#f200ff"/>
<rect x="386" y="319" width="2" height="2" fill="#fb00ff"/>
<rect x="388" y="319" width="2" height="2" fill="#ff00fb"/>
<rect x="390" y="319" width="2" height="2" fill="#ff00f3"/>
<rect x="392" y="319" width="2" height="2" fill="#ff00eb"/>
<rect x="394" y="319" width="2" height="2" fill="#ff00e4"/>
<rect x="396" y="319" width="2" height="2" fill="#ff00de"/>
<rect x="352" y="321" width="2" height="2" fill="#0068ff"/>
<rect x="354" y="321" width="2" height="2" fill="#0061ff"/>
<rect x="356" y="321" width="2" height="2" fill="#005aff"/>
<rect x="358" y="321" width="2" height="2" fill="#0050ff"/>
<rect x="360" y="321" width="2" height="2" fill="#3444ff"/>
<rect x="362" y="321" width="2" height="2" fill="#6231ff"/>
<rect x="364" y="321" width="2" height="2" fill="#7b00ff"/>
<rect x="366" y="321" width="2" height="2" fill="#8d00ff"/>
<rect x="368" y="321" width="2" height="2" fill="#9d00ff"/>
<rect x="370" y="321" width="2" height="2" fill="#aa00ff"/>
<rect x="372" y="321" width="2" height="2" fill="#b600ff"/>
<rect x="374" y="321" width="2" height="2" fill="#c200ff"/>
<rect x="376" y="321" width="2" height="2" fill="#cc00ff"/>
<rect x="378" y="321" width="2" height="2" fill="#d600ff"/>
<rect x="380" y="321" width="2" height="2" fill="#e000ff"/>
<rect x="382" y="321" width="2" height="2" fill="#e900ff"/>
<rect x="384" y="321" width="2" height="2" fill="#f200ff"/>
<rect x="386" y="321" width="2" height="2" fill="#fa00ff"/>
<rect x="388" y="321" width="2" height="2" fill="#ff00fb"/>
<rect x="390" y="321" width="2" height="2" fill="#ff00f3"/>
<rect x="392" y="321" width="2" height="2" fill="#ff00ec"/>
<rect x="352" y="323" width="2" height="2" fill="#005aff"/>
<rect x="354" y="323" width="2" height="2" fill="#0051ff"/>
<rect x="356" y="323" width="2" height="2" fill="#0046ff"/>
<rect x="358" y="323" width="2" height="2" fill="#0035ff"/>
<rect x="360" y="323" width="2" height="2" fill="#4600ff"/>
<rect x="362" y="323" width="2" height="2" fill="#6900ff"/>
<rect x="364" y="323" width="2" height="2" fill="#7f00ff"/>
<rect x="366" y="323" width="2" height="2" fill="#9100ff"/>
<rect x="368" y="323" width="2" height="2" fill="#9f00ff"/>
<rect x="370" y="323" width="2" height="2" fill="#ac00ff"/>
<rect x="372" y="323" width="2" height="2" fill="#b800ff"/>
<rect x="374" y="323" width="2" height="2" fill="#c300ff"/>
<rect x="376" y="323" width="2" height="2" fill="#cd00ff"/>
<rect x="378" y="323" width="2" height="2" fill="#d700ff"/>
<rect x="380" y="323" width="2" height="2" fill="#e000ff"/>
<rect x="382" y="323" width="2" height="2" fill="#e900ff"/>
<rect x="384" y="323" width="2" height="2" fill="#f200ff"/>
<rect x="386" y="323" width="2" height="2" fill="#fa00ff"/>
<rect x="388" y="323" width="2" height="2" fill="#ff00fc"/>
<rect x="354" y="325" width="2" height="2" fill="#0038ff"/>
<rect x="356" y="325" width="2" height="2" fill="#000cff"/>
<rect x="358" y="325" width="2" height="2" fill="#0000ff"/>
<rect x="360" y="325" width="2" height="2" fill="#5200ff"/>
<rect x="362" y="325" width="2" height="2" fill="#6f00ff"/>
<rect x="364" y="325" width="2" height="2" fill="#8300ff"/>
<rect x="366" y="325" width="2" height="2" fill="#9400ff"/>
<rect x="368" y="325" width="2" height="2" fill="#a100ff"/>
<rect x="370" y="325" width="2" height="2" fill="#ae00ff"/>
<rect x="372" y="325" width="2" height="2" fill="#b900ff"/>
<rect x="374" y="325" width="2" height="2" fill="#c400ff"/>
<rect x="376" y="325" width="2" height="2" fill="#ce00ff"/>
<rect x="378" y="325" width="2" height="2" fill="#d700ff"/>
<rect x="380" y="325" width="2" height="2" fill="#e000ff"/>
<rect x="382" y="325" width="2" height="2" fill="#e900ff"/>
<rect x="384" y="325" width="2" height="2" fill="#f200ff"/>
<rect x="354" y="327" width="2" height="2" fill="#0000ff"/>
<rect x="356" y="327" width="2" height="2" fill="#0000ff"/>
<rect x="358" y="327" width="2" height="2" fill="#1e00ff"/>
<rect x="360" y="327" width="2" height="2" fill="#5b00ff"/>
<rect x="362" y="327" width="2" height="2" fill="#7400ff"/>
<rect x="364" y="327" width="2" height="2" fill="#8700ff"/>
<rect x="366" y="327" width="2" height="2" fill="#9600ff"/>
<rect x="368" y="327" width="2" height="2" fill="#a400ff"/>
<rect x="370" y="327" width="2" height="2" fill="#b000ff"/>
<rect x="372" y="327" width="2" height="2" fill="#bb00ff"/>
<rect x="374" y="327" width="2" height="2" fill="#c500ff"/>
<rect x="376" y="327" width="2" height="2" fill="#cf00ff"/>
<rect x="378" y="327" width="2" height="2" fill="#d800ff"/>
<rect x="380" y="327" width="2" height="2" fill="#e100ff"/>
<rect x="356" y="329" width="2" height="2" fill="#0000ff"/>
<rect x="358" y="329" width="2" height="2" fill="#3b00ff"/>
<rect x="360" y="329" width="2" height="2" fill="#6200ff"/>
<rect x="362" y="329" width="2" height="2" fill="#7900ff"/>
<rect x="364" y="329" width="2" height="2" fill="#8a00ff"/>
<rect x="366" y="329" width="2" height="2" fill="#9900ff"/>
<rect x="368" y="329" width="2" height="2" fill="#a600ff"/>
<rect x="370" y="329" width="2" height="2" fill="#b100ff"/>
<rect x="372" y="329" width="2" height="2" fill="#bc00ff"/>
<rect x="374" y="329" width="2" height="2" fill="#c600ff"/>
<rect x="376" y="329" width="2" height="2" fill="#cf00ff"/>
<rect x="358" y="331" width="2" height="2" fill="#4900ff"/>
<rect x="360" y="331" width="2" height="2" fill="#6900ff"/>
<rect x="362" y="331" width="2" height="2" fill="#7d00ff"/>
<rect x="364" y="331" width="2" height="2" fill="#8d00ff"/>
<rect x="366" y="331" width="2" height="2" fill="#9b00ff"/>
<rect x="368" y="331" width="2" height="2" fill="#a800ff"/>
<rect x="370" y="331" width="2" height="2" fill="#b300ff"/>
<rect x="360" y="333" width="2" height="2" fill="#6e00ff"/>
<rect x="362" y="333" width="2" height="2" fill="#8100ff"/>
<rect x="364" y="333" width="2" height="2" fill="#9000ff"/>
<rect x="366" y="333" width="2" height="2" fill="#9e00ff"/>
</g>
<path d="M363.8,333.3L363.8,333.3L363.7,333.3L363.7,333.3L363.6,333.3L363.6,333.3L363.5,333.3L363.4,333.3L363.3,333.3L363.2,333.2L363.1,333.1L363.0,333.1L362.9,332.9L362.7,332.8L362.6,332.6L362.3,332.5L362.1,332.2L361.8,332.0L361.5,331.7L361.1,331.4L360.7,331.1L360.3,330.7L359.7,330.2L359.1,329.5L358.4,328.6L357.5,327.5L356.6,326.2L355.8,325.0L355.1,323.8L354.5,322.7L354.0,321.5L353.4,320.1L352.7,318.6L352.0,316.8L351.2,314.7L350.3,312.5L349.4,310.0L348.5,307.2L347.5,304.3L346.6,301.0L345.6,297.4L344.6,293.6L343.7,289.4L342.7,285.0L341.7,280.3L340.8,275.4L339.9,270.3L339.1,265.1L338.4,259.9L337.8,254.6L337.2,249.4L336.8,244.3L336.5,239.3L336.3,234.5L336.3,229.8L336.4,225.4L336.7,221.2L337.2,217.3L337.8,213.7L338.6,210.4L339.6,207.6L340.7,205.2L341.9,203.2L343.3,201.7L344.7,200.6L346.2,199.9L347.8,199.6L349.4,199.6L351.1,199.9L352.8,200.3L354.5,201.0L356.2,201.7L357.8,202.6L359.5,203.5L361.2,204.4L362.8,205.4L364.4,206.4L365.9,207.4L367.5,208.5L369.0,209.6L370.6,210.7L372.1,211.9L373.6,213.1L375.1,214.3L376.6,215.6L378.1,216.9L379.6,218.2L381.1,219.5L382.6,220.8L384.1,222.2L385.5,223.5L387.0,224.9L388.5,226.3L390.0,227.7L391.5,229.1L393.0,230.6L394.5,232.0L396.0,233.4L397.4,234.9L398.9,236.3L400.4,237.8L401.9,239.2L403.4,240.7L404.8,242.2L406.3,243.6L407.8,245.1L409.2,246.5L410.7,247.9L412.1,249.4L413.5,250.8L414.9,252.2L416.3,253.6L417.7,255.0L419.1,256.3L420.5,257.7L421.8,259.0L423.1,260.4L424.4,261.7L425.7,262.9L427.0,264.2L428.2,265.4L429.4,266.6L430.7,267.9L431.8,269.0L432.9,270.0L433.8,271.0L434.7,271.9L435.7,272.8L436.9,274.0L438.4,275.5L440.1,277.2L441.8,278.9L443.3,280.4L444.6,281.7L445.7,282.8L446.6,283.8L447.5,284.6L448.2,285.3L448.9,286.0L449.5,286.6L450.1,287.2L450.6,287.7L451.1,288.2L451.5,288.6L451.9,289.0L452.2,289.3L452.5,289.6L452.7,289.8L452.9,290.0L453.1,290.2L453.3,290.4L453.4,290.5L453.6,290.7L453.7,290.8L453.9,291.0L454.0,291.1L454.1,291.2L454.2,291.3L454.2,291.3L454.2,291.3Z" fill="none" stroke="#1c2a20" stroke-opacity=".6" stroke-width=".9"/>
<path d="M365.1,303.0L375.7,313.6M375.7,303.0L365.1,313.6" stroke="#66b6b8" stroke-width="2.2" fill="none"/>
<g>
<rect x="520.0" y="198.0" width="177.6" height="131.3" fill="#fff"/>
<line x1="565.20" y1="198.0" x2="565.20" y2="329.3" stroke="#cfcfcf" stroke-width="1.4"/>
<line x1="609.60" y1="198.0" x2="609.60" y2="329.3" stroke="#cfcfcf" stroke-width="1.4"/>
<line x1="654.00" y1="198.0" x2="654.00" y2="329.3" stroke="#cfcfcf" stroke-width="1.4"/>
<line x1="520.0" y1="264.65" x2="697.6" y2="264.65" stroke="#cfcfcf" stroke-width="1.4"/>
<clipPath id="c3"><path d="M543.4,329.3L543.4,329.3L543.8,329.3L544.2,329.2L544.6,329.2L545.0,329.1L545.4,329.0L545.8,328.9L546.2,328.7L546.6,328.5L547.0,328.1L547.4,327.7L547.9,327.2L548.3,326.7L548.7,326.0L549.1,325.1L549.5,324.1L549.9,322.9L550.3,321.6L550.7,320.1L551.1,318.4L551.5,316.3L551.9,313.9L552.3,311.3L552.7,308.5L553.1,305.7L553.5,302.6L553.9,299.1L554.3,295.5L554.7,291.9L555.1,288.6L555.5,285.2L555.9,281.8L556.3,278.8L556.7,276.8L557.1,275.4L557.5,274.2L557.9,273.4L558.3,273.1L558.7,273.7L559.2,275.1L559.6,276.8L560.0,278.7L560.4,281.2L560.8,283.7L561.2,286.0L561.6,287.9L562.0,289.8L562.4,291.6L562.8,293.3L563.2,294.9L563.6,296.5L564.0,298.0L564.4,299.5L564.8,300.9L565.2,302.3L565.6,303.6L566.0,304.7L566.4,305.7L566.8,306.5L567.2,307.4L567.6,308.2L568.0,308.9L568.4,309.5L568.8,310.1L569.2,310.6L569.6,310.9L570.1,311.2L570.5,311.5L570.9,311.7L571.3,311.9L571.7,312.1L572.1,312.2L572.5,312.2L572.9,312.1L573.3,311.9L573.7,311.6L574.1,311.2L574.5,310.7L574.9,310.3L575.3,309.7L575.7,309.1L576.1,308.3L576.5,307.5L576.9,306.6L577.3,305.7L577.7,304.7L578.1,303.7L578.5,302.5L578.9,301.2L579.3,299.8L579.7,297.9L580.1,295.7L580.5,293.2L580.9,290.5L581.4,287.6L581.8,284.8L582.2,282.0L582.6,279.3L583.0,276.6L583.4,273.7L583.8,270.9L584.2,267.9L584.6,265.0L585.0,261.9L585.4,258.6L585.8,255.3L586.2,252.0L586.6,248.8L587.0,245.6L587.4,242.6L587.8,239.8L588.2,237.1L588.6,234.4L589.0,231.9L589.4,229.3L589.8,226.9L590.2,224.4L590.6,222.0L591.0,219.6L591.4,217.2L591.8,215.0L592.3,213.0L592.7,211.1L593.1,209.4L593.5,207.7L593.9,206.1L594.3,204.6L594.7,203.3L595.1,202.2L595.5,201.3L595.9,200.5L596.3,199.7L596.7,199.1L597.1,198.5L597.5,198.1L597.9,198.0L598.3,198.1L598.7,198.3L599.1,198.6L599.5,199.0L599.9,199.5L600.3,200.0L600.7,200.6L601.1,201.4L601.5,202.4L601.9,203.6L602.3,204.8L602.7,206.0L603.1,207.2L603.6,208.4L604.0,209.6L604.4,210.9L604.8,212.2L605.2,213.6L605.6,215.0L606.0,216.3L606.4,217.7L606.8,219.0L607.2,220.4L607.6,221.7L608.0,223.1L608.4,224.4L608.8,225.8L609.2,227.3L609.6,228.9L610.0,230.5L610.4,232.2L610.8,234.0L611.2,235.8L611.6,237.7L612.0,239.6L612.4,241.5L612.8,243.4L613.2,245.3L613.6,247.1L614.0,249.0L614.5,250.9L614.9,252.8L615.3,254.7L615.7,256.6L616.1,258.5L616.5,260.4L616.9,262.3L617.3,264.3L617.7,266.3L618.1,268.4L618.5,270.4L618.9,272.5L619.3,274.6L619.7,276.7L620.1,278.8L620.5,280.8L620.9,282.7L621.3,284.6L621.7,286.5L622.1,288.4L622.5,290.3L622.9,292.1L623.3,293.9L623.7,295.6L624.1,297.3L624.5,298.9L624.9,300.4L625.3,301.9L625.8,303.3L626.2,304.7L626.6,306.0L627.0,307.3L627.4,308.6L627.8,309.8L628.2,310.9L628.6,311.9L629.0,312.9L629.4,313.8L629.8,314.6L630.2,315.5L630.6,316.3L631.0,317.0L631.4,317.7L631.8,318.4L632.2,319.0L632.6,319.6L633.0,320.1L633.4,320.6L633.8,321.1L634.2,321.5L634.6,321.9L635.0,322.3L635.4,322.7L635.8,323.1L636.2,323.4L636.7,323.7L637.1,324.0L637.5,324.4L637.9,324.7L638.3,325.0L638.7,325.2L639.1,325.5L639.5,325.8L639.9,326.0L640.3,326.2L640.7,326.5L641.1,326.7L641.5,326.9L641.9,327.1L642.3,327.2L642.7,327.4L643.1,327.6L643.5,327.7L643.9,327.9L644.3,328.0L644.7,328.1L645.1,328.2L645.5,328.4L645.9,328.5L646.3,328.6L646.7,328.7L647.1,328.8L647.5,328.9L648.0,329.0L648.4,329.0L648.8,329.1L649.2,329.2L649.6,329.2L650.0,329.3L650.0,329.3Z"/></clipPath>
<g clip-path="url(#c3)">
<rect x="520.00" y="198.0" width="7.15" height="131.3" fill="#3c009e"/>
<rect x="526.75" y="198.0" width="7.15" height="131.3" fill="#3c00c0"/>
<rect x="533.50" y="198.0" width="7.15" height="131.3" fill="#3300e8"/>
<rect x="540.25" y="198.0" width="7.15" height="131.3" fill="#1d00ff"/>
<rect x="547.00" y="198.0" width="7.15" height="131.3" fill="#001fff"/>
<rect x="553.75" y="198.0" width="7.15" height="131.3" fill="#007cff"/>
<rect x="560.50" y="198.0" width="7.15" height="131.3" fill="#00c9ff"/>
<rect x="567.25" y="198.0" width="7.15" height="131.3" fill="#00ffd8"/>
<rect x="574.00" y="198.0" width="7.15" height="131.3" fill="#05ff00"/>
<rect x="580.75" y="198.0" width="7.15" height="131.3" fill="#53ff00"/>
<rect x="587.50" y="198.0" width="7.15" height="131.3" fill="#8fff00"/>
<rect x="594.25" y="198.0" width="7.15" height="131.3" fill="#c5ff00"/>
<rect x="601.00" y="198.0" width="7.15" height="131.3" fill="#f7ff00"/>
<rect x="607.75" y="198.0" width="7.15" height="131.3" fill="#ffd200"/>
<rect x="614.50" y="198.0" width="7.15" height="131.3" fill="#ff9800"/>
<rect x="621.25" y="198.0" width="7.15" height="131.3" fill="#ff5900"/>
<rect x="628.00" y="198.0" width="7.15" height="131.3" fill="#ff0700"/>
<rect x="634.75" y="198.0" width="7.15" height="131.3" fill="#ff0000"/>
<rect x="641.50" y="198.0" width="7.15" height="131.3" fill="#ff0000"/>
<rect x="648.25" y="198.0" width="7.15" height="131.3" fill="#ff0000"/>
<rect x="655.00" y="198.0" width="7.15" height="131.3" fill="#f40000"/>
<rect x="661.75" y="198.0" width="7.15" height="131.3" fill="#e20000"/>
<rect x="668.50" y="198.0" width="7.15" height="131.3" fill="#d00000"/>
<rect x="675.25" y="198.0" width="7.15" height="131.3" fill="#be0000"/>
<rect x="682.00" y="198.0" width="7.15" height="131.3" fill="#ac0000"/>
<rect x="688.75" y="198.0" width="7.15" height="131.3" fill="#a90000"/>
<rect x="695.50" y="198.0" width="7.15" height="131.3" fill="#a90000"/>
</g>
<path d="M700.5,199.5V331.9H522.0" fill="none" stroke="#ebebeb" stroke-width="3.6"/>
<line x1="520.00" y1="329.3" x2="520.00" y2="333.8" stroke="#c4c4c4" stroke-width="1.1"/>
<line x1="565.20" y1="329.3" x2="565.20" y2="333.8" stroke="#c4c4c4" stroke-width="1.1"/>
<line x1="609.60" y1="329.3" x2="609.60" y2="333.8" stroke="#c4c4c4" stroke-width="1.1"/>
<line x1="654.00" y1="329.3" x2="654.00" y2="333.8" stroke="#c4c4c4" stroke-width="1.1"/>
<line x1="697.60" y1="329.3" x2="697.60" y2="333.8" stroke="#c4c4c4" stroke-width="1.1"/>
<rect x="520.0" y="198.0" width="177.6" height="131.3" fill="none" stroke="#838383" stroke-width="2"/>
</g>
<g>
<rect x="738.4" y="198.0" width="177.5" height="131.3" fill="#fff"/>
<line x1="783.57" y1="198.0" x2="783.57" y2="329.3" stroke="#cfcfcf" stroke-width="1.4"/>
<line x1="827.95" y1="198.0" x2="827.95" y2="329.3" stroke="#cfcfcf" stroke-width="1.4"/>
<line x1="872.32" y1="198.0" x2="872.32" y2="329.3" stroke="#cfcfcf" stroke-width="1.4"/>
<line x1="738.4" y1="264.65" x2="915.9" y2="264.65" stroke="#cfcfcf" stroke-width="1.4"/>
<clipPath id="c4"><path d="M761.6,329.3L761.6,329.3L762.0,329.3L762.4,329.2L762.8,329.1L763.2,328.9L763.7,328.8L764.1,328.6L764.5,328.4L764.9,328.1L765.3,327.8L765.7,327.4L766.1,327.1L766.5,326.7L766.9,326.2L767.3,325.8L767.7,325.2L768.1,324.6L768.5,324.0L768.9,323.2L769.3,322.5L769.7,321.6L770.1,320.7L770.5,319.7L770.9,318.4L771.3,317.0L771.7,315.5L772.1,313.9L772.5,312.3L772.9,310.5L773.3,308.6L773.7,306.6L774.1,304.4L774.5,302.1L774.9,299.6L775.4,296.9L775.8,293.8L776.2,290.4L776.6,286.9L777.0,283.3L777.4,279.7L777.8,276.0L778.2,271.9L778.6,267.4L779.0,262.3L779.4,256.1L779.8,249.2L780.2,241.8L780.6,234.4L781.0,227.3L781.4,220.0L781.8,212.4L782.2,204.1L782.6,198.0L783.0,203.1L783.4,210.3L783.8,217.1L784.2,223.5L784.6,229.6L785.0,235.5L785.4,241.4L785.8,247.0L786.2,252.5L786.6,257.9L787.1,263.0L787.5,267.9L787.9,272.7L788.3,277.2L788.7,281.4L789.1,285.2L789.5,288.8L789.9,292.2L790.3,295.4L790.7,298.2L791.1,300.6L791.5,302.8L791.9,304.9L792.3,306.8L792.7,308.6L793.1,310.3L793.5,311.8L793.9,313.1L794.3,314.3L794.7,315.4L795.1,316.5L795.5,317.4L795.9,318.3L796.3,319.1L796.7,319.7L797.1,320.1L797.5,320.4L797.9,320.8L798.3,321.0L798.8,321.3L799.2,321.5L799.6,321.6L800.0,321.7L800.4,321.7L800.8,321.6L801.2,321.6L801.6,321.4L802.0,321.3L802.4,321.1L802.8,321.0L803.2,320.8L803.6,320.6L804.0,320.4L804.4,320.2L804.8,320.0L805.2,319.8L805.6,319.5L806.0,319.2L806.4,318.9L806.8,318.6L807.2,318.3L807.6,317.9L808.0,317.6L808.4,317.4L808.8,317.1L809.2,316.8L809.6,316.6L810.0,316.4L810.4,316.2L810.9,316.0L811.3,315.8L811.7,315.6L812.1,315.4L812.5,315.2L812.9,315.1L813.3,314.9L813.7,314.7L814.1,314.6L814.5,314.4L814.9,314.3L815.3,314.2L815.7,314.1L816.1,314.0L816.5,313.9L816.9,313.8L817.3,313.7L817.7,313.7L818.1,313.6L818.5,313.5L818.9,313.4L819.3,313.4L819.7,313.3L820.1,313.3L820.5,313.2L820.9,313.2L821.3,313.2L821.7,313.1L822.1,313.1L822.6,313.1L823.0,313.1L823.4,313.0L823.8,313.0L824.2,313.0L824.6,313.0L825.0,312.9L825.4,312.9L825.8,312.9L826.2,312.9L826.6,312.9L827.0,312.9L827.4,312.9L827.8,312.9L828.2,312.9L828.6,312.9L829.0,312.9L829.4,313.0L829.8,313.0L830.2,313.1L830.6,313.1L831.0,313.2L831.4,313.2L831.8,313.3L832.2,313.3L832.6,313.4L833.0,313.5L833.4,313.5L833.8,313.6L834.2,313.6L834.7,313.7L835.1,313.8L835.5,313.9L835.9,313.9L836.3,314.0L836.7,314.1L837.1,314.2L837.5,314.3L837.9,314.4L838.3,314.5L838.7,314.6L839.1,314.7L839.5,314.8L839.9,314.9L840.3,315.1L840.7,315.2L841.1,315.3L841.5,315.4L841.9,315.5L842.3,315.7L842.7,315.8L843.1,315.9L843.5,316.1L843.9,316.2L844.3,316.4L844.7,316.5L845.1,316.7L845.5,316.8L845.9,317.0L846.4,317.2L846.8,317.3L847.2,317.5L847.6,317.7L848.0,317.8L848.4,318.0L848.8,318.1L849.2,318.3L849.6,318.5L850.0,318.6L850.4,318.8L850.8,319.0L851.2,319.2L851.6,319.3L852.0,319.5L852.4,319.7L852.8,319.8L853.2,320.0L853.6,320.2L854.0,320.3L854.4,320.5L854.8,320.6L855.2,320.8L855.6,320.9L856.0,321.0L856.4,321.2L856.8,321.3L857.2,321.4L857.6,321.6L858.1,321.7L858.5,321.8L858.9,322.0L859.3,322.1L859.7,322.2L860.1,322.3L860.5,322.5L860.9,322.6L861.3,322.7L861.7,322.8L862.1,322.9L862.5,323.0L862.9,323.2L863.3,323.3L863.7,323.4L864.1,323.5L864.5,323.6L864.9,323.7L865.3,323.8L865.7,323.9L866.1,324.0L866.5,324.1L866.9,324.2L867.3,324.3L867.7,324.4L868.1,324.5L868.5,324.6L868.9,324.7L869.3,324.8L869.8,324.8L870.2,324.9L870.6,325.0L871.0,325.1L871.4,325.2L871.8,325.3L872.2,325.3L872.6,325.4L873.0,325.5L873.4,325.6L873.8,325.7L874.2,325.7L874.6,325.8L875.0,325.9L875.4,325.9L875.8,326.0L876.2,326.1L876.6,326.2L877.0,326.2L877.4,326.3L877.8,326.4L878.2,326.4L878.6,326.5L879.0,326.5L879.4,326.6L879.8,326.7L880.2,326.7L880.6,326.8L881.0,326.8L881.4,326.9L881.9,326.9L882.3,327.0L882.7,327.0L883.1,327.1L883.5,327.1L883.9,327.2L884.3,327.2L884.7,327.3L885.1,327.3L885.5,327.4L885.9,327.4L886.3,327.4L886.7,327.5L887.1,327.5L887.5,327.6L887.9,327.6L888.3,327.6L888.7,327.7L889.1,327.7L889.5,327.8L889.9,327.8L890.3,327.8L890.7,327.9L891.1,327.9L891.5,327.9L891.9,328.0L892.3,328.0L892.7,328.0L893.1,328.1L893.6,328.1L894.0,328.1L894.4,328.1L894.8,328.2L895.2,328.2L895.6,328.2L896.0,328.3L896.4,328.3L896.8,328.3L897.2,328.3L897.6,328.4L898.0,328.4L898.4,328.4L898.8,328.4L899.2,328.4L899.6,328.5L900.0,328.5L900.4,328.5L900.8,328.5L901.2,328.6L901.6,328.6L902.0,328.6L902.4,328.6L902.8,328.6L903.2,328.7L903.6,328.7L904.0,328.7L904.4,328.7L904.8,328.7L905.2,328.7L905.7,328.8L906.1,328.8L906.5,328.8L906.9,328.8L907.3,328.8L907.7,328.9L908.1,328.9L908.5,328.9L908.9,328.9L909.3,328.9L909.7,329.0L910.1,329.0L910.5,329.0L910.9,329.0L911.3,329.0L911.7,329.0L912.1,329.1L912.5,329.1L912.9,329.1L913.3,329.1L913.7,329.1L914.1,329.1L914.5,329.1L914.9,329.2L914.9,329.3Z"/></clipPath>
<g clip-path="url(#c4)">
<rect x="738.40" y="198.0" width="7.15" height="131.3" fill="#3c009e"/>
<rect x="745.15" y="198.0" width="7.15" height="131.3" fill="#3c009e"/>
<rect x="751.90" y="198.0" width="7.15" height="131.3" fill="#3c00c0"/>
<rect x="758.65" y="198.0" width="7.15" height="131.3" fill="#3300e8"/>
<rect x="765.40" y="198.0" width="7.15" height="131.3" fill="#1d00ff"/>
<rect x="772.15" y="198.0" width="7.15" height="131.3" fill="#0020ff"/>
<rect x="778.90" y="198.0" width="7.15" height="131.3" fill="#007cff"/>
<rect x="785.65" y="198.0" width="7.15" height="131.3" fill="#00c9ff"/>
<rect x="792.40" y="198.0" width="7.15" height="131.3" fill="#00ffd7"/>
<rect x="799.15" y="198.0" width="7.15" height="131.3" fill="#06ff00"/>
<rect x="805.90" y="198.0" width="7.15" height="131.3" fill="#53ff00"/>
<rect x="812.65" y="198.0" width="7.15" height="131.3" fill="#8fff00"/>
<rect x="819.40" y="198.0" width="7.15" height="131.3" fill="#c5ff00"/>
<rect x="826.15" y="198.0" width="7.15" height="131.3" fill="#f8ff00"/>
<rect x="832.90" y="198.0" width="7.15" height="131.3" fill="#ffd100"/>
<rect x="839.65" y="198.0" width="7.15" height="131.3" fill="#ff9800"/>
<rect x="846.40" y="198.0" width="7.15" height="131.3" fill="#ff5800"/>
<rect x="853.15" y="198.0" width="7.15" height="131.3" fill="#ff0600"/>
<rect x="859.90" y="198.0" width="7.15" height="131.3" fill="#ff0000"/>
<rect x="866.65" y="198.0" width="7.15" height="131.3" fill="#ff0000"/>
<rect x="873.40" y="198.0" width="7.15" height="131.3" fill="#ff0000"/>
<rect x="880.15" y="198.0" width="7.15" height="131.3" fill="#f30000"/>
<rect x="886.90" y="198.0" width="7.15" height="131.3" fill="#e20000"/>
<rect x="893.65" y="198.0" width="7.15" height="131.3" fill="#d00000"/>
<rect x="900.40" y="198.0" width="7.15" height="131.3" fill="#be0000"/>
<rect x="907.15" y="198.0" width="7.15" height="131.3" fill="#ab0000"/>
<rect x="913.90" y="198.0" width="7.15" height="131.3" fill="#a90000"/>
</g>
<path d="M918.8,199.5V331.9H740.4" fill="none" stroke="#ebebeb" stroke-width="3.6"/>
<line x1="738.40" y1="329.3" x2="738.40" y2="333.8" stroke="#c4c4c4" stroke-width="1.1"/>
<line x1="783.57" y1="329.3" x2="783.57" y2="333.8" stroke="#c4c4c4" stroke-width="1.1"/>
<line x1="827.95" y1="329.3" x2="827.95" y2="333.8" stroke="#c4c4c4" stroke-width="1.1"/>
<line x1="872.32" y1="329.3" x2="872.32" y2="333.8" stroke="#c4c4c4" stroke-width="1.1"/>
<line x1="915.90" y1="329.3" x2="915.90" y2="333.8" stroke="#c4c4c4" stroke-width="1.1"/>
<rect x="738.4" y="198.0" width="177.5" height="131.3" fill="none" stroke="#838383" stroke-width="2"/>
</g>
<rect x="82.5" y="481.6" width="55.2" height="55.5" fill="#2200a2"/>
<rect x="82.5" y="536.8" width="55.2" height="55.5" fill="#1c32c4"/>
<rect x="82.5" y="592" width="55.2" height="53.9" fill="#7070ee"/>
<rect x="82.5" y="645.6" width="55.2" height="54.9" fill="#a2a2f6"/>
<rect x="82.5" y="742.6" width="55.2" height="55.0" fill="#2200a2"/>
<rect x="82.5" y="797.3" width="55.2" height="55.5" fill="#1c32c4"/>
<rect x="82.5" y="852.5" width="55.2" height="54.1" fill="#7070ee"/>
<rect x="82.5" y="906.3" width="55.2" height="55.0" fill="#a2a2f6"/>
<rect x="851.3" y="481.5" width="54.8" height="55.8" fill="#2200a2"/>
<rect x="851.3" y="537" width="54.8" height="55.3" fill="#1c32c4"/>
<rect x="851.3" y="592" width="54.8" height="54.3" fill="#7070ee"/>
<rect x="851.3" y="646" width="54.8" height="54.8" fill="#a2a2f6"/>
<rect x="851.3" y="742.6" width="54.8" height="54.9" fill="#2200a2"/>
<rect x="851.3" y="797.2" width="54.8" height="55.4" fill="#1c32c4"/>
<rect x="851.3" y="852.3" width="54.8" height="54.0" fill="#7070ee"/>
<rect x="851.3" y="906" width="54.8" height="55.3" fill="#a2a2f6"/>
<g style="isolation:isolate">
<linearGradient id="bd" x1="0" y1="0" x2="0" y2="1"><stop offset="0" stop-color="#a2a2f6"/><stop offset=".021" stop-color="#7070ee"/><stop offset=".982" stop-color="#7070ee"/><stop offset="1" stop-color="#a2a2f6"/></linearGradient>
<rect x="262.85" y="501.9" width="461.6" height="460.9" fill="#a2a2f6"/>
<rect x="262.85" y="627.3" width="461.6" height="191.7" fill="url(#bd)"/>
<rect x="340.8" y="661.2" width="304.2" height="123.1" fill="#1c32c4"/>
<rect x="378" y="677" width="232.5" height="95.3" fill="#2200a2"/>
<path d="M278.20,501.9V963.0M293.55,501.9V963.0M308.91,501.9V963.0M324.26,501.9V963.0M339.61,501.9V963.0M354.96,501.9V963.0M370.31,501.9V963.0M385.67,501.9V963.0M401.02,501.9V963.0M416.37,501.9V963.0M431.72,501.9V963.0M447.07,501.9V963.0M462.43,501.9V963.0M477.78,501.9V963.0M493.13,501.9V963.0M508.48,501.9V963.0M523.83,501.9V963.0M539.19,501.9V963.0M554.54,501.9V963.0M569.89,501.9V963.0M585.24,501.9V963.0M600.59,501.9V963.0M615.95,501.9V963.0M631.30,501.9V963.0M646.65,501.9V963.0M662.00,501.9V963.0M677.35,501.9V963.0M692.71,501.9V963.0M708.06,501.9V963.0M723.41,501.9V963.0" stroke="#6882cc" stroke-width="2.5" fill="none" style="mix-blend-mode:screen"/>
<path d="M646.65,501.9V961.8" stroke="#303848" stroke-width="3" fill="none" style="mix-blend-mode:screen"/>
<path d="M262.85,517.23H724.6M262.85,532.56H724.6M262.85,547.89H724.6M262.85,563.22H724.6M262.85,578.55H724.6M262.85,593.88H724.6M262.85,609.21H724.6M262.85,624.54H724.6M262.85,639.87H724.6M262.85,655.20H724.6M262.85,670.53H724.6M262.85,685.86H724.6M262.85,701.19H724.6M262.85,716.52H724.6M262.85,731.85H724.6M262.85,747.18H724.6M262.85,762.51H724.6M262.85,777.84H724.6M262.85,793.17H724.6M262.85,808.50H724.6M262.85,823.83H724.6M262.85,839.16H724.6M262.85,854.49H724.6M262.85,869.82H724.6M262.85,885.15H724.6M262.85,900.48H724.6M262.85,915.81H724.6M262.85,931.14H724.6M262.85,946.47H724.6M262.85,961.80H724.6" stroke="#6882cc" stroke-width="2.5" fill="none" style="mix-blend-mode:screen"/>
</g>
<text x="306.09" y="141" font-size="74.64" stroke="#000" stroke-width="0.5" textLength="103.03" lengthAdjust="spacingAndGlyphs">Full</text>
<text x="428.16" y="141" font-size="74.64" stroke="#000" stroke-width="0.5" textLength="272.74" lengthAdjust="spacingAndGlyphs">Spectrum</text>
<text x="348.82" y="480.2" font-size="52.98" stroke="#000" stroke-width="0.7" textLength="28.34" lengthAdjust="spacingAndGlyphs">A</text>
<text x="392.14" y="480.2" font-size="52.98" stroke="#000" stroke-width="0.7" textLength="116.90" lengthAdjust="spacingAndGlyphs">Single</text>
<text x="520.83" y="480.2" font-size="52.98" stroke="#000" stroke-width="0.7" textLength="111.44" lengthAdjust="spacingAndGlyphs">Panel</text>
<text x="71.97" y="473" font-size="31.03" stroke="#000" stroke-width="1.3" textLength="37.11" lengthAdjust="spacingAndGlyphs">Lm</text>
<text x="118.99" y="473" font-size="31.03" stroke="#000" stroke-width="1.3" textLength="63.24" lengthAdjust="spacingAndGlyphs">Value</text>
<text x="71.73" y="733.6" font-size="31.03" stroke="#000" stroke-width="1.3" textLength="114.64" lengthAdjust="spacingAndGlyphs">Irradiation</text>
<text x="196.96" y="733.6" font-size="31.03" stroke="#000" stroke-width="1.3" textLength="51.07" lengthAdjust="spacingAndGlyphs">Area</text>
<text x="736.34" y="472.6" font-size="25.73" stroke="#000" stroke-width="1.0" textLength="49.80" lengthAdjust="spacingAndGlyphs">15cm</text>
<text x="793.98" y="472.6" font-size="30.45" stroke="#000" stroke-width="1.3" textLength="51.02" lengthAdjust="spacingAndGlyphs">PAR</text>
<text x="855.99" y="472.6" font-size="30.45" stroke="#000" stroke-width="1.3" textLength="63.63" lengthAdjust="spacingAndGlyphs">Value</text>
<text x="737.39" y="733" font-size="25.44" stroke="#000" stroke-width="1.0" textLength="53.56" lengthAdjust="spacingAndGlyphs">60cm</text>
<text x="794.97" y="733" font-size="30.45" stroke="#000" stroke-width="1.3" textLength="51.05" lengthAdjust="spacingAndGlyphs">PAR</text>
<text x="856.99" y="733" font-size="30.45" stroke="#000" stroke-width="1.3" textLength="63.63" lengthAdjust="spacingAndGlyphs">Value</text>
<text x="149.04" y="519.5" font-size="25.0" stroke="#000" stroke-width="0.8" textLength="101.96" lengthAdjust="spacingAndGlyphs">5000~6000</text>
<text x="149.09" y="577.2" font-size="25.0" stroke="#000" stroke-width="0.8" textLength="101.91" lengthAdjust="spacingAndGlyphs">3000~5000</text>
<text x="148.48" y="635.0" font-size="25.0" stroke="#000" stroke-width="0.8" textLength="100.60" lengthAdjust="spacingAndGlyphs">1000~3000</text>
<text x="149.05" y="692.0" font-size="25.0" stroke="#000" stroke-width="0.8" textLength="88.96" lengthAdjust="spacingAndGlyphs">500~1000</text>
<text x="149.11" y="788.8" font-size="25.0" stroke="#000" stroke-width="0.8" textLength="53.99" lengthAdjust="spacingAndGlyphs">30x12</text>
<text x="210.16" y="788.8" font-size="25.0" stroke="#000" stroke-width="0.8" textLength="26.80" lengthAdjust="spacingAndGlyphs">cm</text>
<text x="149.55" y="846.8" font-size="25.0" stroke="#000" stroke-width="0.8" textLength="52.95" lengthAdjust="spacingAndGlyphs">40x16</text>
<text x="210.16" y="846.8" font-size="25.0" stroke="#000" stroke-width="0.8" textLength="26.80" lengthAdjust="spacingAndGlyphs">cm</text>
<text x="148.90" y="903.6" font-size="25.0" stroke="#000" stroke-width="0.8" textLength="54.58" lengthAdjust="spacingAndGlyphs">60x24</text>
<text x="211.36" y="903.6" font-size="25.0" stroke="#000" stroke-width="0.8" textLength="26.68" lengthAdjust="spacingAndGlyphs">cm</text>
<text x="148.90" y="961.3" font-size="25.0" stroke="#000" stroke-width="0.8" textLength="55.11" lengthAdjust="spacingAndGlyphs">60x60</text>
<text x="211.89" y="961.3" font-size="25.0" stroke="#000" stroke-width="0.8" textLength="26.54" lengthAdjust="spacingAndGlyphs">cm</text>
<text x="737.53" y="515.7" font-size="25.0" stroke="#000" stroke-width="0.8" textLength="98.00" lengthAdjust="spacingAndGlyphs">1000~1500</text>
<text x="737.56" y="573.7" font-size="25.0" stroke="#000" stroke-width="0.8" textLength="88.44" lengthAdjust="spacingAndGlyphs">700~1000</text>
<text x="737.95" y="631.0" font-size="25.0" stroke="#000" stroke-width="0.8" textLength="79.99" lengthAdjust="spacingAndGlyphs">400~700</text>
<text x="737.58" y="687.7" font-size="25.0" stroke="#000" stroke-width="0.8" textLength="79.45" lengthAdjust="spacingAndGlyphs">200~400</text>
<text x="737.67" y="787.9" font-size="25.0" stroke="#000" stroke-width="0.8" textLength="78.76" lengthAdjust="spacingAndGlyphs">300~400</text>
<text x="737.65" y="845.8" font-size="25.0" stroke="#000" stroke-width="0.8" textLength="71.35" lengthAdjust="spacingAndGlyphs">200-300</text>
<text x="737.52" y="903.2" font-size="25.0" stroke="#000" stroke-width="0.8" textLength="76.53" lengthAdjust="spacingAndGlyphs">100~200</text>
<text x="737.64" y="960.4" font-size="25.0" stroke="#000" stroke-width="0.8" textLength="66.74" lengthAdjust="spacingAndGlyphs">50~100</text>
<text x="79.99" y="374.6" font-size="14.53" fill="#3f3551" textLength="179.02" lengthAdjust="spacingAndGlyphs">RADIOMETRIC SPECTRUM</text>
<text x="304.24" y="374.5" font-size="14.53" fill="#3f3551" textLength="166.05" lengthAdjust="spacingAndGlyphs">CIE 1931 COLOR GRAPH</text>
<text x="511.99" y="374.6" font-size="14.53" fill="#3f3551" textLength="184.90" lengthAdjust="spacingAndGlyphs">PHOTOMETRIC SPECTRUM</text>
<text x="747.99" y="374.6" font-size="14.53" fill="#3f3551" textLength="148.97" lengthAdjust="spacingAndGlyphs">PPF (PAR) SPECTRUM</text>
<text x="801.96" y="390.6" font-size="14.53" fill="#3f3551" textLength="42.34" lengthAdjust="spacingAndGlyphs">IN AIR</text>
<text x="71.50" y="348.0" font-size="17.3" fill="#444444" textLength="27.30" lengthAdjust="spacingAndGlyphs">360</text>
<text x="115.30" y="348.0" font-size="17.3" fill="#444444" textLength="27.63" lengthAdjust="spacingAndGlyphs">470</text>
<text x="159.70" y="348.0" font-size="17.3" fill="#444444" textLength="28.05" lengthAdjust="spacingAndGlyphs">580</text>
<text x="203.62" y="348.0" font-size="17.3" fill="#444444" textLength="28.81" lengthAdjust="spacingAndGlyphs">690</text>
<text x="248.39" y="348.0" font-size="17.3" fill="#444444" textLength="28.62" lengthAdjust="spacingAndGlyphs">800</text>
<text x="61.20" y="205.3" font-size="17.3" fill="#444444" textLength="22.74" lengthAdjust="spacingAndGlyphs">1.0</text>
<text x="61.81" y="269.9" font-size="17.3" fill="#444444" textLength="22.23" lengthAdjust="spacingAndGlyphs">0.5</text>
<text x="61.83" y="335.5" font-size="17.3" fill="#444444" textLength="22.13" lengthAdjust="spacingAndGlyphs">0.0</text>
<text x="507.15" y="348.0" font-size="17.3" fill="#444444" textLength="28.02" lengthAdjust="spacingAndGlyphs">360</text>
<text x="550.94" y="348.0" font-size="17.3" fill="#444444" textLength="28.06" lengthAdjust="spacingAndGlyphs">470</text>
<text x="595.08" y="348.0" font-size="17.3" fill="#444444" textLength="27.93" lengthAdjust="spacingAndGlyphs">580</text>
<text x="639.20" y="348.0" font-size="17.3" fill="#444444" textLength="28.42" lengthAdjust="spacingAndGlyphs">690</text>
<text x="683.59" y="348.0" font-size="17.3" fill="#444444" textLength="28.05" lengthAdjust="spacingAndGlyphs">800</text>
<text x="497.43" y="205.3" font-size="17.3" fill="#444444" textLength="22.51" lengthAdjust="spacingAndGlyphs">1.0</text>
<text x="497.63" y="269.9" font-size="17.3" fill="#444444" textLength="22.27" lengthAdjust="spacingAndGlyphs">0.5</text>
<text x="497.63" y="335.5" font-size="17.3" fill="#444444" textLength="22.17" lengthAdjust="spacingAndGlyphs">0.0</text>
<text x="725.16" y="348.0" font-size="17.3" fill="#444444" textLength="27.96" lengthAdjust="spacingAndGlyphs">360</text>
<text x="769.68" y="348.0" font-size="17.3" fill="#444444" textLength="27.14" lengthAdjust="spacingAndGlyphs">470</text>
<text x="813.10" y="348.0" font-size="17.3" fill="#444444" textLength="28.32" lengthAdjust="spacingAndGlyphs">580</text>
<text x="857.38" y="348.0" font-size="17.3" fill="#444444" textLength="28.08" lengthAdjust="spacingAndGlyphs">690</text>
<text x="901.88" y="348.0" font-size="17.3" fill="#444444" textLength="27.92" lengthAdjust="spacingAndGlyphs">800</text>
<text x="715.39" y="205.3" font-size="17.3" fill="#444444" textLength="22.91" lengthAdjust="spacingAndGlyphs">1.0</text>
<text x="716.00" y="269.9" font-size="17.3" fill="#444444" textLength="22.46" lengthAdjust="spacingAndGlyphs">0.5</text>
<text x="716.00" y="335.5" font-size="17.3" fill="#444444" textLength="22.36" lengthAdjust="spacingAndGlyphs">0.0</text>
<text x="316.96" y="348.0" font-size="17.3" fill="#444444" textLength="38.18" lengthAdjust="spacingAndGlyphs">0.000</text>
<text x="373.91" y="348.0" font-size="17.3" fill="#444444" textLength="41.11" lengthAdjust="spacingAndGlyphs">0.375</text>
<text x="435.12" y="348.0" font-size="17.3" fill="#444444" textLength="40.20" lengthAdjust="spacingAndGlyphs">0.750</text>
<text x="303.43" y="205.70000000000002" font-size="17.3" fill="#444444" textLength="31.43" lengthAdjust="spacingAndGlyphs">0.90</text>
<text x="303.42" y="270.09999999999997" font-size="17.3" fill="#444444" textLength="31.50" lengthAdjust="spacingAndGlyphs">0.45</text>
<text x="303.43" y="335.5" font-size="17.3" fill="#444444" textLength="31.43" lengthAdjust="spacingAndGlyphs">0.00</text>
</svg></body></html>
